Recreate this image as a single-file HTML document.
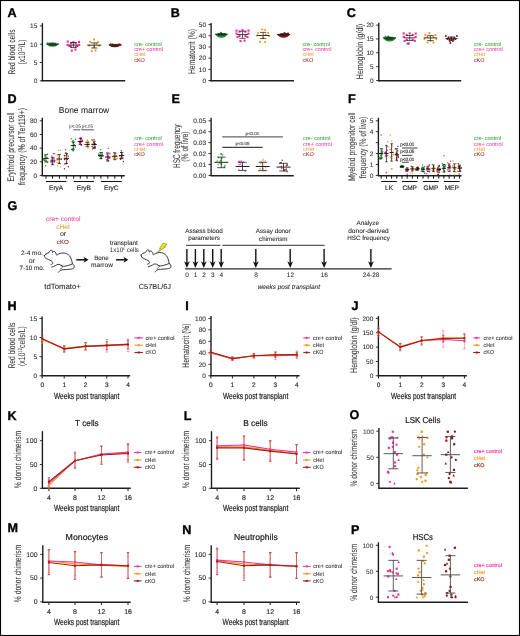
<!DOCTYPE html>
<html><head><meta charset="utf-8"><style>
html,body{margin:0;padding:0;background:#fff;}
svg{display:block;}
text{font-family:"Liberation Sans", sans-serif;text-rendering:geometricPrecision;}
</style></head><body>
<div style="will-change:transform;width:520px;height:636px">
<svg width="520" height="636" viewBox="0 0 520 636">
<rect x="0" y="0" width="520" height="636" fill="#fff"/>
<text x="7.40" y="16.50" font-size="12.6" fill="#000" font-weight="bold" stroke="#000" stroke-width="0.35">A</text>
<line x1="42.40" y1="23.20" x2="42.40" y2="81.40" stroke="#1e1e1e" stroke-width="1.4" />
<line x1="39.80" y1="80.80" x2="42.40" y2="80.80" stroke="#1e1e1e" stroke-width="0.9" />
<text x="37.30" y="83.10" font-size="6.5" fill="#333" text-anchor="end"  stroke="#333" stroke-width="0.1">0</text>
<line x1="39.80" y1="62.50" x2="42.40" y2="62.50" stroke="#1e1e1e" stroke-width="0.9" />
<text x="37.30" y="64.80" font-size="6.5" fill="#333" text-anchor="end"  stroke="#333" stroke-width="0.1">5</text>
<line x1="39.80" y1="44.20" x2="42.40" y2="44.20" stroke="#1e1e1e" stroke-width="0.9" />
<text x="37.30" y="46.50" font-size="6.5" fill="#333" text-anchor="end"  stroke="#333" stroke-width="0.1">10</text>
<line x1="39.80" y1="25.90" x2="42.40" y2="25.90" stroke="#1e1e1e" stroke-width="0.9" />
<text x="37.30" y="28.20" font-size="6.5" fill="#333" text-anchor="end"  stroke="#333" stroke-width="0.1">15</text>
<line x1="41.80" y1="80.80" x2="125.20" y2="80.80" stroke="#1e1e1e" stroke-width="1.4" />
<text transform="translate(14.90,52.00) rotate(-90)" x="0" y="0" font-size="9.6" fill="#3a3a3a" text-anchor="middle" textLength="45.00" lengthAdjust="spacingAndGlyphs"  stroke="#3a3a3a" stroke-width="0.08">Red blood cells</text>
<text transform="translate(24.8,52) rotate(-90)" x="0" y="0" font-size="9.6" fill="#333" text-anchor="middle" textLength="25" lengthAdjust="spacingAndGlyphs">(x10<tspan font-size="5.6" dy="-3.2">12</tspan><tspan dy="3.2">/L)</tspan></text>
<path d="M46.00,43.50 Q52.60,42.60 59.20,43.50 Q56.56,47.10 52.60,46.80 Q48.64,47.10 46.00,43.50 Z" fill="#1f8f2a"/>
<circle cx="50.66" cy="43.60" r="1.05" fill="#1f8f2a"/>
<circle cx="54.26" cy="44.12" r="1.05" fill="#1f8f2a"/>
<circle cx="52.99" cy="43.52" r="1.05" fill="#1f8f2a"/>
<circle cx="47.74" cy="43.23" r="1.05" fill="#1f8f2a"/>
<line x1="46.60" y1="44.20" x2="58.60" y2="44.20" stroke="#222" stroke-width="0.9" />
<line x1="52.60" y1="43.20" x2="52.60" y2="45.20" stroke="#222" stroke-width="0.7200000000000001" />
<line x1="49.10" y1="43.20" x2="56.10" y2="43.20" stroke="#222" stroke-width="0.7200000000000001" />
<line x1="49.10" y1="45.20" x2="56.10" y2="45.20" stroke="#222" stroke-width="0.7200000000000001" />
<rect x="66.75" y="40.55" width="2.10" height="2.10" fill="#ec2c8f"/>
<rect x="77.95" y="40.95" width="2.10" height="2.10" fill="#ec2c8f"/>
<rect x="66.55" y="43.95" width="2.10" height="2.10" fill="#ec2c8f"/>
<rect x="78.15" y="43.75" width="2.10" height="2.10" fill="#ec2c8f"/>
<rect x="69.95" y="41.95" width="2.10" height="2.10" fill="#ec2c8f"/>
<rect x="74.75" y="41.95" width="2.10" height="2.10" fill="#ec2c8f"/>
<rect x="69.95" y="45.55" width="2.10" height="2.10" fill="#ec2c8f"/>
<rect x="74.75" y="45.55" width="2.10" height="2.10" fill="#ec2c8f"/>
<rect x="70.75" y="49.55" width="2.10" height="2.10" fill="#ec2c8f"/>
<rect x="74.35" y="48.55" width="2.10" height="2.10" fill="#ec2c8f"/>
<rect x="72.35" y="41.15" width="2.10" height="2.10" fill="#ec2c8f"/>
<rect x="68.35" y="44.95" width="2.10" height="2.10" fill="#ec2c8f"/>
<rect x="76.35" y="44.95" width="2.10" height="2.10" fill="#ec2c8f"/>
<line x1="68.80" y1="45.00" x2="78.00" y2="45.00" stroke="#222" stroke-width="0.9" />
<line x1="73.40" y1="42.50" x2="73.40" y2="47.50" stroke="#222" stroke-width="0.7200000000000001" />
<line x1="70.40" y1="42.50" x2="76.40" y2="42.50" stroke="#222" stroke-width="0.7200000000000001" />
<line x1="70.40" y1="47.50" x2="76.40" y2="47.50" stroke="#222" stroke-width="0.7200000000000001" />
<circle cx="94.00" cy="39.60" r="1.1" fill="#f39a1e"/>
<circle cx="90.20" cy="41.90" r="1.1" fill="#f39a1e"/>
<circle cx="98.00" cy="42.20" r="1.1" fill="#f39a1e"/>
<circle cx="91.70" cy="51.20" r="1.1" fill="#f39a1e"/>
<circle cx="95.60" cy="50.40" r="1.1" fill="#f39a1e"/>
<circle cx="89.20" cy="45.40" r="1.1" fill="#f39a1e"/>
<circle cx="99.20" cy="45.70" r="1.1" fill="#f39a1e"/>
<circle cx="94.20" cy="47.20" r="1.1" fill="#f39a1e"/>
<circle cx="96.70" cy="43.70" r="1.1" fill="#f39a1e"/>
<line x1="87.20" y1="45.20" x2="101.20" y2="45.20" stroke="#222" stroke-width="0.9" />
<line x1="94.20" y1="42.90" x2="94.20" y2="48.00" stroke="#222" stroke-width="0.7200000000000001" />
<line x1="91.00" y1="42.90" x2="97.40" y2="42.90" stroke="#222" stroke-width="0.7200000000000001" />
<line x1="91.00" y1="48.00" x2="97.40" y2="48.00" stroke="#222" stroke-width="0.7200000000000001" />
<path d="M108.40,44.60 Q114.80,43.70 121.20,44.60 Q118.64,47.60 114.80,47.30 Q110.96,47.60 108.40,44.60 Z" fill="#8e1515"/>
<circle cx="120.52" cy="44.79" r="1.05" fill="#8e1515"/>
<circle cx="119.10" cy="44.38" r="1.05" fill="#8e1515"/>
<circle cx="110.53" cy="44.20" r="1.05" fill="#8e1515"/>
<circle cx="112.50" cy="44.64" r="1.05" fill="#8e1515"/>
<line x1="108.80" y1="45.30" x2="120.80" y2="45.30" stroke="#222" stroke-width="0.9" />
<line x1="114.80" y1="44.40" x2="114.80" y2="46.20" stroke="#222" stroke-width="0.7200000000000001" />
<line x1="111.30" y1="44.40" x2="118.30" y2="44.40" stroke="#222" stroke-width="0.7200000000000001" />
<line x1="111.30" y1="46.20" x2="118.30" y2="46.20" stroke="#222" stroke-width="0.7200000000000001" />
<text x="134.20" y="45.50" font-size="5.5" fill="#35a83a"  stroke="#35a83a" stroke-width="0.05">cre- control</text>
<text x="134.20" y="50.85" font-size="5.5" fill="#f43fae"  stroke="#f43fae" stroke-width="0.05">cre+ control</text>
<text x="134.20" y="56.20" font-size="5.5" fill="#f6a23a"  stroke="#f6a23a" stroke-width="0.05">cHet</text>
<text x="134.20" y="61.55" font-size="5.5" fill="#a8302c"  stroke="#a8302c" stroke-width="0.05">cKO</text>
<text x="170.70" y="16.50" font-size="12.6" fill="#000" font-weight="bold" stroke="#000" stroke-width="0.35">B</text>
<line x1="211.10" y1="23.00" x2="211.10" y2="81.40" stroke="#1e1e1e" stroke-width="1.4" />
<line x1="208.50" y1="80.50" x2="211.10" y2="80.50" stroke="#1e1e1e" stroke-width="0.9" />
<text x="206.00" y="82.80" font-size="6.5" fill="#333" text-anchor="end"  stroke="#333" stroke-width="0.1">0</text>
<line x1="208.50" y1="69.32" x2="211.10" y2="69.32" stroke="#1e1e1e" stroke-width="0.9" />
<text x="206.00" y="71.62" font-size="6.5" fill="#333" text-anchor="end"  stroke="#333" stroke-width="0.1">10</text>
<line x1="208.50" y1="58.14" x2="211.10" y2="58.14" stroke="#1e1e1e" stroke-width="0.9" />
<text x="206.00" y="60.44" font-size="6.5" fill="#333" text-anchor="end"  stroke="#333" stroke-width="0.1">20</text>
<line x1="208.50" y1="46.96" x2="211.10" y2="46.96" stroke="#1e1e1e" stroke-width="0.9" />
<text x="206.00" y="49.26" font-size="6.5" fill="#333" text-anchor="end"  stroke="#333" stroke-width="0.1">30</text>
<line x1="208.50" y1="35.78" x2="211.10" y2="35.78" stroke="#1e1e1e" stroke-width="0.9" />
<text x="206.00" y="38.08" font-size="6.5" fill="#333" text-anchor="end"  stroke="#333" stroke-width="0.1">40</text>
<line x1="208.50" y1="24.60" x2="211.10" y2="24.60" stroke="#1e1e1e" stroke-width="0.9" />
<text x="206.00" y="26.90" font-size="6.5" fill="#333" text-anchor="end"  stroke="#333" stroke-width="0.1">50</text>
<line x1="210.60" y1="80.80" x2="294.00" y2="80.80" stroke="#1e1e1e" stroke-width="1.4" />
<text transform="translate(194.70,51.50) rotate(-90)" x="0" y="0" font-size="9.6" fill="#3a3a3a" text-anchor="middle" textLength="45.00" lengthAdjust="spacingAndGlyphs"  stroke="#3a3a3a" stroke-width="0.08">Hematocrit (%)</text>
<path d="M214.70,33.70 Q221.40,32.80 228.10,33.70 Q225.42,38.00 221.40,37.70 Q217.38,38.00 214.70,33.70 Z" fill="#1f8f2a"/>
<circle cx="220.84" cy="32.86" r="1.05" fill="#1f8f2a"/>
<circle cx="224.93" cy="33.87" r="1.05" fill="#1f8f2a"/>
<circle cx="218.33" cy="34.02" r="1.05" fill="#1f8f2a"/>
<circle cx="221.70" cy="33.72" r="1.05" fill="#1f8f2a"/>
<line x1="215.40" y1="34.40" x2="227.40" y2="34.40" stroke="#222" stroke-width="0.9" />
<line x1="221.40" y1="33.60" x2="221.40" y2="35.20" stroke="#222" stroke-width="0.7200000000000001" />
<line x1="217.90" y1="33.60" x2="224.90" y2="33.60" stroke="#222" stroke-width="0.7200000000000001" />
<line x1="217.90" y1="35.20" x2="224.90" y2="35.20" stroke="#222" stroke-width="0.7200000000000001" />
<rect x="235.45" y="29.55" width="2.10" height="2.10" fill="#ec2c8f"/>
<rect x="247.45" y="29.55" width="2.10" height="2.10" fill="#ec2c8f"/>
<rect x="235.45" y="32.55" width="2.10" height="2.10" fill="#ec2c8f"/>
<rect x="247.45" y="32.55" width="2.10" height="2.10" fill="#ec2c8f"/>
<rect x="238.45" y="30.55" width="2.10" height="2.10" fill="#ec2c8f"/>
<rect x="244.45" y="30.55" width="2.10" height="2.10" fill="#ec2c8f"/>
<rect x="238.45" y="35.05" width="2.10" height="2.10" fill="#ec2c8f"/>
<rect x="244.45" y="35.05" width="2.10" height="2.10" fill="#ec2c8f"/>
<rect x="239.45" y="40.05" width="2.10" height="2.10" fill="#ec2c8f"/>
<rect x="243.45" y="39.55" width="2.10" height="2.10" fill="#ec2c8f"/>
<rect x="241.45" y="29.05" width="2.10" height="2.10" fill="#ec2c8f"/>
<rect x="236.45" y="36.05" width="2.10" height="2.10" fill="#ec2c8f"/>
<rect x="246.45" y="36.05" width="2.10" height="2.10" fill="#ec2c8f"/>
<line x1="237.00" y1="34.60" x2="248.00" y2="34.60" stroke="#222" stroke-width="0.9" />
<line x1="242.50" y1="31.30" x2="242.50" y2="38.30" stroke="#222" stroke-width="0.7200000000000001" />
<line x1="239.30" y1="31.30" x2="245.70" y2="31.30" stroke="#222" stroke-width="0.7200000000000001" />
<line x1="239.30" y1="38.30" x2="245.70" y2="38.30" stroke="#222" stroke-width="0.7200000000000001" />
<circle cx="262.10" cy="29.50" r="1.1" fill="#f39a1e"/>
<circle cx="265.10" cy="30.00" r="1.1" fill="#f39a1e"/>
<circle cx="258.10" cy="33.00" r="1.1" fill="#f39a1e"/>
<circle cx="268.10" cy="33.00" r="1.1" fill="#f39a1e"/>
<circle cx="260.10" cy="41.80" r="1.1" fill="#f39a1e"/>
<circle cx="265.10" cy="42.00" r="1.1" fill="#f39a1e"/>
<circle cx="257.10" cy="35.50" r="1.1" fill="#f39a1e"/>
<circle cx="269.10" cy="36.00" r="1.1" fill="#f39a1e"/>
<circle cx="263.10" cy="38.00" r="1.1" fill="#f39a1e"/>
<circle cx="265.60" cy="34.50" r="1.1" fill="#f39a1e"/>
<line x1="256.60" y1="35.50" x2="269.60" y2="35.50" stroke="#222" stroke-width="0.9" />
<line x1="263.10" y1="32.40" x2="263.10" y2="38.60" stroke="#222" stroke-width="0.7200000000000001" />
<line x1="259.90" y1="32.40" x2="266.30" y2="32.40" stroke="#222" stroke-width="0.7200000000000001" />
<line x1="259.90" y1="38.60" x2="266.30" y2="38.60" stroke="#222" stroke-width="0.7200000000000001" />
<path d="M276.80,33.90 Q283.60,33.00 290.40,33.90 Q287.68,38.00 283.60,37.70 Q279.52,38.00 276.80,33.90 Z" fill="#8e1515"/>
<circle cx="288.11" cy="33.62" r="1.05" fill="#8e1515"/>
<circle cx="285.94" cy="34.07" r="1.05" fill="#8e1515"/>
<circle cx="284.56" cy="33.04" r="1.05" fill="#8e1515"/>
<circle cx="287.68" cy="33.74" r="1.05" fill="#8e1515"/>
<line x1="277.60" y1="34.60" x2="289.60" y2="34.60" stroke="#222" stroke-width="0.9" />
<line x1="283.60" y1="33.60" x2="283.60" y2="35.60" stroke="#222" stroke-width="0.7200000000000001" />
<line x1="280.10" y1="33.60" x2="287.10" y2="33.60" stroke="#222" stroke-width="0.7200000000000001" />
<line x1="280.10" y1="35.60" x2="287.10" y2="35.60" stroke="#222" stroke-width="0.7200000000000001" />
<text x="302.50" y="45.50" font-size="5.5" fill="#35a83a"  stroke="#35a83a" stroke-width="0.05">cre- control</text>
<text x="302.50" y="50.85" font-size="5.5" fill="#f43fae"  stroke="#f43fae" stroke-width="0.05">cre+ control</text>
<text x="302.50" y="56.20" font-size="5.5" fill="#f6a23a"  stroke="#f6a23a" stroke-width="0.05">cHet</text>
<text x="302.50" y="61.55" font-size="5.5" fill="#a8302c"  stroke="#a8302c" stroke-width="0.05">cKO</text>
<text x="346.80" y="16.50" font-size="12.6" fill="#000" font-weight="bold" stroke="#000" stroke-width="0.35">C</text>
<line x1="378.80" y1="22.80" x2="378.80" y2="81.40" stroke="#1e1e1e" stroke-width="1.4" />
<line x1="376.20" y1="80.50" x2="378.80" y2="80.50" stroke="#1e1e1e" stroke-width="0.9" />
<text x="373.70" y="82.80" font-size="6.5" fill="#333" text-anchor="end"  stroke="#333" stroke-width="0.1">0</text>
<line x1="376.20" y1="66.65" x2="378.80" y2="66.65" stroke="#1e1e1e" stroke-width="0.9" />
<text x="373.70" y="68.95" font-size="6.5" fill="#333" text-anchor="end"  stroke="#333" stroke-width="0.1">5</text>
<line x1="376.20" y1="52.80" x2="378.80" y2="52.80" stroke="#1e1e1e" stroke-width="0.9" />
<text x="373.70" y="55.10" font-size="6.5" fill="#333" text-anchor="end"  stroke="#333" stroke-width="0.1">10</text>
<line x1="376.20" y1="38.95" x2="378.80" y2="38.95" stroke="#1e1e1e" stroke-width="0.9" />
<text x="373.70" y="41.25" font-size="6.5" fill="#333" text-anchor="end"  stroke="#333" stroke-width="0.1">15</text>
<line x1="376.20" y1="25.10" x2="378.80" y2="25.10" stroke="#1e1e1e" stroke-width="0.9" />
<text x="373.70" y="27.40" font-size="6.5" fill="#333" text-anchor="end"  stroke="#333" stroke-width="0.1">20</text>
<line x1="378.30" y1="80.80" x2="461.20" y2="80.80" stroke="#1e1e1e" stroke-width="1.4" />
<text transform="translate(362.65,51.50) rotate(-90)" x="0" y="0" font-size="9.6" fill="#3a3a3a" text-anchor="middle" textLength="55.40" lengthAdjust="spacingAndGlyphs"  stroke="#3a3a3a" stroke-width="0.08">Hemoglobin (g/dl)</text>
<path d="M382.80,37.30 Q389.60,36.40 396.40,37.30 Q393.68,41.90 389.60,41.60 Q385.52,41.90 382.80,37.30 Z" fill="#1f8f2a"/>
<circle cx="385.62" cy="36.97" r="1.05" fill="#1f8f2a"/>
<circle cx="384.31" cy="37.81" r="1.05" fill="#1f8f2a"/>
<circle cx="385.15" cy="37.93" r="1.05" fill="#1f8f2a"/>
<circle cx="388.29" cy="36.64" r="1.05" fill="#1f8f2a"/>
<line x1="383.60" y1="38.30" x2="395.60" y2="38.30" stroke="#222" stroke-width="0.9" />
<line x1="389.60" y1="37.30" x2="389.60" y2="39.30" stroke="#222" stroke-width="0.7200000000000001" />
<line x1="386.10" y1="37.30" x2="393.10" y2="37.30" stroke="#222" stroke-width="0.7200000000000001" />
<line x1="386.10" y1="39.30" x2="393.10" y2="39.30" stroke="#222" stroke-width="0.7200000000000001" />
<rect x="402.65" y="32.35" width="2.10" height="2.10" fill="#ec2c8f"/>
<rect x="414.65" y="32.55" width="2.10" height="2.10" fill="#ec2c8f"/>
<rect x="402.65" y="35.85" width="2.10" height="2.10" fill="#ec2c8f"/>
<rect x="414.65" y="35.85" width="2.10" height="2.10" fill="#ec2c8f"/>
<rect x="405.65" y="33.85" width="2.10" height="2.10" fill="#ec2c8f"/>
<rect x="411.65" y="33.85" width="2.10" height="2.10" fill="#ec2c8f"/>
<rect x="405.65" y="38.85" width="2.10" height="2.10" fill="#ec2c8f"/>
<rect x="411.65" y="38.85" width="2.10" height="2.10" fill="#ec2c8f"/>
<rect x="407.65" y="42.35" width="2.10" height="2.10" fill="#ec2c8f"/>
<rect x="408.65" y="32.35" width="2.10" height="2.10" fill="#ec2c8f"/>
<rect x="403.65" y="39.85" width="2.10" height="2.10" fill="#ec2c8f"/>
<rect x="413.65" y="39.85" width="2.10" height="2.10" fill="#ec2c8f"/>
<rect x="406.65" y="42.65" width="2.10" height="2.10" fill="#ec2c8f"/>
<line x1="404.20" y1="37.90" x2="415.20" y2="37.90" stroke="#222" stroke-width="0.9" />
<line x1="409.70" y1="35.50" x2="409.70" y2="40.50" stroke="#222" stroke-width="0.7200000000000001" />
<line x1="406.50" y1="35.50" x2="412.90" y2="35.50" stroke="#222" stroke-width="0.7200000000000001" />
<line x1="406.50" y1="40.50" x2="412.90" y2="40.50" stroke="#222" stroke-width="0.7200000000000001" />
<circle cx="429.40" cy="33.20" r="1.1" fill="#f39a1e"/>
<circle cx="425.40" cy="34.90" r="1.1" fill="#f39a1e"/>
<circle cx="435.40" cy="34.90" r="1.1" fill="#f39a1e"/>
<circle cx="424.40" cy="38.90" r="1.1" fill="#f39a1e"/>
<circle cx="436.40" cy="38.90" r="1.1" fill="#f39a1e"/>
<circle cx="427.40" cy="42.40" r="1.1" fill="#f39a1e"/>
<circle cx="433.40" cy="42.40" r="1.1" fill="#f39a1e"/>
<circle cx="430.40" cy="40.90" r="1.1" fill="#f39a1e"/>
<circle cx="427.40" cy="36.90" r="1.1" fill="#f39a1e"/>
<circle cx="433.40" cy="36.90" r="1.1" fill="#f39a1e"/>
<line x1="423.90" y1="37.90" x2="436.90" y2="37.90" stroke="#222" stroke-width="0.9" />
<line x1="430.40" y1="35.50" x2="430.40" y2="40.50" stroke="#222" stroke-width="0.7200000000000001" />
<line x1="427.20" y1="35.50" x2="433.60" y2="35.50" stroke="#222" stroke-width="0.7200000000000001" />
<line x1="427.20" y1="40.50" x2="433.60" y2="40.50" stroke="#222" stroke-width="0.7200000000000001" />
<circle cx="445.90" cy="36.10" r="1.0" fill="#8e1515"/>
<circle cx="456.90" cy="36.10" r="1.0" fill="#8e1515"/>
<circle cx="447.40" cy="39.10" r="1.0" fill="#8e1515"/>
<circle cx="455.40" cy="39.10" r="1.0" fill="#8e1515"/>
<circle cx="449.40" cy="39.60" r="1.0" fill="#8e1515"/>
<circle cx="453.40" cy="39.60" r="1.0" fill="#8e1515"/>
<circle cx="451.40" cy="40.10" r="1.0" fill="#8e1515"/>
<circle cx="450.40" cy="43.10" r="1.0" fill="#8e1515"/>
<circle cx="448.40" cy="37.60" r="1.0" fill="#8e1515"/>
<circle cx="454.40" cy="37.60" r="1.0" fill="#8e1515"/>
<circle cx="451.40" cy="37.60" r="1.0" fill="#8e1515"/>
<circle cx="449.90" cy="41.10" r="1.0" fill="#8e1515"/>
<circle cx="452.90" cy="41.10" r="1.0" fill="#8e1515"/>
<line x1="445.40" y1="38.60" x2="457.40" y2="38.60" stroke="#222" stroke-width="0.9" />
<line x1="451.40" y1="37.00" x2="451.40" y2="40.00" stroke="#222" stroke-width="0.7200000000000001" />
<line x1="448.40" y1="37.00" x2="454.40" y2="37.00" stroke="#222" stroke-width="0.7200000000000001" />
<line x1="448.40" y1="40.00" x2="454.40" y2="40.00" stroke="#222" stroke-width="0.7200000000000001" />
<text x="473.80" y="45.50" font-size="5.5" fill="#35a83a"  stroke="#35a83a" stroke-width="0.05">cre- control</text>
<text x="473.80" y="50.85" font-size="5.5" fill="#f43fae"  stroke="#f43fae" stroke-width="0.05">cre+ control</text>
<text x="473.80" y="56.20" font-size="5.5" fill="#f6a23a"  stroke="#f6a23a" stroke-width="0.05">cHet</text>
<text x="473.80" y="61.55" font-size="5.5" fill="#a8302c"  stroke="#a8302c" stroke-width="0.05">cKO</text>
<text x="7.40" y="103.40" font-size="12.6" fill="#000" font-weight="bold" stroke="#000" stroke-width="0.35">D</text>
<line x1="42.30" y1="117.70" x2="42.30" y2="176.00" stroke="#1e1e1e" stroke-width="1.4" />
<line x1="39.70" y1="175.40" x2="42.30" y2="175.40" stroke="#1e1e1e" stroke-width="0.9" />
<text x="37.20" y="177.70" font-size="6.5" fill="#333" text-anchor="end"  stroke="#333" stroke-width="0.1">0</text>
<line x1="39.70" y1="161.75" x2="42.30" y2="161.75" stroke="#1e1e1e" stroke-width="0.9" />
<text x="37.20" y="164.05" font-size="6.5" fill="#333" text-anchor="end"  stroke="#333" stroke-width="0.1">20</text>
<line x1="39.70" y1="148.10" x2="42.30" y2="148.10" stroke="#1e1e1e" stroke-width="0.9" />
<text x="37.20" y="150.40" font-size="6.5" fill="#333" text-anchor="end"  stroke="#333" stroke-width="0.1">40</text>
<line x1="39.70" y1="134.45" x2="42.30" y2="134.45" stroke="#1e1e1e" stroke-width="0.9" />
<text x="37.20" y="136.75" font-size="6.5" fill="#333" text-anchor="end"  stroke="#333" stroke-width="0.1">60</text>
<line x1="39.70" y1="120.80" x2="42.30" y2="120.80" stroke="#1e1e1e" stroke-width="0.9" />
<text x="37.20" y="123.10" font-size="6.5" fill="#333" text-anchor="end"  stroke="#333" stroke-width="0.1">80</text>
<line x1="41.70" y1="175.70" x2="124.80" y2="175.70" stroke="#1e1e1e" stroke-width="1.4" />
<text transform="translate(13.70,147.00) rotate(-90)" x="0" y="0" font-size="9.6" fill="#3a3a3a" text-anchor="middle" textLength="69.00" lengthAdjust="spacingAndGlyphs"  stroke="#3a3a3a" stroke-width="0.08">Erythroid precursor cell</text>
<text transform="translate(24.60,146.50) rotate(-90)" x="0" y="0" font-size="9.6" fill="#3a3a3a" text-anchor="middle" textLength="77.00" lengthAdjust="spacingAndGlyphs"  stroke="#3a3a3a" stroke-width="0.08">frequency (% of Ter119+)</text>
<text x="84.00" y="113.00" font-size="8.6" fill="#222" text-anchor="middle" textLength="50.50" lengthAdjust="spacingAndGlyphs"  stroke="#222" stroke-width="0.05">Bone marrow</text>
<line x1="46.00" y1="175.70" x2="46.00" y2="178.70" stroke="#111" stroke-width="1.0" />
<line x1="52.60" y1="175.70" x2="52.60" y2="178.70" stroke="#111" stroke-width="1.0" />
<line x1="59.40" y1="175.70" x2="59.40" y2="178.70" stroke="#111" stroke-width="1.0" />
<line x1="66.30" y1="175.70" x2="66.30" y2="178.70" stroke="#111" stroke-width="1.0" />
<line x1="73.70" y1="175.70" x2="73.70" y2="178.70" stroke="#111" stroke-width="1.0" />
<line x1="80.30" y1="175.70" x2="80.30" y2="178.70" stroke="#111" stroke-width="1.0" />
<line x1="87.10" y1="175.70" x2="87.10" y2="178.70" stroke="#111" stroke-width="1.0" />
<line x1="94.00" y1="175.70" x2="94.00" y2="178.70" stroke="#111" stroke-width="1.0" />
<line x1="100.90" y1="175.70" x2="100.90" y2="178.70" stroke="#111" stroke-width="1.0" />
<line x1="107.80" y1="175.70" x2="107.80" y2="178.70" stroke="#111" stroke-width="1.0" />
<line x1="114.80" y1="175.70" x2="114.80" y2="178.70" stroke="#111" stroke-width="1.0" />
<line x1="121.70" y1="175.70" x2="121.70" y2="178.70" stroke="#111" stroke-width="1.0" />
<line x1="46.00" y1="181.50" x2="66.30" y2="181.50" stroke="#111" stroke-width="1.0" />
<text x="56.15" y="190.40" font-size="6.5" fill="#333" text-anchor="middle"  stroke="#333" stroke-width="0.2">EryA</text>
<line x1="73.70" y1="181.50" x2="94.00" y2="181.50" stroke="#111" stroke-width="1.0" />
<text x="83.85" y="190.40" font-size="6.5" fill="#333" text-anchor="middle"  stroke="#333" stroke-width="0.2">EryB</text>
<line x1="100.90" y1="181.50" x2="121.70" y2="181.50" stroke="#111" stroke-width="1.0" />
<text x="111.30" y="190.40" font-size="6.5" fill="#333" text-anchor="middle"  stroke="#333" stroke-width="0.2">EryC</text>
<circle cx="47.20" cy="162.18" r="0.72" fill="#1f8f2a"/>
<circle cx="47.85" cy="162.08" r="0.72" fill="#1f8f2a"/>
<circle cx="43.83" cy="158.80" r="0.72" fill="#1f8f2a"/>
<circle cx="45.75" cy="165.68" r="0.72" fill="#1f8f2a"/>
<circle cx="47.66" cy="153.92" r="0.72" fill="#1f8f2a"/>
<circle cx="44.20" cy="159.98" r="0.72" fill="#1f8f2a"/>
<circle cx="46.09" cy="160.74" r="0.72" fill="#1f8f2a"/>
<circle cx="46.23" cy="157.86" r="0.72" fill="#1f8f2a"/>
<circle cx="44.93" cy="156.07" r="0.72" fill="#1f8f2a"/>
<circle cx="47.73" cy="158.15" r="0.72" fill="#1f8f2a"/>
<circle cx="47.21" cy="158.15" r="0.72" fill="#1f8f2a"/>
<circle cx="44.31" cy="160.25" r="0.72" fill="#1f8f2a"/>
<circle cx="43.71" cy="159.59" r="0.72" fill="#1f8f2a"/>
<line x1="43.20" y1="158.34" x2="48.60" y2="158.34" stroke="#111" stroke-width="0.9" />
<line x1="45.90" y1="154.72" x2="45.90" y2="161.95" stroke="#111" stroke-width="0.7" />
<line x1="44.20" y1="154.72" x2="47.60" y2="154.72" stroke="#111" stroke-width="0.7" />
<line x1="44.20" y1="161.95" x2="47.60" y2="161.95" stroke="#111" stroke-width="0.7" />
<circle cx="54.23" cy="162.21" r="0.72" fill="#ec2c8f"/>
<circle cx="54.72" cy="160.50" r="0.72" fill="#ec2c8f"/>
<circle cx="54.24" cy="158.87" r="0.72" fill="#ec2c8f"/>
<circle cx="52.77" cy="163.10" r="0.72" fill="#ec2c8f"/>
<circle cx="53.38" cy="153.47" r="0.72" fill="#ec2c8f"/>
<circle cx="53.44" cy="158.90" r="0.72" fill="#ec2c8f"/>
<circle cx="54.65" cy="153.63" r="0.72" fill="#ec2c8f"/>
<circle cx="51.99" cy="158.91" r="0.72" fill="#ec2c8f"/>
<circle cx="51.13" cy="162.77" r="0.72" fill="#ec2c8f"/>
<circle cx="51.73" cy="160.34" r="0.72" fill="#ec2c8f"/>
<circle cx="53.05" cy="160.12" r="0.72" fill="#ec2c8f"/>
<circle cx="51.89" cy="156.17" r="0.72" fill="#ec2c8f"/>
<circle cx="51.76" cy="160.96" r="0.72" fill="#ec2c8f"/>
<line x1="49.90" y1="161.07" x2="55.30" y2="161.07" stroke="#111" stroke-width="0.9" />
<line x1="52.60" y1="157.45" x2="52.60" y2="164.68" stroke="#111" stroke-width="0.7" />
<line x1="50.90" y1="157.45" x2="54.30" y2="157.45" stroke="#111" stroke-width="0.7" />
<line x1="50.90" y1="164.68" x2="54.30" y2="164.68" stroke="#111" stroke-width="0.7" />
<circle cx="58.49" cy="157.11" r="0.72" fill="#f39a1e"/>
<circle cx="59.22" cy="163.17" r="0.72" fill="#f39a1e"/>
<circle cx="61.39" cy="159.40" r="0.72" fill="#f39a1e"/>
<circle cx="57.20" cy="160.33" r="0.72" fill="#f39a1e"/>
<circle cx="57.18" cy="159.03" r="0.72" fill="#f39a1e"/>
<circle cx="60.57" cy="166.73" r="0.72" fill="#f39a1e"/>
<circle cx="57.14" cy="162.52" r="0.72" fill="#f39a1e"/>
<circle cx="57.31" cy="155.11" r="0.72" fill="#f39a1e"/>
<circle cx="57.96" cy="154.84" r="0.72" fill="#f39a1e"/>
<circle cx="60.43" cy="149.99" r="0.72" fill="#f39a1e"/>
<circle cx="58.62" cy="150.41" r="0.72" fill="#f39a1e"/>
<circle cx="58.66" cy="163.10" r="0.72" fill="#f39a1e"/>
<circle cx="57.58" cy="165.84" r="0.72" fill="#f39a1e"/>
<line x1="56.60" y1="159.02" x2="62.00" y2="159.02" stroke="#111" stroke-width="0.9" />
<line x1="59.30" y1="154.58" x2="59.30" y2="163.46" stroke="#111" stroke-width="0.7" />
<line x1="57.60" y1="154.58" x2="61.00" y2="154.58" stroke="#111" stroke-width="0.7" />
<line x1="57.60" y1="163.46" x2="61.00" y2="163.46" stroke="#111" stroke-width="0.7" />
<circle cx="67.49" cy="159.52" r="0.72" fill="#8e1515"/>
<circle cx="64.36" cy="155.77" r="0.72" fill="#8e1515"/>
<circle cx="68.36" cy="166.72" r="0.72" fill="#8e1515"/>
<circle cx="66.89" cy="154.94" r="0.72" fill="#8e1515"/>
<circle cx="68.24" cy="156.15" r="0.72" fill="#8e1515"/>
<circle cx="66.60" cy="163.72" r="0.72" fill="#8e1515"/>
<circle cx="65.57" cy="149.85" r="0.72" fill="#8e1515"/>
<circle cx="64.54" cy="159.46" r="0.72" fill="#8e1515"/>
<circle cx="64.86" cy="155.81" r="0.72" fill="#8e1515"/>
<circle cx="64.91" cy="163.92" r="0.72" fill="#8e1515"/>
<circle cx="64.41" cy="168.66" r="0.72" fill="#8e1515"/>
<circle cx="65.99" cy="152.89" r="0.72" fill="#8e1515"/>
<circle cx="65.24" cy="158.79" r="0.72" fill="#8e1515"/>
<line x1="63.70" y1="158.34" x2="69.10" y2="158.34" stroke="#111" stroke-width="0.9" />
<line x1="66.40" y1="153.42" x2="66.40" y2="163.25" stroke="#111" stroke-width="0.7" />
<line x1="64.70" y1="153.42" x2="68.10" y2="153.42" stroke="#111" stroke-width="0.7" />
<line x1="64.70" y1="163.25" x2="68.10" y2="163.25" stroke="#111" stroke-width="0.7" />
<circle cx="73.10" cy="150.63" r="0.72" fill="#1f8f2a"/>
<circle cx="72.96" cy="148.97" r="0.72" fill="#1f8f2a"/>
<circle cx="71.24" cy="138.77" r="0.72" fill="#1f8f2a"/>
<circle cx="73.27" cy="143.09" r="0.72" fill="#1f8f2a"/>
<circle cx="74.32" cy="144.67" r="0.72" fill="#1f8f2a"/>
<circle cx="75.28" cy="147.04" r="0.72" fill="#1f8f2a"/>
<circle cx="71.57" cy="149.49" r="0.72" fill="#1f8f2a"/>
<circle cx="73.01" cy="149.76" r="0.72" fill="#1f8f2a"/>
<circle cx="72.40" cy="141.86" r="0.72" fill="#1f8f2a"/>
<circle cx="73.09" cy="140.51" r="0.72" fill="#1f8f2a"/>
<circle cx="75.39" cy="139.21" r="0.72" fill="#1f8f2a"/>
<circle cx="73.10" cy="145.60" r="0.72" fill="#1f8f2a"/>
<circle cx="73.21" cy="150.82" r="0.72" fill="#1f8f2a"/>
<line x1="70.60" y1="145.57" x2="76.00" y2="145.57" stroke="#111" stroke-width="0.9" />
<line x1="73.30" y1="141.96" x2="73.30" y2="149.19" stroke="#111" stroke-width="0.7" />
<line x1="71.60" y1="141.96" x2="75.00" y2="141.96" stroke="#111" stroke-width="0.7" />
<line x1="71.60" y1="149.19" x2="75.00" y2="149.19" stroke="#111" stroke-width="0.7" />
<circle cx="79.48" cy="141.15" r="0.72" fill="#ec2c8f"/>
<circle cx="79.86" cy="142.73" r="0.72" fill="#ec2c8f"/>
<circle cx="82.55" cy="140.62" r="0.72" fill="#ec2c8f"/>
<circle cx="80.40" cy="137.80" r="0.72" fill="#ec2c8f"/>
<circle cx="79.69" cy="142.43" r="0.72" fill="#ec2c8f"/>
<circle cx="81.64" cy="139.65" r="0.72" fill="#ec2c8f"/>
<circle cx="82.02" cy="140.33" r="0.72" fill="#ec2c8f"/>
<circle cx="81.61" cy="144.54" r="0.72" fill="#ec2c8f"/>
<circle cx="81.26" cy="137.85" r="0.72" fill="#ec2c8f"/>
<circle cx="79.80" cy="143.83" r="0.72" fill="#ec2c8f"/>
<circle cx="81.30" cy="145.39" r="0.72" fill="#ec2c8f"/>
<circle cx="81.59" cy="142.08" r="0.72" fill="#ec2c8f"/>
<circle cx="81.24" cy="138.42" r="0.72" fill="#ec2c8f"/>
<line x1="77.70" y1="141.48" x2="83.10" y2="141.48" stroke="#111" stroke-width="0.9" />
<line x1="80.40" y1="138.48" x2="80.40" y2="144.48" stroke="#111" stroke-width="0.7" />
<line x1="78.70" y1="138.48" x2="82.10" y2="138.48" stroke="#111" stroke-width="0.7" />
<line x1="78.70" y1="144.48" x2="82.10" y2="144.48" stroke="#111" stroke-width="0.7" />
<circle cx="87.86" cy="145.77" r="0.72" fill="#f39a1e"/>
<circle cx="87.55" cy="139.92" r="0.72" fill="#f39a1e"/>
<circle cx="86.10" cy="142.02" r="0.72" fill="#f39a1e"/>
<circle cx="87.96" cy="144.30" r="0.72" fill="#f39a1e"/>
<circle cx="87.85" cy="148.01" r="0.72" fill="#f39a1e"/>
<circle cx="88.51" cy="143.65" r="0.72" fill="#f39a1e"/>
<circle cx="88.25" cy="146.11" r="0.72" fill="#f39a1e"/>
<circle cx="88.64" cy="142.18" r="0.72" fill="#f39a1e"/>
<circle cx="88.83" cy="146.71" r="0.72" fill="#f39a1e"/>
<circle cx="88.03" cy="141.42" r="0.72" fill="#f39a1e"/>
<circle cx="87.28" cy="139.90" r="0.72" fill="#f39a1e"/>
<circle cx="87.33" cy="145.22" r="0.72" fill="#f39a1e"/>
<circle cx="89.12" cy="142.60" r="0.72" fill="#f39a1e"/>
<line x1="84.50" y1="144.48" x2="89.90" y2="144.48" stroke="#111" stroke-width="0.9" />
<line x1="87.20" y1="142.30" x2="87.20" y2="146.67" stroke="#111" stroke-width="0.7" />
<line x1="85.50" y1="142.30" x2="88.90" y2="142.30" stroke="#111" stroke-width="0.7" />
<line x1="85.50" y1="146.67" x2="88.90" y2="146.67" stroke="#111" stroke-width="0.7" />
<circle cx="94.00" cy="139.63" r="0.72" fill="#8e1515"/>
<circle cx="95.11" cy="146.17" r="0.72" fill="#8e1515"/>
<circle cx="92.66" cy="148.87" r="0.72" fill="#8e1515"/>
<circle cx="94.83" cy="143.75" r="0.72" fill="#8e1515"/>
<circle cx="93.75" cy="148.30" r="0.72" fill="#8e1515"/>
<circle cx="94.70" cy="148.11" r="0.72" fill="#8e1515"/>
<circle cx="95.07" cy="148.05" r="0.72" fill="#8e1515"/>
<circle cx="93.84" cy="142.77" r="0.72" fill="#8e1515"/>
<circle cx="94.76" cy="144.18" r="0.72" fill="#8e1515"/>
<circle cx="94.68" cy="143.62" r="0.72" fill="#8e1515"/>
<circle cx="92.08" cy="140.08" r="0.72" fill="#8e1515"/>
<circle cx="92.14" cy="146.56" r="0.72" fill="#8e1515"/>
<circle cx="92.49" cy="144.11" r="0.72" fill="#8e1515"/>
<line x1="91.40" y1="144.48" x2="96.80" y2="144.48" stroke="#111" stroke-width="0.9" />
<line x1="94.10" y1="141.21" x2="94.10" y2="147.76" stroke="#111" stroke-width="0.7" />
<line x1="92.40" y1="141.21" x2="95.80" y2="141.21" stroke="#111" stroke-width="0.7" />
<line x1="92.40" y1="147.76" x2="95.80" y2="147.76" stroke="#111" stroke-width="0.7" />
<circle cx="99.55" cy="156.33" r="0.72" fill="#1f8f2a"/>
<circle cx="98.86" cy="154.01" r="0.72" fill="#1f8f2a"/>
<circle cx="101.39" cy="158.25" r="0.72" fill="#1f8f2a"/>
<circle cx="101.30" cy="155.02" r="0.72" fill="#1f8f2a"/>
<circle cx="98.70" cy="155.15" r="0.72" fill="#1f8f2a"/>
<circle cx="100.48" cy="149.65" r="0.72" fill="#1f8f2a"/>
<circle cx="99.21" cy="156.11" r="0.72" fill="#1f8f2a"/>
<circle cx="102.36" cy="152.81" r="0.72" fill="#1f8f2a"/>
<circle cx="101.40" cy="156.13" r="0.72" fill="#1f8f2a"/>
<circle cx="99.12" cy="155.07" r="0.72" fill="#1f8f2a"/>
<circle cx="101.26" cy="158.02" r="0.72" fill="#1f8f2a"/>
<circle cx="102.92" cy="156.31" r="0.72" fill="#1f8f2a"/>
<circle cx="102.28" cy="154.41" r="0.72" fill="#1f8f2a"/>
<line x1="98.20" y1="155.61" x2="103.60" y2="155.61" stroke="#111" stroke-width="0.9" />
<line x1="100.90" y1="152.54" x2="100.90" y2="158.68" stroke="#111" stroke-width="0.7" />
<line x1="99.20" y1="152.54" x2="102.60" y2="152.54" stroke="#111" stroke-width="0.7" />
<line x1="99.20" y1="158.68" x2="102.60" y2="158.68" stroke="#111" stroke-width="0.7" />
<circle cx="108.43" cy="160.46" r="0.72" fill="#ec2c8f"/>
<circle cx="108.22" cy="158.36" r="0.72" fill="#ec2c8f"/>
<circle cx="108.08" cy="155.48" r="0.72" fill="#ec2c8f"/>
<circle cx="108.28" cy="148.37" r="0.72" fill="#ec2c8f"/>
<circle cx="107.14" cy="159.54" r="0.72" fill="#ec2c8f"/>
<circle cx="106.07" cy="156.85" r="0.72" fill="#ec2c8f"/>
<circle cx="108.09" cy="157.07" r="0.72" fill="#ec2c8f"/>
<circle cx="108.37" cy="158.49" r="0.72" fill="#ec2c8f"/>
<circle cx="109.52" cy="158.32" r="0.72" fill="#ec2c8f"/>
<circle cx="106.60" cy="159.76" r="0.72" fill="#ec2c8f"/>
<circle cx="106.88" cy="154.22" r="0.72" fill="#ec2c8f"/>
<circle cx="109.83" cy="153.42" r="0.72" fill="#ec2c8f"/>
<circle cx="109.62" cy="157.59" r="0.72" fill="#ec2c8f"/>
<line x1="105.10" y1="156.97" x2="110.50" y2="156.97" stroke="#111" stroke-width="0.9" />
<line x1="107.80" y1="152.88" x2="107.80" y2="161.07" stroke="#111" stroke-width="0.7" />
<line x1="106.10" y1="152.88" x2="109.50" y2="152.88" stroke="#111" stroke-width="0.7" />
<line x1="106.10" y1="161.07" x2="109.50" y2="161.07" stroke="#111" stroke-width="0.7" />
<circle cx="116.92" cy="158.25" r="0.72" fill="#f39a1e"/>
<circle cx="114.78" cy="157.64" r="0.72" fill="#f39a1e"/>
<circle cx="116.93" cy="158.61" r="0.72" fill="#f39a1e"/>
<circle cx="114.76" cy="154.93" r="0.72" fill="#f39a1e"/>
<circle cx="113.14" cy="157.08" r="0.72" fill="#f39a1e"/>
<circle cx="115.34" cy="152.88" r="0.72" fill="#f39a1e"/>
<circle cx="116.04" cy="158.69" r="0.72" fill="#f39a1e"/>
<circle cx="116.24" cy="155.40" r="0.72" fill="#f39a1e"/>
<circle cx="113.80" cy="152.52" r="0.72" fill="#f39a1e"/>
<circle cx="116.72" cy="155.98" r="0.72" fill="#f39a1e"/>
<circle cx="113.78" cy="155.83" r="0.72" fill="#f39a1e"/>
<circle cx="113.28" cy="158.55" r="0.72" fill="#f39a1e"/>
<circle cx="115.28" cy="153.74" r="0.72" fill="#f39a1e"/>
<line x1="112.10" y1="156.29" x2="117.50" y2="156.29" stroke="#111" stroke-width="0.9" />
<line x1="114.80" y1="152.88" x2="114.80" y2="159.70" stroke="#111" stroke-width="0.7" />
<line x1="113.10" y1="152.88" x2="116.50" y2="152.88" stroke="#111" stroke-width="0.7" />
<line x1="113.10" y1="159.70" x2="116.50" y2="159.70" stroke="#111" stroke-width="0.7" />
<circle cx="121.59" cy="155.77" r="0.72" fill="#8e1515"/>
<circle cx="122.77" cy="157.92" r="0.72" fill="#8e1515"/>
<circle cx="120.02" cy="158.58" r="0.72" fill="#8e1515"/>
<circle cx="121.85" cy="155.45" r="0.72" fill="#8e1515"/>
<circle cx="120.98" cy="157.94" r="0.72" fill="#8e1515"/>
<circle cx="121.54" cy="156.59" r="0.72" fill="#8e1515"/>
<circle cx="121.09" cy="152.36" r="0.72" fill="#8e1515"/>
<circle cx="119.66" cy="155.72" r="0.72" fill="#8e1515"/>
<circle cx="120.61" cy="159.30" r="0.72" fill="#8e1515"/>
<circle cx="123.41" cy="161.53" r="0.72" fill="#8e1515"/>
<circle cx="121.90" cy="153.91" r="0.72" fill="#8e1515"/>
<circle cx="121.38" cy="150.83" r="0.72" fill="#8e1515"/>
<circle cx="122.03" cy="155.17" r="0.72" fill="#8e1515"/>
<line x1="119.00" y1="155.61" x2="124.40" y2="155.61" stroke="#111" stroke-width="0.9" />
<line x1="121.70" y1="152.54" x2="121.70" y2="158.68" stroke="#111" stroke-width="0.7" />
<line x1="120.00" y1="152.54" x2="123.40" y2="152.54" stroke="#111" stroke-width="0.7" />
<line x1="120.00" y1="158.68" x2="123.40" y2="158.68" stroke="#111" stroke-width="0.7" />
<line x1="73.20" y1="129.80" x2="80.20" y2="129.80" stroke="#666" stroke-width="1.1" />
<line x1="81.20" y1="129.80" x2="94.00" y2="129.80" stroke="#666" stroke-width="1.1" />
<text x="74.90" y="127.80" font-size="5.0" fill="#555" text-anchor="middle" textLength="11.60" lengthAdjust="spacingAndGlyphs"  stroke="#555" stroke-width="0.05">p&lt;.05</text>
<text x="87.35" y="127.80" font-size="5.0" fill="#555" text-anchor="middle" textLength="11.10" lengthAdjust="spacingAndGlyphs"  stroke="#555" stroke-width="0.05">p&lt;.05</text>
<text x="134.20" y="140.40" font-size="5.5" fill="#35a83a"  stroke="#35a83a" stroke-width="0.05">cre- control</text>
<text x="134.20" y="145.75" font-size="5.5" fill="#f43fae"  stroke="#f43fae" stroke-width="0.05">cre+ control</text>
<text x="134.20" y="151.10" font-size="5.5" fill="#f6a23a"  stroke="#f6a23a" stroke-width="0.05">cHet</text>
<text x="134.20" y="156.45" font-size="5.5" fill="#a8302c"  stroke="#a8302c" stroke-width="0.05">cKO</text>
<text x="171.40" y="103.40" font-size="12.6" fill="#000" font-weight="bold" stroke="#000" stroke-width="0.35">E</text>
<line x1="211.10" y1="117.70" x2="211.10" y2="176.00" stroke="#1e1e1e" stroke-width="1.4" />
<line x1="208.50" y1="175.40" x2="211.10" y2="175.40" stroke="#1e1e1e" stroke-width="0.9" />
<text x="206.00" y="177.70" font-size="6.5" fill="#333" text-anchor="end"  stroke="#333" stroke-width="0.1">0.00</text>
<line x1="208.50" y1="164.48" x2="211.10" y2="164.48" stroke="#1e1e1e" stroke-width="0.9" />
<text x="206.00" y="166.78" font-size="6.5" fill="#333" text-anchor="end"  stroke="#333" stroke-width="0.1">0.01</text>
<line x1="208.50" y1="153.56" x2="211.10" y2="153.56" stroke="#1e1e1e" stroke-width="0.9" />
<text x="206.00" y="155.86" font-size="6.5" fill="#333" text-anchor="end"  stroke="#333" stroke-width="0.1">0.02</text>
<line x1="208.50" y1="142.64" x2="211.10" y2="142.64" stroke="#1e1e1e" stroke-width="0.9" />
<text x="206.00" y="144.94" font-size="6.5" fill="#333" text-anchor="end"  stroke="#333" stroke-width="0.1">0.03</text>
<line x1="208.50" y1="131.72" x2="211.10" y2="131.72" stroke="#1e1e1e" stroke-width="0.9" />
<text x="206.00" y="134.02" font-size="6.5" fill="#333" text-anchor="end"  stroke="#333" stroke-width="0.1">0.04</text>
<line x1="208.50" y1="120.80" x2="211.10" y2="120.80" stroke="#1e1e1e" stroke-width="0.9" />
<text x="206.00" y="123.10" font-size="6.5" fill="#333" text-anchor="end"  stroke="#333" stroke-width="0.1">0.05</text>
<line x1="210.50" y1="175.70" x2="293.80" y2="175.70" stroke="#1e1e1e" stroke-width="1.4" />
<text transform="translate(179.80,146.30) rotate(-90)" x="0" y="0" font-size="9.6" fill="#3a3a3a" text-anchor="middle" textLength="43.30" lengthAdjust="spacingAndGlyphs"  stroke="#3a3a3a" stroke-width="0.08">HSC frequency</text>
<text transform="translate(188.20,146.60) rotate(-90)" x="0" y="0" font-size="9.6" fill="#3a3a3a" text-anchor="middle" textLength="30.30" lengthAdjust="spacingAndGlyphs"  stroke="#3a3a3a" stroke-width="0.08">(% of live)</text>
<line x1="222.30" y1="136.90" x2="282.90" y2="136.90" stroke="#666" stroke-width="1.2" />
<line x1="222.30" y1="147.30" x2="262.70" y2="147.30" stroke="#444" stroke-width="1.2" />
<text x="252.30" y="134.60" font-size="4.3" fill="#666" text-anchor="middle" textLength="13.80" lengthAdjust="spacingAndGlyphs"  stroke="#666" stroke-width="0.2">p&lt;0.01</text>
<text x="242.50" y="145.00" font-size="4.3" fill="#666" text-anchor="middle" textLength="14.20" lengthAdjust="spacingAndGlyphs"  stroke="#666" stroke-width="0.2">p&lt;0.05</text>
<circle cx="218.71" cy="157.83" r="0.75" fill="#35a83a"/>
<circle cx="219.17" cy="162.00" r="0.75" fill="#35a83a"/>
<circle cx="222.01" cy="158.34" r="0.75" fill="#35a83a"/>
<circle cx="217.33" cy="160.91" r="0.75" fill="#35a83a"/>
<circle cx="220.25" cy="163.34" r="0.75" fill="#35a83a"/>
<circle cx="224.92" cy="165.39" r="0.75" fill="#35a83a"/>
<circle cx="221.42" cy="164.19" r="0.75" fill="#35a83a"/>
<circle cx="222.71" cy="154.89" r="0.75" fill="#35a83a"/>
<circle cx="224.50" cy="166.87" r="0.75" fill="#35a83a"/>
<circle cx="224.30" cy="167.16" r="0.75" fill="#35a83a"/>
<circle cx="220.44" cy="160.58" r="0.75" fill="#35a83a"/>
<circle cx="218.13" cy="164.47" r="0.75" fill="#35a83a"/>
<line x1="214.30" y1="162.30" x2="228.30" y2="162.30" stroke="#222" stroke-width="1.0" />
<line x1="221.30" y1="157.10" x2="221.30" y2="167.70" stroke="#222" stroke-width="0.8" />
<line x1="217.10" y1="157.10" x2="225.50" y2="157.10" stroke="#222" stroke-width="0.8" />
<line x1="217.10" y1="167.70" x2="225.50" y2="167.70" stroke="#222" stroke-width="0.8" />
<circle cx="221.30" cy="154.20" r="1.1" fill="#35a83a"/>
<circle cx="239.00" cy="161.24" r="0.75" fill="#f43fae"/>
<circle cx="240.17" cy="162.29" r="0.75" fill="#f43fae"/>
<circle cx="241.22" cy="161.08" r="0.75" fill="#f43fae"/>
<circle cx="238.50" cy="162.16" r="0.75" fill="#f43fae"/>
<circle cx="239.31" cy="164.50" r="0.75" fill="#f43fae"/>
<circle cx="238.70" cy="170.12" r="0.75" fill="#f43fae"/>
<circle cx="243.41" cy="162.13" r="0.75" fill="#f43fae"/>
<circle cx="240.52" cy="164.32" r="0.75" fill="#f43fae"/>
<circle cx="241.41" cy="161.85" r="0.75" fill="#f43fae"/>
<circle cx="245.29" cy="171.42" r="0.75" fill="#f43fae"/>
<circle cx="242.23" cy="165.82" r="0.75" fill="#f43fae"/>
<circle cx="239.19" cy="161.62" r="0.75" fill="#f43fae"/>
<line x1="235.50" y1="166.50" x2="249.50" y2="166.50" stroke="#222" stroke-width="1.0" />
<line x1="242.50" y1="162.30" x2="242.50" y2="170.40" stroke="#222" stroke-width="0.8" />
<line x1="238.30" y1="162.30" x2="246.70" y2="162.30" stroke="#222" stroke-width="0.8" />
<line x1="238.30" y1="170.40" x2="246.70" y2="170.40" stroke="#222" stroke-width="0.8" />
<circle cx="261.44" cy="162.31" r="0.75" fill="#f6a23a"/>
<circle cx="265.33" cy="161.02" r="0.75" fill="#f6a23a"/>
<circle cx="258.88" cy="170.89" r="0.75" fill="#f6a23a"/>
<circle cx="262.93" cy="160.83" r="0.75" fill="#f6a23a"/>
<circle cx="263.05" cy="159.34" r="0.75" fill="#f6a23a"/>
<circle cx="262.92" cy="171.23" r="0.75" fill="#f6a23a"/>
<circle cx="265.61" cy="167.70" r="0.75" fill="#f6a23a"/>
<circle cx="260.79" cy="163.58" r="0.75" fill="#f6a23a"/>
<circle cx="260.04" cy="168.65" r="0.75" fill="#f6a23a"/>
<circle cx="262.96" cy="168.74" r="0.75" fill="#f6a23a"/>
<circle cx="261.34" cy="161.79" r="0.75" fill="#f6a23a"/>
<circle cx="265.19" cy="171.31" r="0.75" fill="#f6a23a"/>
<line x1="255.70" y1="166.50" x2="269.70" y2="166.50" stroke="#222" stroke-width="1.0" />
<line x1="262.70" y1="162.30" x2="262.70" y2="170.40" stroke="#222" stroke-width="0.8" />
<line x1="258.50" y1="162.30" x2="266.90" y2="162.30" stroke="#222" stroke-width="0.8" />
<line x1="258.50" y1="170.40" x2="266.90" y2="170.40" stroke="#222" stroke-width="0.8" />
<circle cx="286.32" cy="169.67" r="0.75" fill="#a8302c"/>
<circle cx="286.05" cy="168.88" r="0.75" fill="#a8302c"/>
<circle cx="281.31" cy="166.21" r="0.75" fill="#a8302c"/>
<circle cx="282.34" cy="160.35" r="0.75" fill="#a8302c"/>
<circle cx="279.72" cy="163.35" r="0.75" fill="#a8302c"/>
<circle cx="281.57" cy="168.31" r="0.75" fill="#a8302c"/>
<circle cx="287.15" cy="165.37" r="0.75" fill="#a8302c"/>
<circle cx="287.00" cy="171.86" r="0.75" fill="#a8302c"/>
<circle cx="287.14" cy="164.38" r="0.75" fill="#a8302c"/>
<circle cx="281.26" cy="162.72" r="0.75" fill="#a8302c"/>
<circle cx="281.07" cy="162.45" r="0.75" fill="#a8302c"/>
<circle cx="284.49" cy="170.80" r="0.75" fill="#a8302c"/>
<circle cx="286.22" cy="165.75" r="0.75" fill="#a8302c"/>
<circle cx="284.72" cy="169.60" r="0.75" fill="#a8302c"/>
<line x1="276.50" y1="167.10" x2="290.50" y2="167.10" stroke="#222" stroke-width="1.0" />
<line x1="283.50" y1="163.30" x2="283.50" y2="171.00" stroke="#222" stroke-width="0.8" />
<line x1="279.30" y1="163.30" x2="287.70" y2="163.30" stroke="#222" stroke-width="0.8" />
<line x1="279.30" y1="171.00" x2="287.70" y2="171.00" stroke="#222" stroke-width="0.8" />
<text x="303.00" y="140.40" font-size="5.5" fill="#35a83a"  stroke="#35a83a" stroke-width="0.05">cre- control</text>
<text x="303.00" y="145.75" font-size="5.5" fill="#f43fae"  stroke="#f43fae" stroke-width="0.05">cre+ control</text>
<text x="303.00" y="151.10" font-size="5.5" fill="#f6a23a"  stroke="#f6a23a" stroke-width="0.05">cHet</text>
<text x="303.00" y="156.45" font-size="5.5" fill="#a8302c"  stroke="#a8302c" stroke-width="0.05">cKO</text>
<text x="347.90" y="103.40" font-size="12.6" fill="#000" font-weight="bold" stroke="#000" stroke-width="0.35">F</text>
<line x1="378.40" y1="117.70" x2="378.40" y2="176.00" stroke="#1e1e1e" stroke-width="1.4" />
<line x1="375.80" y1="175.40" x2="378.40" y2="175.40" stroke="#1e1e1e" stroke-width="0.9" />
<text x="373.30" y="177.70" font-size="6.5" fill="#333" text-anchor="end"  stroke="#333" stroke-width="0.1">0</text>
<line x1="375.80" y1="164.48" x2="378.40" y2="164.48" stroke="#1e1e1e" stroke-width="0.9" />
<text x="373.30" y="166.78" font-size="6.5" fill="#333" text-anchor="end"  stroke="#333" stroke-width="0.1">1</text>
<line x1="375.80" y1="153.56" x2="378.40" y2="153.56" stroke="#1e1e1e" stroke-width="0.9" />
<text x="373.30" y="155.86" font-size="6.5" fill="#333" text-anchor="end"  stroke="#333" stroke-width="0.1">2</text>
<line x1="375.80" y1="142.64" x2="378.40" y2="142.64" stroke="#1e1e1e" stroke-width="0.9" />
<line x1="375.80" y1="131.72" x2="378.40" y2="131.72" stroke="#1e1e1e" stroke-width="0.9" />
<text x="373.30" y="134.02" font-size="6.5" fill="#333" text-anchor="end"  stroke="#333" stroke-width="0.1">4</text>
<line x1="375.80" y1="120.80" x2="378.40" y2="120.80" stroke="#1e1e1e" stroke-width="0.9" />
<text x="373.30" y="123.10" font-size="6.5" fill="#333" text-anchor="end"  stroke="#333" stroke-width="0.1">5</text>
<line x1="377.80" y1="175.70" x2="461.50" y2="175.70" stroke="#1e1e1e" stroke-width="1.4" />
<text transform="translate(354.65,146.70) rotate(-90)" x="0" y="0" font-size="9.6" fill="#3a3a3a" text-anchor="middle" textLength="68.40" lengthAdjust="spacingAndGlyphs"  stroke="#3a3a3a" stroke-width="0.08">Myeloid progenitor cell</text>
<text transform="translate(365.60,147.50) rotate(-90)" x="0" y="0" font-size="9.6" fill="#3a3a3a" text-anchor="middle" textLength="61.50" lengthAdjust="spacingAndGlyphs"  stroke="#3a3a3a" stroke-width="0.08">frequency (% of live)</text>
<line x1="381.20" y1="175.70" x2="381.20" y2="178.70" stroke="#111" stroke-width="1.0" />
<line x1="386.40" y1="175.70" x2="386.40" y2="178.70" stroke="#111" stroke-width="1.0" />
<line x1="391.60" y1="175.70" x2="391.60" y2="178.70" stroke="#111" stroke-width="1.0" />
<line x1="396.80" y1="175.70" x2="396.80" y2="178.70" stroke="#111" stroke-width="1.0" />
<line x1="402.00" y1="175.70" x2="402.00" y2="178.70" stroke="#111" stroke-width="1.0" />
<line x1="407.20" y1="175.70" x2="407.20" y2="178.70" stroke="#111" stroke-width="1.0" />
<line x1="412.30" y1="175.70" x2="412.30" y2="178.70" stroke="#111" stroke-width="1.0" />
<line x1="417.50" y1="175.70" x2="417.50" y2="178.70" stroke="#111" stroke-width="1.0" />
<line x1="423.00" y1="175.70" x2="423.00" y2="178.70" stroke="#111" stroke-width="1.0" />
<line x1="428.20" y1="175.70" x2="428.20" y2="178.70" stroke="#111" stroke-width="1.0" />
<line x1="433.50" y1="175.70" x2="433.50" y2="178.70" stroke="#111" stroke-width="1.0" />
<line x1="438.80" y1="175.70" x2="438.80" y2="178.70" stroke="#111" stroke-width="1.0" />
<line x1="443.90" y1="175.70" x2="443.90" y2="178.70" stroke="#111" stroke-width="1.0" />
<line x1="449.10" y1="175.70" x2="449.10" y2="178.70" stroke="#111" stroke-width="1.0" />
<line x1="454.40" y1="175.70" x2="454.40" y2="178.70" stroke="#111" stroke-width="1.0" />
<line x1="459.60" y1="175.70" x2="459.60" y2="178.70" stroke="#111" stroke-width="1.0" />
<line x1="381.20" y1="181.50" x2="396.80" y2="181.50" stroke="#111" stroke-width="1.0" />
<text x="389.00" y="190.20" font-size="6.5" fill="#333" text-anchor="middle"  stroke="#333" stroke-width="0.2">LK</text>
<line x1="402.00" y1="181.50" x2="417.50" y2="181.50" stroke="#111" stroke-width="1.0" />
<text x="409.75" y="190.20" font-size="6.5" fill="#333" text-anchor="middle"  stroke="#333" stroke-width="0.2">CMP</text>
<line x1="423.00" y1="181.50" x2="438.80" y2="181.50" stroke="#111" stroke-width="1.0" />
<text x="430.90" y="190.20" font-size="6.5" fill="#333" text-anchor="middle"  stroke="#333" stroke-width="0.2">GMP</text>
<line x1="443.90" y1="181.50" x2="459.60" y2="181.50" stroke="#111" stroke-width="1.0" />
<text x="451.75" y="190.20" font-size="6.5" fill="#333" text-anchor="middle"  stroke="#333" stroke-width="0.2">MEP</text>
<circle cx="379.97" cy="157.26" r="0.7" fill="#1f8f2a"/>
<circle cx="382.45" cy="152.68" r="0.7" fill="#1f8f2a"/>
<circle cx="382.55" cy="148.92" r="0.7" fill="#1f8f2a"/>
<circle cx="379.77" cy="153.37" r="0.7" fill="#1f8f2a"/>
<circle cx="379.64" cy="158.69" r="0.7" fill="#1f8f2a"/>
<circle cx="380.79" cy="155.38" r="0.7" fill="#1f8f2a"/>
<circle cx="381.97" cy="154.80" r="0.7" fill="#1f8f2a"/>
<circle cx="380.03" cy="157.69" r="0.7" fill="#1f8f2a"/>
<circle cx="381.22" cy="153.42" r="0.7" fill="#1f8f2a"/>
<circle cx="382.64" cy="151.66" r="0.7" fill="#1f8f2a"/>
<circle cx="380.80" cy="159.28" r="0.7" fill="#1f8f2a"/>
<circle cx="382.04" cy="157.21" r="0.7" fill="#1f8f2a"/>
<circle cx="381.79" cy="150.94" r="0.7" fill="#1f8f2a"/>
<line x1="379.10" y1="153.56" x2="383.30" y2="153.56" stroke="#111" stroke-width="0.9" />
<line x1="381.20" y1="148.65" x2="381.20" y2="158.47" stroke="#111" stroke-width="0.7" />
<line x1="379.90" y1="148.65" x2="382.50" y2="148.65" stroke="#111" stroke-width="0.7" />
<line x1="379.90" y1="158.47" x2="382.50" y2="158.47" stroke="#111" stroke-width="0.7" />
<circle cx="387.17" cy="150.32" r="0.7" fill="#ec2c8f"/>
<circle cx="385.61" cy="156.03" r="0.7" fill="#ec2c8f"/>
<circle cx="385.41" cy="152.23" r="0.7" fill="#ec2c8f"/>
<circle cx="385.38" cy="155.88" r="0.7" fill="#ec2c8f"/>
<circle cx="387.71" cy="141.86" r="0.7" fill="#ec2c8f"/>
<circle cx="385.99" cy="151.96" r="0.7" fill="#ec2c8f"/>
<circle cx="386.37" cy="155.07" r="0.7" fill="#ec2c8f"/>
<circle cx="387.78" cy="146.74" r="0.7" fill="#ec2c8f"/>
<circle cx="385.08" cy="152.55" r="0.7" fill="#ec2c8f"/>
<circle cx="386.67" cy="156.29" r="0.7" fill="#ec2c8f"/>
<circle cx="387.74" cy="155.46" r="0.7" fill="#ec2c8f"/>
<circle cx="384.98" cy="153.31" r="0.7" fill="#ec2c8f"/>
<circle cx="386.54" cy="152.75" r="0.7" fill="#ec2c8f"/>
<line x1="384.30" y1="153.56" x2="388.50" y2="153.56" stroke="#111" stroke-width="0.9" />
<line x1="386.40" y1="145.37" x2="386.40" y2="161.75" stroke="#111" stroke-width="0.7" />
<line x1="385.10" y1="145.37" x2="387.70" y2="145.37" stroke="#111" stroke-width="0.7" />
<line x1="385.10" y1="161.75" x2="387.70" y2="161.75" stroke="#111" stroke-width="0.7" />
<circle cx="391.59" cy="149.54" r="0.7" fill="#f39a1e"/>
<circle cx="393.03" cy="152.15" r="0.7" fill="#f39a1e"/>
<circle cx="392.07" cy="158.64" r="0.7" fill="#f39a1e"/>
<circle cx="390.22" cy="149.08" r="0.7" fill="#f39a1e"/>
<circle cx="391.97" cy="156.24" r="0.7" fill="#f39a1e"/>
<circle cx="393.16" cy="154.54" r="0.7" fill="#f39a1e"/>
<circle cx="391.96" cy="144.08" r="0.7" fill="#f39a1e"/>
<circle cx="390.41" cy="149.50" r="0.7" fill="#f39a1e"/>
<circle cx="393.29" cy="155.07" r="0.7" fill="#f39a1e"/>
<circle cx="390.31" cy="135.00" r="0.7" fill="#f39a1e"/>
<circle cx="390.71" cy="157.21" r="0.7" fill="#f39a1e"/>
<circle cx="391.98" cy="168.96" r="0.7" fill="#f39a1e"/>
<circle cx="392.19" cy="146.04" r="0.7" fill="#f39a1e"/>
<line x1="389.50" y1="152.47" x2="393.70" y2="152.47" stroke="#111" stroke-width="0.9" />
<line x1="391.60" y1="143.73" x2="391.60" y2="161.20" stroke="#111" stroke-width="0.7" />
<line x1="390.30" y1="143.73" x2="392.90" y2="143.73" stroke="#111" stroke-width="0.7" />
<line x1="390.30" y1="161.20" x2="392.90" y2="161.20" stroke="#111" stroke-width="0.7" />
<circle cx="397.11" cy="153.43" r="0.7" fill="#8e1515"/>
<circle cx="396.28" cy="154.34" r="0.7" fill="#8e1515"/>
<circle cx="398.04" cy="156.67" r="0.7" fill="#8e1515"/>
<circle cx="396.47" cy="159.20" r="0.7" fill="#8e1515"/>
<circle cx="398.45" cy="157.31" r="0.7" fill="#8e1515"/>
<circle cx="397.82" cy="155.48" r="0.7" fill="#8e1515"/>
<circle cx="396.22" cy="155.07" r="0.7" fill="#8e1515"/>
<circle cx="396.61" cy="157.70" r="0.7" fill="#8e1515"/>
<circle cx="396.20" cy="153.30" r="0.7" fill="#8e1515"/>
<circle cx="395.45" cy="148.91" r="0.7" fill="#8e1515"/>
<circle cx="397.77" cy="151.07" r="0.7" fill="#8e1515"/>
<circle cx="397.85" cy="146.39" r="0.7" fill="#8e1515"/>
<circle cx="396.79" cy="153.32" r="0.7" fill="#8e1515"/>
<line x1="394.70" y1="154.65" x2="398.90" y2="154.65" stroke="#111" stroke-width="0.9" />
<line x1="396.80" y1="148.65" x2="396.80" y2="160.66" stroke="#111" stroke-width="0.7" />
<line x1="395.50" y1="148.65" x2="398.10" y2="148.65" stroke="#111" stroke-width="0.7" />
<line x1="395.50" y1="160.66" x2="398.10" y2="160.66" stroke="#111" stroke-width="0.7" />
<circle cx="402.81" cy="166.75" r="0.7" fill="#1f8f2a"/>
<circle cx="401.75" cy="166.98" r="0.7" fill="#1f8f2a"/>
<circle cx="401.66" cy="166.53" r="0.7" fill="#1f8f2a"/>
<circle cx="401.57" cy="165.57" r="0.7" fill="#1f8f2a"/>
<circle cx="402.57" cy="166.40" r="0.7" fill="#1f8f2a"/>
<circle cx="400.88" cy="166.99" r="0.7" fill="#1f8f2a"/>
<circle cx="400.47" cy="166.48" r="0.7" fill="#1f8f2a"/>
<circle cx="403.62" cy="166.95" r="0.7" fill="#1f8f2a"/>
<circle cx="403.65" cy="166.17" r="0.7" fill="#1f8f2a"/>
<circle cx="402.36" cy="165.73" r="0.7" fill="#1f8f2a"/>
<circle cx="401.01" cy="166.51" r="0.7" fill="#1f8f2a"/>
<circle cx="401.62" cy="166.65" r="0.7" fill="#1f8f2a"/>
<circle cx="401.51" cy="167.53" r="0.7" fill="#1f8f2a"/>
<ellipse cx="402.00" cy="166.66" rx="2.2" ry="1.3" fill="#1f8f2a"/>
<line x1="399.90" y1="166.66" x2="404.10" y2="166.66" stroke="#111" stroke-width="0.9" />
<line x1="402.00" y1="166.12" x2="402.00" y2="167.21" stroke="#111" stroke-width="0.7" />
<line x1="400.70" y1="166.12" x2="403.30" y2="166.12" stroke="#111" stroke-width="0.7" />
<line x1="400.70" y1="167.21" x2="403.30" y2="167.21" stroke="#111" stroke-width="0.7" />
<circle cx="405.98" cy="171.60" r="0.7" fill="#ec2c8f"/>
<circle cx="405.79" cy="170.05" r="0.7" fill="#ec2c8f"/>
<circle cx="407.39" cy="169.66" r="0.7" fill="#ec2c8f"/>
<circle cx="407.03" cy="169.55" r="0.7" fill="#ec2c8f"/>
<circle cx="407.89" cy="169.85" r="0.7" fill="#ec2c8f"/>
<circle cx="408.52" cy="169.28" r="0.7" fill="#ec2c8f"/>
<circle cx="406.07" cy="170.68" r="0.7" fill="#ec2c8f"/>
<circle cx="408.49" cy="169.88" r="0.7" fill="#ec2c8f"/>
<circle cx="407.18" cy="171.59" r="0.7" fill="#ec2c8f"/>
<circle cx="407.30" cy="169.06" r="0.7" fill="#ec2c8f"/>
<circle cx="406.09" cy="169.15" r="0.7" fill="#ec2c8f"/>
<circle cx="408.15" cy="169.77" r="0.7" fill="#ec2c8f"/>
<circle cx="406.26" cy="169.79" r="0.7" fill="#ec2c8f"/>
<line x1="405.10" y1="169.39" x2="409.30" y2="169.39" stroke="#111" stroke-width="0.9" />
<line x1="407.20" y1="167.76" x2="407.20" y2="171.03" stroke="#111" stroke-width="0.7" />
<line x1="405.90" y1="167.76" x2="408.50" y2="167.76" stroke="#111" stroke-width="0.7" />
<line x1="405.90" y1="171.03" x2="408.50" y2="171.03" stroke="#111" stroke-width="0.7" />
<circle cx="412.15" cy="167.76" r="0.7" fill="#f39a1e"/>
<circle cx="412.50" cy="168.76" r="0.7" fill="#f39a1e"/>
<circle cx="412.24" cy="169.67" r="0.7" fill="#f39a1e"/>
<circle cx="413.82" cy="168.15" r="0.7" fill="#f39a1e"/>
<circle cx="410.70" cy="172.91" r="0.7" fill="#f39a1e"/>
<circle cx="413.98" cy="169.77" r="0.7" fill="#f39a1e"/>
<circle cx="412.38" cy="167.17" r="0.7" fill="#f39a1e"/>
<circle cx="412.43" cy="170.26" r="0.7" fill="#f39a1e"/>
<circle cx="412.79" cy="168.31" r="0.7" fill="#f39a1e"/>
<circle cx="412.44" cy="169.19" r="0.7" fill="#f39a1e"/>
<circle cx="413.05" cy="169.72" r="0.7" fill="#f39a1e"/>
<circle cx="410.95" cy="166.18" r="0.7" fill="#f39a1e"/>
<circle cx="412.27" cy="169.45" r="0.7" fill="#f39a1e"/>
<line x1="410.20" y1="168.85" x2="414.40" y2="168.85" stroke="#111" stroke-width="0.9" />
<line x1="412.30" y1="166.66" x2="412.30" y2="171.03" stroke="#111" stroke-width="0.7" />
<line x1="411.00" y1="166.66" x2="413.60" y2="166.66" stroke="#111" stroke-width="0.7" />
<line x1="411.00" y1="171.03" x2="413.60" y2="171.03" stroke="#111" stroke-width="0.7" />
<circle cx="417.96" cy="169.94" r="0.7" fill="#8e1515"/>
<circle cx="417.07" cy="167.50" r="0.7" fill="#8e1515"/>
<circle cx="418.79" cy="168.38" r="0.7" fill="#8e1515"/>
<circle cx="418.28" cy="168.62" r="0.7" fill="#8e1515"/>
<circle cx="417.92" cy="166.91" r="0.7" fill="#8e1515"/>
<circle cx="417.83" cy="168.65" r="0.7" fill="#8e1515"/>
<circle cx="417.89" cy="169.05" r="0.7" fill="#8e1515"/>
<circle cx="416.03" cy="169.32" r="0.7" fill="#8e1515"/>
<circle cx="416.44" cy="169.81" r="0.7" fill="#8e1515"/>
<circle cx="416.02" cy="169.36" r="0.7" fill="#8e1515"/>
<circle cx="417.01" cy="169.26" r="0.7" fill="#8e1515"/>
<circle cx="415.89" cy="170.12" r="0.7" fill="#8e1515"/>
<circle cx="418.44" cy="168.61" r="0.7" fill="#8e1515"/>
<line x1="415.40" y1="168.85" x2="419.60" y2="168.85" stroke="#111" stroke-width="0.9" />
<line x1="417.50" y1="167.54" x2="417.50" y2="170.16" stroke="#111" stroke-width="0.7" />
<line x1="416.20" y1="167.54" x2="418.80" y2="167.54" stroke="#111" stroke-width="0.7" />
<line x1="416.20" y1="170.16" x2="418.80" y2="170.16" stroke="#111" stroke-width="0.7" />
<circle cx="421.33" cy="170.93" r="0.7" fill="#1f8f2a"/>
<circle cx="424.54" cy="166.75" r="0.7" fill="#1f8f2a"/>
<circle cx="424.65" cy="173.43" r="0.7" fill="#1f8f2a"/>
<circle cx="424.13" cy="171.96" r="0.7" fill="#1f8f2a"/>
<circle cx="422.09" cy="168.12" r="0.7" fill="#1f8f2a"/>
<circle cx="423.95" cy="168.39" r="0.7" fill="#1f8f2a"/>
<circle cx="421.68" cy="168.95" r="0.7" fill="#1f8f2a"/>
<circle cx="421.71" cy="168.24" r="0.7" fill="#1f8f2a"/>
<circle cx="422.57" cy="165.03" r="0.7" fill="#1f8f2a"/>
<circle cx="423.82" cy="171.20" r="0.7" fill="#1f8f2a"/>
<circle cx="422.56" cy="171.47" r="0.7" fill="#1f8f2a"/>
<circle cx="423.46" cy="168.96" r="0.7" fill="#1f8f2a"/>
<circle cx="423.06" cy="169.28" r="0.7" fill="#1f8f2a"/>
<line x1="420.90" y1="169.39" x2="425.10" y2="169.39" stroke="#111" stroke-width="0.9" />
<line x1="423.00" y1="167.21" x2="423.00" y2="171.58" stroke="#111" stroke-width="0.7" />
<line x1="421.70" y1="167.21" x2="424.30" y2="167.21" stroke="#111" stroke-width="0.7" />
<line x1="421.70" y1="171.58" x2="424.30" y2="171.58" stroke="#111" stroke-width="0.7" />
<circle cx="427.17" cy="167.17" r="0.7" fill="#ec2c8f"/>
<circle cx="426.58" cy="173.71" r="0.7" fill="#ec2c8f"/>
<circle cx="426.85" cy="166.90" r="0.7" fill="#ec2c8f"/>
<circle cx="427.35" cy="168.62" r="0.7" fill="#ec2c8f"/>
<circle cx="429.40" cy="169.56" r="0.7" fill="#ec2c8f"/>
<circle cx="426.70" cy="170.07" r="0.7" fill="#ec2c8f"/>
<circle cx="427.44" cy="169.80" r="0.7" fill="#ec2c8f"/>
<circle cx="429.82" cy="170.06" r="0.7" fill="#ec2c8f"/>
<circle cx="429.17" cy="165.12" r="0.7" fill="#ec2c8f"/>
<circle cx="429.48" cy="164.73" r="0.7" fill="#ec2c8f"/>
<circle cx="429.63" cy="171.77" r="0.7" fill="#ec2c8f"/>
<circle cx="427.58" cy="167.90" r="0.7" fill="#ec2c8f"/>
<circle cx="427.34" cy="169.05" r="0.7" fill="#ec2c8f"/>
<line x1="426.10" y1="168.85" x2="430.30" y2="168.85" stroke="#111" stroke-width="0.9" />
<line x1="428.20" y1="166.12" x2="428.20" y2="171.58" stroke="#111" stroke-width="0.7" />
<line x1="426.90" y1="166.12" x2="429.50" y2="166.12" stroke="#111" stroke-width="0.7" />
<line x1="426.90" y1="171.58" x2="429.50" y2="171.58" stroke="#111" stroke-width="0.7" />
<circle cx="432.98" cy="170.72" r="0.7" fill="#f39a1e"/>
<circle cx="434.65" cy="170.16" r="0.7" fill="#f39a1e"/>
<circle cx="432.74" cy="169.75" r="0.7" fill="#f39a1e"/>
<circle cx="433.37" cy="167.24" r="0.7" fill="#f39a1e"/>
<circle cx="433.30" cy="170.91" r="0.7" fill="#f39a1e"/>
<circle cx="432.43" cy="170.48" r="0.7" fill="#f39a1e"/>
<circle cx="432.38" cy="170.20" r="0.7" fill="#f39a1e"/>
<circle cx="433.65" cy="166.96" r="0.7" fill="#f39a1e"/>
<circle cx="434.04" cy="166.75" r="0.7" fill="#f39a1e"/>
<circle cx="432.27" cy="164.47" r="0.7" fill="#f39a1e"/>
<circle cx="433.32" cy="169.98" r="0.7" fill="#f39a1e"/>
<circle cx="433.86" cy="169.99" r="0.7" fill="#f39a1e"/>
<circle cx="434.29" cy="167.91" r="0.7" fill="#f39a1e"/>
<line x1="431.40" y1="168.30" x2="435.60" y2="168.30" stroke="#111" stroke-width="0.9" />
<line x1="433.50" y1="165.03" x2="433.50" y2="171.58" stroke="#111" stroke-width="0.7" />
<line x1="432.20" y1="165.03" x2="434.80" y2="165.03" stroke="#111" stroke-width="0.7" />
<line x1="432.20" y1="171.58" x2="434.80" y2="171.58" stroke="#111" stroke-width="0.7" />
<circle cx="437.82" cy="174.81" r="0.7" fill="#8e1515"/>
<circle cx="437.17" cy="171.68" r="0.7" fill="#8e1515"/>
<circle cx="438.98" cy="170.01" r="0.7" fill="#8e1515"/>
<circle cx="438.20" cy="174.57" r="0.7" fill="#8e1515"/>
<circle cx="439.93" cy="168.43" r="0.7" fill="#8e1515"/>
<circle cx="439.54" cy="170.59" r="0.7" fill="#8e1515"/>
<circle cx="438.07" cy="169.50" r="0.7" fill="#8e1515"/>
<circle cx="437.14" cy="170.38" r="0.7" fill="#8e1515"/>
<circle cx="440.23" cy="169.60" r="0.7" fill="#8e1515"/>
<circle cx="437.66" cy="167.96" r="0.7" fill="#8e1515"/>
<circle cx="437.43" cy="169.01" r="0.7" fill="#8e1515"/>
<circle cx="439.31" cy="165.55" r="0.7" fill="#8e1515"/>
<circle cx="438.44" cy="174.85" r="0.7" fill="#8e1515"/>
<line x1="436.70" y1="169.39" x2="440.90" y2="169.39" stroke="#111" stroke-width="0.9" />
<line x1="438.80" y1="166.12" x2="438.80" y2="172.67" stroke="#111" stroke-width="0.7" />
<line x1="437.50" y1="166.12" x2="440.10" y2="166.12" stroke="#111" stroke-width="0.7" />
<line x1="437.50" y1="172.67" x2="440.10" y2="172.67" stroke="#111" stroke-width="0.7" />
<circle cx="442.66" cy="165.53" r="0.7" fill="#1f8f2a"/>
<circle cx="444.55" cy="170.64" r="0.7" fill="#1f8f2a"/>
<circle cx="443.29" cy="169.84" r="0.7" fill="#1f8f2a"/>
<circle cx="443.51" cy="166.42" r="0.7" fill="#1f8f2a"/>
<circle cx="445.15" cy="166.57" r="0.7" fill="#1f8f2a"/>
<circle cx="444.14" cy="164.47" r="0.7" fill="#1f8f2a"/>
<circle cx="442.27" cy="163.67" r="0.7" fill="#1f8f2a"/>
<circle cx="443.83" cy="168.03" r="0.7" fill="#1f8f2a"/>
<circle cx="445.29" cy="165.25" r="0.7" fill="#1f8f2a"/>
<circle cx="444.77" cy="171.74" r="0.7" fill="#1f8f2a"/>
<circle cx="443.74" cy="168.55" r="0.7" fill="#1f8f2a"/>
<circle cx="444.51" cy="166.62" r="0.7" fill="#1f8f2a"/>
<circle cx="444.74" cy="167.99" r="0.7" fill="#1f8f2a"/>
<line x1="441.80" y1="168.30" x2="446.00" y2="168.30" stroke="#111" stroke-width="0.9" />
<line x1="443.90" y1="164.48" x2="443.90" y2="172.12" stroke="#111" stroke-width="0.7" />
<line x1="442.60" y1="164.48" x2="445.20" y2="164.48" stroke="#111" stroke-width="0.7" />
<line x1="442.60" y1="172.12" x2="445.20" y2="172.12" stroke="#111" stroke-width="0.7" />
<circle cx="448.58" cy="165.03" r="0.7" fill="#ec2c8f"/>
<circle cx="450.56" cy="170.85" r="0.7" fill="#ec2c8f"/>
<circle cx="447.49" cy="170.03" r="0.7" fill="#ec2c8f"/>
<circle cx="449.67" cy="165.69" r="0.7" fill="#ec2c8f"/>
<circle cx="447.73" cy="162.87" r="0.7" fill="#ec2c8f"/>
<circle cx="449.25" cy="166.36" r="0.7" fill="#ec2c8f"/>
<circle cx="450.47" cy="166.18" r="0.7" fill="#ec2c8f"/>
<circle cx="449.73" cy="167.33" r="0.7" fill="#ec2c8f"/>
<circle cx="448.84" cy="165.74" r="0.7" fill="#ec2c8f"/>
<circle cx="450.58" cy="161.28" r="0.7" fill="#ec2c8f"/>
<circle cx="449.83" cy="174.85" r="0.7" fill="#ec2c8f"/>
<circle cx="450.15" cy="168.84" r="0.7" fill="#ec2c8f"/>
<circle cx="448.76" cy="167.73" r="0.7" fill="#ec2c8f"/>
<line x1="447.00" y1="167.76" x2="451.20" y2="167.76" stroke="#111" stroke-width="0.9" />
<line x1="449.10" y1="163.93" x2="449.10" y2="171.58" stroke="#111" stroke-width="0.7" />
<line x1="447.80" y1="163.93" x2="450.40" y2="163.93" stroke="#111" stroke-width="0.7" />
<line x1="447.80" y1="171.58" x2="450.40" y2="171.58" stroke="#111" stroke-width="0.7" />
<circle cx="455.98" cy="171.97" r="0.7" fill="#f39a1e"/>
<circle cx="454.59" cy="166.78" r="0.7" fill="#f39a1e"/>
<circle cx="452.99" cy="160.89" r="0.7" fill="#f39a1e"/>
<circle cx="453.91" cy="171.65" r="0.7" fill="#f39a1e"/>
<circle cx="455.99" cy="163.76" r="0.7" fill="#f39a1e"/>
<circle cx="453.33" cy="171.12" r="0.7" fill="#f39a1e"/>
<circle cx="454.54" cy="174.73" r="0.7" fill="#f39a1e"/>
<circle cx="454.98" cy="169.14" r="0.7" fill="#f39a1e"/>
<circle cx="452.89" cy="165.89" r="0.7" fill="#f39a1e"/>
<circle cx="455.60" cy="168.05" r="0.7" fill="#f39a1e"/>
<circle cx="455.53" cy="169.54" r="0.7" fill="#f39a1e"/>
<circle cx="453.66" cy="168.75" r="0.7" fill="#f39a1e"/>
<circle cx="452.82" cy="165.99" r="0.7" fill="#f39a1e"/>
<line x1="452.30" y1="167.76" x2="456.50" y2="167.76" stroke="#111" stroke-width="0.9" />
<line x1="454.40" y1="163.93" x2="454.40" y2="171.58" stroke="#111" stroke-width="0.7" />
<line x1="453.10" y1="163.93" x2="455.70" y2="163.93" stroke="#111" stroke-width="0.7" />
<line x1="453.10" y1="171.58" x2="455.70" y2="171.58" stroke="#111" stroke-width="0.7" />
<circle cx="459.28" cy="166.70" r="0.7" fill="#8e1515"/>
<circle cx="461.18" cy="167.77" r="0.7" fill="#8e1515"/>
<circle cx="458.04" cy="171.14" r="0.7" fill="#8e1515"/>
<circle cx="459.85" cy="167.62" r="0.7" fill="#8e1515"/>
<circle cx="458.58" cy="167.01" r="0.7" fill="#8e1515"/>
<circle cx="459.87" cy="169.89" r="0.7" fill="#8e1515"/>
<circle cx="460.77" cy="171.07" r="0.7" fill="#8e1515"/>
<circle cx="458.42" cy="166.83" r="0.7" fill="#8e1515"/>
<circle cx="459.19" cy="174.04" r="0.7" fill="#8e1515"/>
<circle cx="458.87" cy="165.75" r="0.7" fill="#8e1515"/>
<circle cx="459.54" cy="168.95" r="0.7" fill="#8e1515"/>
<circle cx="460.06" cy="166.16" r="0.7" fill="#8e1515"/>
<circle cx="458.22" cy="163.68" r="0.7" fill="#8e1515"/>
<line x1="457.50" y1="168.30" x2="461.70" y2="168.30" stroke="#111" stroke-width="0.9" />
<line x1="459.60" y1="165.03" x2="459.60" y2="171.58" stroke="#111" stroke-width="0.7" />
<line x1="458.30" y1="165.03" x2="460.90" y2="165.03" stroke="#111" stroke-width="0.7" />
<line x1="458.30" y1="171.58" x2="460.90" y2="171.58" stroke="#111" stroke-width="0.7" />
<circle cx="381.20" cy="135.00" r="0.8" fill="#35a83a"/>
<circle cx="386.40" cy="172.67" r="0.8" fill="#ec2c8f"/>
<circle cx="391.60" cy="168.85" r="0.8" fill="#f39a1e"/>
<circle cx="391.60" cy="141.00" r="0.8" fill="#f6a23a"/>
<circle cx="396.80" cy="160.11" r="0.7" fill="#8e1515"/>
<circle cx="407.20" cy="174.31" r="0.8" fill="#ec2c8f"/>
<circle cx="412.30" cy="173.22" r="0.8" fill="#f39a1e"/>
<circle cx="443.90" cy="155.74" r="0.8" fill="#35a83a"/>
<line x1="402.00" y1="148.00" x2="417.50" y2="148.00" stroke="#555" stroke-width="1.1" />
<line x1="402.00" y1="155.40" x2="412.30" y2="155.40" stroke="#555" stroke-width="1.1" />
<line x1="402.00" y1="162.30" x2="408.90" y2="162.30" stroke="#555" stroke-width="1.1" />
<text x="407.30" y="146.20" font-size="4.8" fill="#444" text-anchor="middle" textLength="14.20" lengthAdjust="spacingAndGlyphs"  stroke="#444" stroke-width="0.2">p&lt;0.01</text>
<text x="407.30" y="153.40" font-size="4.8" fill="#444" text-anchor="middle" textLength="14.20" lengthAdjust="spacingAndGlyphs"  stroke="#444" stroke-width="0.2">p&lt;0.05</text>
<text x="407.30" y="160.60" font-size="4.8" fill="#444" text-anchor="middle" textLength="14.20" lengthAdjust="spacingAndGlyphs"  stroke="#444" stroke-width="0.2">p&lt;0.01</text>
<text x="473.80" y="140.40" font-size="5.5" fill="#35a83a"  stroke="#35a83a" stroke-width="0.05">cre- control</text>
<text x="473.80" y="145.75" font-size="5.5" fill="#f43fae"  stroke="#f43fae" stroke-width="0.05">cre+ control</text>
<text x="473.80" y="151.10" font-size="5.5" fill="#f6a23a"  stroke="#f6a23a" stroke-width="0.05">cHet</text>
<text x="473.80" y="156.45" font-size="5.5" fill="#a8302c"  stroke="#a8302c" stroke-width="0.05">cKO</text>
<text x="7.40" y="210.10" font-size="12.6" fill="#000" font-weight="bold" stroke="#000" stroke-width="0.35">G</text>
<text x="63.20" y="221.30" font-size="6.55" fill="#f04aa6" text-anchor="middle" textLength="34.40" lengthAdjust="spacingAndGlyphs"  stroke="#f04aa6" stroke-width="0.1">cre+ control</text>
<text x="63.05" y="229.10" font-size="6.57" fill="#f5a035" text-anchor="middle" textLength="13.50" lengthAdjust="spacingAndGlyphs"  stroke="#f5a035" stroke-width="0.1">cHet</text>
<text x="63.10" y="236.20" font-size="6.97" fill="#2a2a2a" text-anchor="middle" textLength="6.20" lengthAdjust="spacingAndGlyphs"  stroke="#2a2a2a" stroke-width="0.08">or</text>
<text x="62.80" y="243.90" font-size="6.17" fill="#a3302b" text-anchor="middle" textLength="12.00" lengthAdjust="spacingAndGlyphs"  stroke="#a3302b" stroke-width="0.1">cKO</text>
<text x="31.90" y="254.70" font-size="6.49" fill="#2a2a2a" text-anchor="middle" textLength="22.00" lengthAdjust="spacingAndGlyphs"  stroke="#2a2a2a" stroke-width="0.08">2-4 mo.</text>
<text x="31.85" y="262.50" font-size="6.86" fill="#2a2a2a" text-anchor="middle" textLength="6.10" lengthAdjust="spacingAndGlyphs"  stroke="#2a2a2a" stroke-width="0.08">or</text>
<text x="32.10" y="269.90" font-size="6.34" fill="#2a2a2a" text-anchor="middle" textLength="25.00" lengthAdjust="spacingAndGlyphs"  stroke="#2a2a2a" stroke-width="0.08">7-10 mo.</text>
<path d="M44.42,255.35 C44.65,255.12 45.06,254.40 45.81,253.96 C46.56,253.53 48.27,253.18 48.93,252.72 C49.58,252.26 49.43,251.60 49.76,251.19 C50.08,250.79 50.45,250.37 50.86,250.29 C51.28,250.21 51.97,250.33 52.25,250.71 C52.53,251.09 52.27,252.46 52.53,252.58 C52.78,252.69 53.31,251.48 53.77,251.40 C54.23,251.32 54.89,251.67 55.30,252.09 C55.70,252.52 55.97,253.46 56.20,253.96 C56.43,254.47 56.22,255.18 56.68,255.14 C57.14,255.11 57.95,254.13 58.97,253.76 C59.98,253.39 61.51,252.95 62.78,252.93 C64.05,252.90 65.43,253.10 66.58,253.62 C67.74,254.14 68.89,255.06 69.70,256.04 C70.51,257.02 70.97,258.23 71.43,259.50 C71.89,260.77 72.04,262.68 72.47,263.66 C72.90,264.64 73.74,264.70 73.99,265.39 C74.25,266.08 74.36,267.21 73.99,267.81 C73.63,268.41 73.07,268.70 71.78,268.99 C70.49,269.28 67.85,269.40 66.24,269.55 C64.62,269.70 63.18,269.66 62.08,269.89 C60.99,270.12 60.26,270.53 59.66,270.93 C59.06,271.33 58.68,272.08 58.48,272.32" stroke="#222" stroke-width="0.9" fill="none" stroke-linecap="round" stroke-linejoin="round"/>
<path d="M72.47,263.87 C71.95,264.06 70.51,264.67 69.35,265.04 C68.20,265.41 66.76,265.91 65.55,266.08 C64.33,266.26 63.01,266.31 62.08,266.08 C61.16,265.85 60.70,264.99 60.01,264.70 C59.31,264.41 58.62,264.24 57.93,264.35 C57.24,264.47 56.54,265.04 55.85,265.39 C55.16,265.74 54.47,266.14 53.77,266.43 C53.08,266.72 52.04,267.01 51.70,267.12" stroke="#222" stroke-width="0.9" fill="none" stroke-linecap="round" stroke-linejoin="round"/>
<path d="M44.42,255.35 C44.54,255.75 44.48,257.08 45.12,257.77 C45.75,258.47 47.19,258.98 48.23,259.50 C49.27,260.02 50.60,260.37 51.35,260.89 C52.10,261.41 52.56,262.12 52.73,262.62 C52.91,263.12 52.68,263.54 52.39,263.87 C52.10,264.19 51.23,264.44 51.00,264.56" stroke="#222" stroke-width="0.9" fill="none" stroke-linecap="round" stroke-linejoin="round"/>
<path d="M61.04,265.39 C61.33,265.60 62.66,266.20 62.78,266.64 C62.89,267.08 62.18,267.60 61.74,268.02 C61.30,268.45 60.41,269.00 60.14,269.20" stroke="#222" stroke-width="0.7" fill="none" stroke-linecap="round" stroke-linejoin="round"/>
<circle cx="52.39" cy="254.31" r="0.4" fill="#555"/>
<path d="M141.12,254.95 C141.35,254.72 141.76,254.00 142.51,253.56 C143.26,253.13 144.97,252.78 145.63,252.32 C146.28,251.86 146.13,251.20 146.46,250.79 C146.78,250.39 147.15,249.97 147.56,249.89 C147.98,249.81 148.67,249.93 148.95,250.31 C149.23,250.69 148.97,252.06 149.23,252.18 C149.48,252.29 150.01,251.08 150.47,251.00 C150.93,250.92 151.59,251.27 152.00,251.69 C152.40,252.12 152.67,253.06 152.90,253.56 C153.13,254.07 152.92,254.78 153.38,254.74 C153.84,254.71 154.65,253.73 155.67,253.36 C156.68,252.99 158.21,252.55 159.48,252.53 C160.75,252.50 162.13,252.70 163.28,253.22 C164.44,253.74 165.59,254.66 166.40,255.64 C167.21,256.62 167.67,257.83 168.13,259.10 C168.59,260.37 168.74,262.28 169.17,263.26 C169.60,264.24 170.44,264.30 170.69,264.99 C170.95,265.68 171.06,266.81 170.69,267.41 C170.33,268.01 169.77,268.30 168.48,268.59 C167.19,268.88 164.55,269.00 162.94,269.15 C161.32,269.30 159.88,269.26 158.78,269.49 C157.69,269.72 156.96,270.13 156.36,270.53 C155.76,270.93 155.38,271.68 155.18,271.92" stroke="#222" stroke-width="0.9" fill="none" stroke-linecap="round" stroke-linejoin="round"/>
<path d="M169.17,263.47 C168.65,263.66 167.21,264.27 166.05,264.64 C164.90,265.01 163.46,265.51 162.25,265.68 C161.03,265.86 159.71,265.91 158.78,265.68 C157.86,265.45 157.40,264.59 156.71,264.30 C156.01,264.01 155.32,263.84 154.63,263.95 C153.94,264.07 153.24,264.64 152.55,264.99 C151.86,265.34 151.17,265.74 150.47,266.03 C149.78,266.32 148.74,266.61 148.40,266.72" stroke="#222" stroke-width="0.9" fill="none" stroke-linecap="round" stroke-linejoin="round"/>
<path d="M141.12,254.95 C141.24,255.35 141.18,256.68 141.82,257.37 C142.45,258.07 143.89,258.58 144.93,259.10 C145.97,259.62 147.30,259.97 148.05,260.49 C148.80,261.01 149.26,261.72 149.43,262.22 C149.61,262.72 149.38,263.14 149.09,263.47 C148.80,263.79 147.93,264.04 147.70,264.16" stroke="#222" stroke-width="0.9" fill="none" stroke-linecap="round" stroke-linejoin="round"/>
<path d="M157.74,264.99 C158.03,265.20 159.36,265.80 159.48,266.24 C159.59,266.68 158.88,267.20 158.44,267.62 C158.00,268.05 157.11,268.60 156.84,268.80" stroke="#222" stroke-width="0.7" fill="none" stroke-linecap="round" stroke-linejoin="round"/>
<circle cx="149.09" cy="253.91" r="0.4" fill="#555"/>
<line x1="76.30" y1="259.80" x2="85.00" y2="259.80" stroke="#111" stroke-width="1.5" />
<polygon points="88.50,259.80 83.50,256.80 84.90,259.80 83.50,262.80" fill="#111"/>
<line x1="116.00" y1="259.80" x2="124.90" y2="259.80" stroke="#111" stroke-width="1.5" />
<polygon points="128.40,259.80 123.40,256.80 124.80,259.80 123.40,262.80" fill="#111"/>
<text x="101.50" y="259.90" font-size="6.25" fill="#2a2a2a" text-anchor="middle" textLength="14.60" lengthAdjust="spacingAndGlyphs"  stroke="#2a2a2a" stroke-width="0.08">Bone</text>
<text x="102.00" y="266.60" font-size="6.54" fill="#2a2a2a" text-anchor="middle" textLength="21.80" lengthAdjust="spacingAndGlyphs"  stroke="#2a2a2a" stroke-width="0.08">marrow</text>
<text x="123.80" y="244.80" font-size="6.38" fill="#2a2a2a" text-anchor="middle" textLength="28.00" lengthAdjust="spacingAndGlyphs"  stroke="#2a2a2a" stroke-width="0.08">transplant</text>
<text x="109.8" y="252.1" font-size="6.5" fill="#2a2a2a" textLength="29.1" lengthAdjust="spacingAndGlyphs">1x10<tspan font-size="3.6" dy="-2.4">6</tspan><tspan dy="2.4"> cells</tspan></text>
<text x="62.60" y="289.10" font-size="7.6" fill="#2a2a2a" text-anchor="middle" textLength="36.60" lengthAdjust="spacingAndGlyphs"  stroke="#2a2a2a" stroke-width="0.08">tdTomato+</text>
<text x="154.90" y="288.80" font-size="7.33" fill="#2a2a2a" text-anchor="middle" textLength="32.20" lengthAdjust="spacingAndGlyphs"  stroke="#2a2a2a" stroke-width="0.08">C57BL/6J</text>
<polygon points="163.2,243.0 167.0,244.4 163.9,247.2 165.4,247.0 156.4,253.4 160.9,248.3 159.4,248.6" fill="#f5e400" stroke="#444" stroke-width="0.4" stroke-linejoin="round"/>
<line x1="185.00" y1="268.90" x2="391.60" y2="268.90" stroke="#2a2a2a" stroke-width="1.1" />
<line x1="186.00" y1="245.30" x2="220.40" y2="245.30" stroke="#333" stroke-width="1.0" />
<line x1="222.30" y1="245.30" x2="324.60" y2="245.30" stroke="#333" stroke-width="1.0" />
<line x1="186.90" y1="249.00" x2="186.90" y2="264.00" stroke="#111" stroke-width="1.4" />
<polygon points="186.90,268.00 184.00,261.20 186.90,263.20 189.80,261.20" fill="#111"/>
<line x1="195.40" y1="249.00" x2="195.40" y2="264.00" stroke="#111" stroke-width="1.4" />
<polygon points="195.40,268.00 192.50,261.20 195.40,263.20 198.30,261.20" fill="#111"/>
<line x1="203.80" y1="249.00" x2="203.80" y2="264.00" stroke="#111" stroke-width="1.4" />
<polygon points="203.80,268.00 200.90,261.20 203.80,263.20 206.70,261.20" fill="#111"/>
<line x1="212.70" y1="249.00" x2="212.70" y2="264.00" stroke="#111" stroke-width="1.4" />
<polygon points="212.70,268.00 209.80,261.20 212.70,263.20 215.60,261.20" fill="#111"/>
<line x1="221.20" y1="249.00" x2="221.20" y2="264.00" stroke="#111" stroke-width="1.4" />
<polygon points="221.20,268.00 218.30,261.20 221.20,263.20 224.10,261.20" fill="#111"/>
<line x1="255.80" y1="249.00" x2="255.80" y2="264.00" stroke="#111" stroke-width="1.4" />
<polygon points="255.80,268.00 252.90,261.20 255.80,263.20 258.70,261.20" fill="#111"/>
<line x1="290.20" y1="249.00" x2="290.20" y2="264.00" stroke="#111" stroke-width="1.4" />
<polygon points="290.20,268.00 287.30,261.20 290.20,263.20 293.10,261.20" fill="#111"/>
<line x1="324.10" y1="249.00" x2="324.10" y2="264.00" stroke="#111" stroke-width="1.4" />
<polygon points="324.10,268.00 321.20,261.20 324.10,263.20 327.00,261.20" fill="#111"/>
<line x1="370.90" y1="249.00" x2="370.90" y2="264.00" stroke="#111" stroke-width="1.4" />
<polygon points="370.90,268.00 368.00,261.20 370.90,263.20 373.80,261.20" fill="#111"/>
<text x="187.10" y="277.00" font-size="6.5" fill="#2a2a2a" text-anchor="middle"  stroke="#2a2a2a" stroke-width="0.05">0</text>
<text x="195.60" y="277.00" font-size="6.5" fill="#2a2a2a" text-anchor="middle"  stroke="#2a2a2a" stroke-width="0.05">1</text>
<text x="204.00" y="277.00" font-size="6.5" fill="#2a2a2a" text-anchor="middle"  stroke="#2a2a2a" stroke-width="0.05">2</text>
<text x="212.90" y="277.00" font-size="6.5" fill="#2a2a2a" text-anchor="middle"  stroke="#2a2a2a" stroke-width="0.05">3</text>
<text x="221.40" y="277.00" font-size="6.5" fill="#2a2a2a" text-anchor="middle"  stroke="#2a2a2a" stroke-width="0.05">4</text>
<text x="256.00" y="277.00" font-size="6.5" fill="#2a2a2a" text-anchor="middle"  stroke="#2a2a2a" stroke-width="0.05">8</text>
<text x="290.40" y="277.00" font-size="6.5" fill="#2a2a2a" text-anchor="middle"  stroke="#2a2a2a" stroke-width="0.05">12</text>
<text x="324.30" y="277.00" font-size="6.5" fill="#2a2a2a" text-anchor="middle"  stroke="#2a2a2a" stroke-width="0.05">16</text>
<text x="371.10" y="277.00" font-size="6.5" fill="#2a2a2a" text-anchor="middle"  stroke="#2a2a2a" stroke-width="0.05">24-28</text>
<text x="204.05" y="233.10" font-size="6.31" fill="#2a2a2a" text-anchor="middle" textLength="37.50" lengthAdjust="spacingAndGlyphs"  stroke="#2a2a2a" stroke-width="0.08">Assess blood</text>
<text x="204.05" y="239.90" font-size="6.27" fill="#2a2a2a" text-anchor="middle" textLength="31.70" lengthAdjust="spacingAndGlyphs"  stroke="#2a2a2a" stroke-width="0.08">parameters</text>
<text x="273.25" y="233.00" font-size="6.28" fill="#2a2a2a" text-anchor="middle" textLength="34.90" lengthAdjust="spacingAndGlyphs"  stroke="#2a2a2a" stroke-width="0.08">Assay donor</text>
<text x="273.30" y="240.70" font-size="6.28" fill="#2a2a2a" text-anchor="middle" textLength="28.60" lengthAdjust="spacingAndGlyphs"  stroke="#2a2a2a" stroke-width="0.08">chimerism</text>
<text x="367.70" y="225.30" font-size="6.3" fill="#2a2a2a" text-anchor="middle" textLength="22.40" lengthAdjust="spacingAndGlyphs"  stroke="#2a2a2a" stroke-width="0.08">Analyze</text>
<text x="368.45" y="232.60" font-size="6.56" fill="#2a2a2a" text-anchor="middle" textLength="40.50" lengthAdjust="spacingAndGlyphs"  stroke="#2a2a2a" stroke-width="0.08">donor-derived</text>
<text x="368.50" y="240.40" font-size="6.28" fill="#2a2a2a" text-anchor="middle" textLength="42.60" lengthAdjust="spacingAndGlyphs"  stroke="#2a2a2a" stroke-width="0.08">HSC frequency</text>
<text x="288.85" y="288.80" font-size="6.44" fill="#2a2a2a" text-anchor="middle" textLength="62.30" lengthAdjust="spacingAndGlyphs" font-style="italic"  stroke="#2a2a2a" stroke-width="0.08">weeks post transplant</text>
<text x="7.40" y="309.60" font-size="12.6" fill="#000" font-weight="bold" stroke="#000" stroke-width="0.35">H</text>
<line x1="42.10" y1="316.40" x2="42.10" y2="376.20" stroke="#1e1e1e" stroke-width="1.4" />
<line x1="39.50" y1="375.80" x2="42.10" y2="375.80" stroke="#1e1e1e" stroke-width="0.9" />
<text x="37.00" y="378.10" font-size="6.5" fill="#333" text-anchor="end"  stroke="#333" stroke-width="0.1">0</text>
<line x1="39.50" y1="356.67" x2="42.10" y2="356.67" stroke="#1e1e1e" stroke-width="0.9" />
<text x="37.00" y="358.97" font-size="6.5" fill="#333" text-anchor="end"  stroke="#333" stroke-width="0.1">5</text>
<line x1="39.50" y1="337.53" x2="42.10" y2="337.53" stroke="#1e1e1e" stroke-width="0.9" />
<text x="37.00" y="339.83" font-size="6.5" fill="#333" text-anchor="end"  stroke="#333" stroke-width="0.1">10</text>
<line x1="39.50" y1="318.40" x2="42.10" y2="318.40" stroke="#1e1e1e" stroke-width="0.9" />
<text x="37.00" y="320.70" font-size="6.5" fill="#333" text-anchor="end"  stroke="#333" stroke-width="0.1">15</text>
<line x1="41.50" y1="375.70" x2="130.20" y2="375.70" stroke="#1e1e1e" stroke-width="1.4" />
<line x1="42.20" y1="375.70" x2="42.20" y2="378.50" stroke="#1e1e1e" stroke-width="1.0" />
<text x="42.20" y="387.30" font-size="6.5" fill="#333" text-anchor="middle"  stroke="#333" stroke-width="0.2">0</text>
<line x1="64.20" y1="375.70" x2="64.20" y2="378.50" stroke="#1e1e1e" stroke-width="1.0" />
<text x="64.20" y="387.30" font-size="6.5" fill="#333" text-anchor="middle"  stroke="#333" stroke-width="0.2">1</text>
<line x1="85.60" y1="375.70" x2="85.60" y2="378.50" stroke="#1e1e1e" stroke-width="1.0" />
<text x="85.60" y="387.30" font-size="6.5" fill="#333" text-anchor="middle"  stroke="#333" stroke-width="0.2">2</text>
<line x1="106.80" y1="375.70" x2="106.80" y2="378.50" stroke="#1e1e1e" stroke-width="1.0" />
<text x="106.80" y="387.30" font-size="6.5" fill="#333" text-anchor="middle"  stroke="#333" stroke-width="0.2">3</text>
<line x1="128.00" y1="375.70" x2="128.00" y2="378.50" stroke="#1e1e1e" stroke-width="1.0" />
<text x="128.00" y="387.30" font-size="6.5" fill="#333" text-anchor="middle"  stroke="#333" stroke-width="0.2">4</text>
<text x="86.70" y="399.30" font-size="8.8" fill="#222" text-anchor="middle" textLength="65.40" lengthAdjust="spacingAndGlyphs"  stroke="#222" stroke-width="0.2">Weeks post transplant</text>
<text transform="translate(14.95,345.60) rotate(-90)" x="0" y="0" font-size="9.6" fill="#3a3a3a" text-anchor="middle" textLength="45.90" lengthAdjust="spacingAndGlyphs"  stroke="#3a3a3a" stroke-width="0.08">Red blood cells</text>
<text transform="translate(24.7,346.1) rotate(-90)" x="0" y="0" font-size="9.6" fill="#333" text-anchor="middle" textLength="39.8" lengthAdjust="spacingAndGlyphs">(x10<tspan font-size="5.6" dy="-3.2">12</tspan><tspan dy="3.2">cells/L)</tspan></text>
<line x1="42.20" y1="335.24" x2="42.20" y2="344.04" stroke="#f0379b" stroke-width="0.55" opacity="0.8"/>
<line x1="41.00" y1="335.24" x2="43.40" y2="335.24" stroke="#f0379b" stroke-width="0.7" opacity="0.8"/>
<line x1="41.00" y1="344.04" x2="43.40" y2="344.04" stroke="#f0379b" stroke-width="0.7" opacity="0.8"/>
<line x1="64.20" y1="345.57" x2="64.20" y2="352.46" stroke="#f0379b" stroke-width="0.55" opacity="0.8"/>
<line x1="63.00" y1="345.57" x2="65.40" y2="345.57" stroke="#f0379b" stroke-width="0.7" opacity="0.8"/>
<line x1="63.00" y1="352.46" x2="65.40" y2="352.46" stroke="#f0379b" stroke-width="0.7" opacity="0.8"/>
<line x1="85.60" y1="342.51" x2="85.60" y2="350.16" stroke="#f0379b" stroke-width="0.55" opacity="0.8"/>
<line x1="84.40" y1="342.51" x2="86.80" y2="342.51" stroke="#f0379b" stroke-width="0.7" opacity="0.8"/>
<line x1="84.40" y1="350.16" x2="86.80" y2="350.16" stroke="#f0379b" stroke-width="0.7" opacity="0.8"/>
<line x1="106.80" y1="339.45" x2="106.80" y2="352.07" stroke="#f0379b" stroke-width="0.55" opacity="0.8"/>
<line x1="105.60" y1="339.45" x2="108.00" y2="339.45" stroke="#f0379b" stroke-width="0.7" opacity="0.8"/>
<line x1="105.60" y1="352.07" x2="108.00" y2="352.07" stroke="#f0379b" stroke-width="0.7" opacity="0.8"/>
<line x1="128.00" y1="339.06" x2="128.00" y2="351.69" stroke="#f0379b" stroke-width="0.55" opacity="0.8"/>
<line x1="126.80" y1="339.06" x2="129.20" y2="339.06" stroke="#f0379b" stroke-width="0.7" opacity="0.8"/>
<line x1="126.80" y1="351.69" x2="129.20" y2="351.69" stroke="#f0379b" stroke-width="0.7" opacity="0.8"/>
<line x1="42.20" y1="336.77" x2="42.20" y2="343.27" stroke="#f7961c" stroke-width="0.55" opacity="0.8"/>
<line x1="41.00" y1="336.77" x2="43.40" y2="336.77" stroke="#f7961c" stroke-width="0.7" opacity="0.8"/>
<line x1="41.00" y1="343.27" x2="43.40" y2="343.27" stroke="#f7961c" stroke-width="0.7" opacity="0.8"/>
<line x1="64.20" y1="346.33" x2="64.20" y2="350.93" stroke="#f7961c" stroke-width="0.55" opacity="0.8"/>
<line x1="63.00" y1="346.33" x2="65.40" y2="346.33" stroke="#f7961c" stroke-width="0.7" opacity="0.8"/>
<line x1="63.00" y1="350.93" x2="65.40" y2="350.93" stroke="#f7961c" stroke-width="0.7" opacity="0.8"/>
<line x1="85.60" y1="343.27" x2="85.60" y2="349.01" stroke="#f7961c" stroke-width="0.55" opacity="0.8"/>
<line x1="84.40" y1="343.27" x2="86.80" y2="343.27" stroke="#f7961c" stroke-width="0.7" opacity="0.8"/>
<line x1="84.40" y1="349.01" x2="86.80" y2="349.01" stroke="#f7961c" stroke-width="0.7" opacity="0.8"/>
<line x1="106.80" y1="342.13" x2="106.80" y2="349.01" stroke="#f7961c" stroke-width="0.55" opacity="0.8"/>
<line x1="105.60" y1="342.13" x2="108.00" y2="342.13" stroke="#f7961c" stroke-width="0.7" opacity="0.8"/>
<line x1="105.60" y1="349.01" x2="108.00" y2="349.01" stroke="#f7961c" stroke-width="0.7" opacity="0.8"/>
<line x1="128.00" y1="341.36" x2="128.00" y2="348.25" stroke="#f7961c" stroke-width="0.55" opacity="0.8"/>
<line x1="126.80" y1="341.36" x2="129.20" y2="341.36" stroke="#f7961c" stroke-width="0.7" opacity="0.8"/>
<line x1="126.80" y1="348.25" x2="129.20" y2="348.25" stroke="#f7961c" stroke-width="0.7" opacity="0.8"/>
<line x1="42.20" y1="336.00" x2="42.20" y2="341.36" stroke="#a21e18" stroke-width="0.55" opacity="0.8"/>
<line x1="41.00" y1="336.00" x2="43.40" y2="336.00" stroke="#a21e18" stroke-width="0.7" opacity="0.8"/>
<line x1="41.00" y1="341.36" x2="43.40" y2="341.36" stroke="#a21e18" stroke-width="0.7" opacity="0.8"/>
<line x1="64.20" y1="345.95" x2="64.20" y2="351.69" stroke="#a21e18" stroke-width="0.55" opacity="0.8"/>
<line x1="63.00" y1="345.95" x2="65.40" y2="345.95" stroke="#a21e18" stroke-width="0.7" opacity="0.8"/>
<line x1="63.00" y1="351.69" x2="65.40" y2="351.69" stroke="#a21e18" stroke-width="0.7" opacity="0.8"/>
<line x1="85.60" y1="342.51" x2="85.60" y2="349.78" stroke="#a21e18" stroke-width="0.55" opacity="0.8"/>
<line x1="84.40" y1="342.51" x2="86.80" y2="342.51" stroke="#a21e18" stroke-width="0.7" opacity="0.8"/>
<line x1="84.40" y1="349.78" x2="86.80" y2="349.78" stroke="#a21e18" stroke-width="0.7" opacity="0.8"/>
<line x1="106.80" y1="341.36" x2="106.80" y2="349.78" stroke="#a21e18" stroke-width="0.55" opacity="0.8"/>
<line x1="105.60" y1="341.36" x2="108.00" y2="341.36" stroke="#a21e18" stroke-width="0.7" opacity="0.8"/>
<line x1="105.60" y1="349.78" x2="108.00" y2="349.78" stroke="#a21e18" stroke-width="0.7" opacity="0.8"/>
<line x1="128.00" y1="340.21" x2="128.00" y2="349.01" stroke="#a21e18" stroke-width="0.55" opacity="0.8"/>
<line x1="126.80" y1="340.21" x2="129.20" y2="340.21" stroke="#a21e18" stroke-width="0.7" opacity="0.8"/>
<line x1="126.80" y1="349.01" x2="129.20" y2="349.01" stroke="#a21e18" stroke-width="0.7" opacity="0.8"/>
<path d="M42.20,339.06 L64.20,349.01 L85.60,346.33 L106.80,345.57 L128.00,344.80" stroke="#f0379b" stroke-width="1.15" fill="none" stroke-linejoin="round"/>
<rect x="41.20" y="338.06" width="2.00" height="2.00" fill="#f0379b"/>
<rect x="63.20" y="348.01" width="2.00" height="2.00" fill="#f0379b"/>
<rect x="84.60" y="345.33" width="2.00" height="2.00" fill="#f0379b"/>
<rect x="105.80" y="344.57" width="2.00" height="2.00" fill="#f0379b"/>
<rect x="127.00" y="343.80" width="2.00" height="2.00" fill="#f0379b"/>
<path d="M42.20,339.83 L64.20,348.25 L85.60,345.95 L106.80,345.19 L128.00,344.04" stroke="#f7961c" stroke-width="1.15" fill="none" stroke-linejoin="round"/>
<rect x="41.20" y="338.83" width="2.00" height="2.00" fill="#f7961c"/>
<rect x="63.20" y="347.25" width="2.00" height="2.00" fill="#f7961c"/>
<rect x="84.60" y="344.95" width="2.00" height="2.00" fill="#f7961c"/>
<rect x="105.80" y="344.19" width="2.00" height="2.00" fill="#f7961c"/>
<rect x="127.00" y="343.04" width="2.00" height="2.00" fill="#f7961c"/>
<path d="M42.20,338.68 L64.20,348.82 L85.60,346.33 L106.80,345.38 L128.00,344.42" stroke="#a21e18" stroke-width="1.15" fill="none" stroke-linejoin="round"/>
<rect x="41.20" y="337.68" width="2.00" height="2.00" fill="#a21e18"/>
<rect x="63.20" y="347.82" width="2.00" height="2.00" fill="#a21e18"/>
<rect x="84.60" y="345.33" width="2.00" height="2.00" fill="#a21e18"/>
<rect x="105.80" y="344.38" width="2.00" height="2.00" fill="#a21e18"/>
<rect x="127.00" y="343.42" width="2.00" height="2.00" fill="#a21e18"/>
<line x1="134.40" y1="337.90" x2="142.90" y2="337.90" stroke="#f0379b" stroke-width="1.1" />
<rect x="137.65" y="336.90" width="2.00" height="2.00" fill="#f0379b"/>
<text x="145.50" y="339.70" font-size="5.9" fill="#2a2a2a" textLength="29.00" lengthAdjust="spacingAndGlyphs"  stroke="#2a2a2a" stroke-width="0.06">cre+ control</text>
<line x1="134.40" y1="345.20" x2="142.90" y2="345.20" stroke="#f7961c" stroke-width="1.1" />
<rect x="137.65" y="344.20" width="2.00" height="2.00" fill="#f7961c"/>
<text x="145.50" y="347.00" font-size="5.9" fill="#2a2a2a" textLength="10.80" lengthAdjust="spacingAndGlyphs"  stroke="#2a2a2a" stroke-width="0.06">cHet</text>
<line x1="134.40" y1="352.50" x2="142.90" y2="352.50" stroke="#a21e18" stroke-width="1.1" />
<rect x="137.65" y="351.50" width="2.00" height="2.00" fill="#a21e18"/>
<text x="145.50" y="354.30" font-size="5.9" fill="#2a2a2a" textLength="10.40" lengthAdjust="spacingAndGlyphs"  stroke="#2a2a2a" stroke-width="0.06">cKO</text>
<text x="185.20" y="309.60" font-size="12.6" fill="#000" font-weight="bold" stroke="#000" stroke-width="0.35">I</text>
<line x1="211.00" y1="316.10" x2="211.00" y2="376.20" stroke="#1e1e1e" stroke-width="1.4" />
<line x1="208.40" y1="375.80" x2="211.00" y2="375.80" stroke="#1e1e1e" stroke-width="0.9" />
<text x="205.90" y="378.10" font-size="6.5" fill="#333" text-anchor="end"  stroke="#333" stroke-width="0.1">0</text>
<line x1="208.40" y1="364.32" x2="211.00" y2="364.32" stroke="#1e1e1e" stroke-width="0.9" />
<text x="205.90" y="366.62" font-size="6.5" fill="#333" text-anchor="end"  stroke="#333" stroke-width="0.1">20</text>
<line x1="208.40" y1="352.84" x2="211.00" y2="352.84" stroke="#1e1e1e" stroke-width="0.9" />
<text x="205.90" y="355.14" font-size="6.5" fill="#333" text-anchor="end"  stroke="#333" stroke-width="0.1">40</text>
<line x1="208.40" y1="341.36" x2="211.00" y2="341.36" stroke="#1e1e1e" stroke-width="0.9" />
<text x="205.90" y="343.66" font-size="6.5" fill="#333" text-anchor="end"  stroke="#333" stroke-width="0.1">60</text>
<line x1="208.40" y1="329.88" x2="211.00" y2="329.88" stroke="#1e1e1e" stroke-width="0.9" />
<text x="205.90" y="332.18" font-size="6.5" fill="#333" text-anchor="end"  stroke="#333" stroke-width="0.1">80</text>
<line x1="208.40" y1="318.40" x2="211.00" y2="318.40" stroke="#1e1e1e" stroke-width="0.9" />
<text x="205.90" y="320.70" font-size="6.5" fill="#333" text-anchor="end"  stroke="#333" stroke-width="0.1">100</text>
<line x1="210.40" y1="375.70" x2="299.60" y2="375.70" stroke="#1e1e1e" stroke-width="1.4" />
<line x1="210.90" y1="375.70" x2="210.90" y2="378.50" stroke="#1e1e1e" stroke-width="1.0" />
<text x="210.90" y="387.30" font-size="6.5" fill="#333" text-anchor="middle"  stroke="#333" stroke-width="0.2">0</text>
<line x1="232.40" y1="375.70" x2="232.40" y2="378.50" stroke="#1e1e1e" stroke-width="1.0" />
<text x="232.40" y="387.30" font-size="6.5" fill="#333" text-anchor="middle"  stroke="#333" stroke-width="0.2">1</text>
<line x1="253.90" y1="375.70" x2="253.90" y2="378.50" stroke="#1e1e1e" stroke-width="1.0" />
<text x="253.90" y="387.30" font-size="6.5" fill="#333" text-anchor="middle"  stroke="#333" stroke-width="0.2">2</text>
<line x1="275.40" y1="375.70" x2="275.40" y2="378.50" stroke="#1e1e1e" stroke-width="1.0" />
<text x="275.40" y="387.30" font-size="6.5" fill="#333" text-anchor="middle"  stroke="#333" stroke-width="0.2">3</text>
<line x1="296.90" y1="375.70" x2="296.90" y2="378.50" stroke="#1e1e1e" stroke-width="1.0" />
<text x="296.90" y="387.30" font-size="6.5" fill="#333" text-anchor="middle"  stroke="#333" stroke-width="0.2">4</text>
<text x="255.60" y="399.30" font-size="8.8" fill="#222" text-anchor="middle" textLength="65.40" lengthAdjust="spacingAndGlyphs"  stroke="#222" stroke-width="0.2">Weeks post transplant</text>
<text transform="translate(189.45,345.60) rotate(-90)" x="0" y="0" font-size="9.6" fill="#3a3a3a" text-anchor="middle" textLength="44.10" lengthAdjust="spacingAndGlyphs"  stroke="#3a3a3a" stroke-width="0.08">Hematocrit (%)</text>
<line x1="210.90" y1="350.54" x2="210.90" y2="355.14" stroke="#f0379b" stroke-width="0.55" opacity="0.8"/>
<line x1="209.70" y1="350.54" x2="212.10" y2="350.54" stroke="#f0379b" stroke-width="0.7" opacity="0.8"/>
<line x1="209.70" y1="355.14" x2="212.10" y2="355.14" stroke="#f0379b" stroke-width="0.7" opacity="0.8"/>
<line x1="232.40" y1="356.86" x2="232.40" y2="360.30" stroke="#f0379b" stroke-width="0.55" opacity="0.8"/>
<line x1="231.20" y1="356.86" x2="233.60" y2="356.86" stroke="#f0379b" stroke-width="0.7" opacity="0.8"/>
<line x1="231.20" y1="360.30" x2="233.60" y2="360.30" stroke="#f0379b" stroke-width="0.7" opacity="0.8"/>
<line x1="253.90" y1="353.41" x2="253.90" y2="358.01" stroke="#f0379b" stroke-width="0.55" opacity="0.8"/>
<line x1="252.70" y1="353.41" x2="255.10" y2="353.41" stroke="#f0379b" stroke-width="0.7" opacity="0.8"/>
<line x1="252.70" y1="358.01" x2="255.10" y2="358.01" stroke="#f0379b" stroke-width="0.7" opacity="0.8"/>
<line x1="275.40" y1="351.69" x2="275.40" y2="359.73" stroke="#f0379b" stroke-width="0.55" opacity="0.8"/>
<line x1="274.20" y1="351.69" x2="276.60" y2="351.69" stroke="#f0379b" stroke-width="0.7" opacity="0.8"/>
<line x1="274.20" y1="359.73" x2="276.60" y2="359.73" stroke="#f0379b" stroke-width="0.7" opacity="0.8"/>
<line x1="296.90" y1="351.12" x2="296.90" y2="358.58" stroke="#f0379b" stroke-width="0.55" opacity="0.8"/>
<line x1="295.70" y1="351.12" x2="298.10" y2="351.12" stroke="#f0379b" stroke-width="0.7" opacity="0.8"/>
<line x1="295.70" y1="358.58" x2="298.10" y2="358.58" stroke="#f0379b" stroke-width="0.7" opacity="0.8"/>
<line x1="210.90" y1="351.12" x2="210.90" y2="353.99" stroke="#f7961c" stroke-width="0.55" opacity="0.8"/>
<line x1="209.70" y1="351.12" x2="212.10" y2="351.12" stroke="#f7961c" stroke-width="0.7" opacity="0.8"/>
<line x1="209.70" y1="353.99" x2="212.10" y2="353.99" stroke="#f7961c" stroke-width="0.7" opacity="0.8"/>
<line x1="232.40" y1="357.43" x2="232.40" y2="359.73" stroke="#f7961c" stroke-width="0.55" opacity="0.8"/>
<line x1="231.20" y1="357.43" x2="233.60" y2="357.43" stroke="#f7961c" stroke-width="0.7" opacity="0.8"/>
<line x1="231.20" y1="359.73" x2="233.60" y2="359.73" stroke="#f7961c" stroke-width="0.7" opacity="0.8"/>
<line x1="253.90" y1="353.99" x2="253.90" y2="357.43" stroke="#f7961c" stroke-width="0.55" opacity="0.8"/>
<line x1="252.70" y1="353.99" x2="255.10" y2="353.99" stroke="#f7961c" stroke-width="0.7" opacity="0.8"/>
<line x1="252.70" y1="357.43" x2="255.10" y2="357.43" stroke="#f7961c" stroke-width="0.7" opacity="0.8"/>
<line x1="275.40" y1="352.84" x2="275.40" y2="356.86" stroke="#f7961c" stroke-width="0.55" opacity="0.8"/>
<line x1="274.20" y1="352.84" x2="276.60" y2="352.84" stroke="#f7961c" stroke-width="0.7" opacity="0.8"/>
<line x1="274.20" y1="356.86" x2="276.60" y2="356.86" stroke="#f7961c" stroke-width="0.7" opacity="0.8"/>
<line x1="296.90" y1="352.27" x2="296.90" y2="356.86" stroke="#f7961c" stroke-width="0.55" opacity="0.8"/>
<line x1="295.70" y1="352.27" x2="298.10" y2="352.27" stroke="#f7961c" stroke-width="0.7" opacity="0.8"/>
<line x1="295.70" y1="356.86" x2="298.10" y2="356.86" stroke="#f7961c" stroke-width="0.7" opacity="0.8"/>
<line x1="210.90" y1="350.54" x2="210.90" y2="353.99" stroke="#a21e18" stroke-width="0.55" opacity="0.8"/>
<line x1="209.70" y1="350.54" x2="212.10" y2="350.54" stroke="#a21e18" stroke-width="0.7" opacity="0.8"/>
<line x1="209.70" y1="353.99" x2="212.10" y2="353.99" stroke="#a21e18" stroke-width="0.7" opacity="0.8"/>
<line x1="232.40" y1="356.86" x2="232.40" y2="360.30" stroke="#a21e18" stroke-width="0.55" opacity="0.8"/>
<line x1="231.20" y1="356.86" x2="233.60" y2="356.86" stroke="#a21e18" stroke-width="0.7" opacity="0.8"/>
<line x1="231.20" y1="360.30" x2="233.60" y2="360.30" stroke="#a21e18" stroke-width="0.7" opacity="0.8"/>
<line x1="253.90" y1="353.41" x2="253.90" y2="358.01" stroke="#a21e18" stroke-width="0.55" opacity="0.8"/>
<line x1="252.70" y1="353.41" x2="255.10" y2="353.41" stroke="#a21e18" stroke-width="0.7" opacity="0.8"/>
<line x1="252.70" y1="358.01" x2="255.10" y2="358.01" stroke="#a21e18" stroke-width="0.7" opacity="0.8"/>
<line x1="275.40" y1="352.27" x2="275.40" y2="357.43" stroke="#a21e18" stroke-width="0.55" opacity="0.8"/>
<line x1="274.20" y1="352.27" x2="276.60" y2="352.27" stroke="#a21e18" stroke-width="0.7" opacity="0.8"/>
<line x1="274.20" y1="357.43" x2="276.60" y2="357.43" stroke="#a21e18" stroke-width="0.7" opacity="0.8"/>
<line x1="296.90" y1="352.27" x2="296.90" y2="356.86" stroke="#a21e18" stroke-width="0.55" opacity="0.8"/>
<line x1="295.70" y1="352.27" x2="298.10" y2="352.27" stroke="#a21e18" stroke-width="0.7" opacity="0.8"/>
<line x1="295.70" y1="356.86" x2="298.10" y2="356.86" stroke="#a21e18" stroke-width="0.7" opacity="0.8"/>
<path d="M210.90,352.84 L232.40,358.58 L253.90,355.71 L275.40,355.71 L296.90,355.14" stroke="#f0379b" stroke-width="1.15" fill="none" stroke-linejoin="round"/>
<rect x="209.90" y="351.84" width="2.00" height="2.00" fill="#f0379b"/>
<rect x="231.40" y="357.58" width="2.00" height="2.00" fill="#f0379b"/>
<rect x="252.90" y="354.71" width="2.00" height="2.00" fill="#f0379b"/>
<rect x="274.40" y="354.71" width="2.00" height="2.00" fill="#f0379b"/>
<rect x="295.90" y="354.14" width="2.00" height="2.00" fill="#f0379b"/>
<path d="M210.90,352.27 L232.40,358.58 L253.90,355.71 L275.40,354.56 L296.90,354.56" stroke="#f7961c" stroke-width="1.15" fill="none" stroke-linejoin="round"/>
<rect x="209.90" y="351.27" width="2.00" height="2.00" fill="#f7961c"/>
<rect x="231.40" y="357.58" width="2.00" height="2.00" fill="#f7961c"/>
<rect x="252.90" y="354.71" width="2.00" height="2.00" fill="#f7961c"/>
<rect x="274.40" y="353.56" width="2.00" height="2.00" fill="#f7961c"/>
<rect x="295.90" y="353.56" width="2.00" height="2.00" fill="#f7961c"/>
<path d="M210.90,352.27 L232.40,358.58 L253.90,355.71 L275.40,354.85 L296.90,354.56" stroke="#a21e18" stroke-width="1.15" fill="none" stroke-linejoin="round"/>
<rect x="209.90" y="351.27" width="2.00" height="2.00" fill="#a21e18"/>
<rect x="231.40" y="357.58" width="2.00" height="2.00" fill="#a21e18"/>
<rect x="252.90" y="354.71" width="2.00" height="2.00" fill="#a21e18"/>
<rect x="274.40" y="353.85" width="2.00" height="2.00" fill="#a21e18"/>
<rect x="295.90" y="353.56" width="2.00" height="2.00" fill="#a21e18"/>
<line x1="303.30" y1="337.90" x2="310.10" y2="337.90" stroke="#f0379b" stroke-width="1.1" />
<rect x="305.70" y="336.90" width="2.00" height="2.00" fill="#f0379b"/>
<text x="313.10" y="339.70" font-size="5.9" fill="#2a2a2a" textLength="29.00" lengthAdjust="spacingAndGlyphs"  stroke="#2a2a2a" stroke-width="0.06">cre+ control</text>
<line x1="303.30" y1="345.20" x2="310.10" y2="345.20" stroke="#f7961c" stroke-width="1.1" />
<rect x="305.70" y="344.20" width="2.00" height="2.00" fill="#f7961c"/>
<text x="313.10" y="347.00" font-size="5.9" fill="#2a2a2a" textLength="10.80" lengthAdjust="spacingAndGlyphs"  stroke="#2a2a2a" stroke-width="0.06">cHet</text>
<line x1="303.30" y1="352.50" x2="310.10" y2="352.50" stroke="#a21e18" stroke-width="1.1" />
<rect x="305.70" y="351.50" width="2.00" height="2.00" fill="#a21e18"/>
<text x="313.10" y="354.30" font-size="5.9" fill="#2a2a2a" textLength="10.40" lengthAdjust="spacingAndGlyphs"  stroke="#2a2a2a" stroke-width="0.06">cKO</text>
<text x="351.40" y="309.60" font-size="12.6" fill="#000" font-weight="bold" stroke="#000" stroke-width="0.35">J</text>
<line x1="378.40" y1="316.10" x2="378.40" y2="376.20" stroke="#1e1e1e" stroke-width="1.4" />
<line x1="375.80" y1="375.80" x2="378.40" y2="375.80" stroke="#1e1e1e" stroke-width="0.9" />
<text x="373.30" y="378.10" font-size="6.5" fill="#333" text-anchor="end"  stroke="#333" stroke-width="0.1">0</text>
<line x1="375.80" y1="361.45" x2="378.40" y2="361.45" stroke="#1e1e1e" stroke-width="0.9" />
<text x="373.30" y="363.75" font-size="6.5" fill="#333" text-anchor="end"  stroke="#333" stroke-width="0.1">50</text>
<line x1="375.80" y1="347.10" x2="378.40" y2="347.10" stroke="#1e1e1e" stroke-width="0.9" />
<text x="373.30" y="349.40" font-size="6.5" fill="#333" text-anchor="end"  stroke="#333" stroke-width="0.1">100</text>
<line x1="375.80" y1="332.75" x2="378.40" y2="332.75" stroke="#1e1e1e" stroke-width="0.9" />
<text x="373.30" y="335.05" font-size="6.5" fill="#333" text-anchor="end"  stroke="#333" stroke-width="0.1">150</text>
<line x1="375.80" y1="318.40" x2="378.40" y2="318.40" stroke="#1e1e1e" stroke-width="0.9" />
<text x="373.30" y="320.70" font-size="6.5" fill="#333" text-anchor="end"  stroke="#333" stroke-width="0.1">200</text>
<line x1="377.80" y1="375.70" x2="466.90" y2="375.70" stroke="#1e1e1e" stroke-width="1.4" />
<line x1="378.50" y1="375.70" x2="378.50" y2="378.50" stroke="#1e1e1e" stroke-width="1.0" />
<text x="378.50" y="387.30" font-size="6.5" fill="#333" text-anchor="middle"  stroke="#333" stroke-width="0.2">0</text>
<line x1="400.20" y1="375.70" x2="400.20" y2="378.50" stroke="#1e1e1e" stroke-width="1.0" />
<text x="400.20" y="387.30" font-size="6.5" fill="#333" text-anchor="middle"  stroke="#333" stroke-width="0.2">1</text>
<line x1="421.70" y1="375.70" x2="421.70" y2="378.50" stroke="#1e1e1e" stroke-width="1.0" />
<text x="421.70" y="387.30" font-size="6.5" fill="#333" text-anchor="middle"  stroke="#333" stroke-width="0.2">2</text>
<line x1="443.20" y1="375.70" x2="443.20" y2="378.50" stroke="#1e1e1e" stroke-width="1.0" />
<text x="443.20" y="387.30" font-size="6.5" fill="#333" text-anchor="middle"  stroke="#333" stroke-width="0.2">3</text>
<line x1="464.40" y1="375.70" x2="464.40" y2="378.50" stroke="#1e1e1e" stroke-width="1.0" />
<text x="464.40" y="387.30" font-size="6.5" fill="#333" text-anchor="middle"  stroke="#333" stroke-width="0.2">4</text>
<text x="423.60" y="399.30" font-size="8.8" fill="#222" text-anchor="middle" textLength="65.20" lengthAdjust="spacingAndGlyphs"  stroke="#222" stroke-width="0.2">Weeks post transplant</text>
<text transform="translate(357.40,345.20) rotate(-90)" x="0" y="0" font-size="9.6" fill="#3a3a3a" text-anchor="middle" textLength="55.40" lengthAdjust="spacingAndGlyphs"  stroke="#3a3a3a" stroke-width="0.08">Hemoglobin (g/dl)</text>
<line x1="378.50" y1="327.01" x2="378.50" y2="337.06" stroke="#f0379b" stroke-width="0.55" opacity="0.8"/>
<line x1="377.30" y1="327.01" x2="379.70" y2="327.01" stroke="#f0379b" stroke-width="0.7" opacity="0.8"/>
<line x1="377.30" y1="337.06" x2="379.70" y2="337.06" stroke="#f0379b" stroke-width="0.7" opacity="0.8"/>
<line x1="400.20" y1="343.37" x2="400.20" y2="350.83" stroke="#f0379b" stroke-width="0.55" opacity="0.8"/>
<line x1="399.00" y1="343.37" x2="401.40" y2="343.37" stroke="#f0379b" stroke-width="0.7" opacity="0.8"/>
<line x1="399.00" y1="350.83" x2="401.40" y2="350.83" stroke="#f0379b" stroke-width="0.7" opacity="0.8"/>
<line x1="421.70" y1="336.48" x2="421.70" y2="345.38" stroke="#f0379b" stroke-width="0.55" opacity="0.8"/>
<line x1="420.50" y1="336.48" x2="422.90" y2="336.48" stroke="#f0379b" stroke-width="0.7" opacity="0.8"/>
<line x1="420.50" y1="345.38" x2="422.90" y2="345.38" stroke="#f0379b" stroke-width="0.7" opacity="0.8"/>
<line x1="443.20" y1="330.74" x2="443.20" y2="347.10" stroke="#f0379b" stroke-width="0.55" opacity="0.8"/>
<line x1="442.00" y1="330.74" x2="444.40" y2="330.74" stroke="#f0379b" stroke-width="0.7" opacity="0.8"/>
<line x1="442.00" y1="347.10" x2="444.40" y2="347.10" stroke="#f0379b" stroke-width="0.7" opacity="0.8"/>
<line x1="464.40" y1="333.32" x2="464.40" y2="348.53" stroke="#f0379b" stroke-width="0.55" opacity="0.8"/>
<line x1="463.20" y1="333.32" x2="465.60" y2="333.32" stroke="#f0379b" stroke-width="0.7" opacity="0.8"/>
<line x1="463.20" y1="348.53" x2="465.60" y2="348.53" stroke="#f0379b" stroke-width="0.7" opacity="0.8"/>
<line x1="378.50" y1="329.31" x2="378.50" y2="334.76" stroke="#f7961c" stroke-width="0.55" opacity="0.8"/>
<line x1="377.30" y1="329.31" x2="379.70" y2="329.31" stroke="#f7961c" stroke-width="0.7" opacity="0.8"/>
<line x1="377.30" y1="334.76" x2="379.70" y2="334.76" stroke="#f7961c" stroke-width="0.7" opacity="0.8"/>
<line x1="400.20" y1="344.23" x2="400.20" y2="349.40" stroke="#f7961c" stroke-width="0.55" opacity="0.8"/>
<line x1="399.00" y1="344.23" x2="401.40" y2="344.23" stroke="#f7961c" stroke-width="0.7" opacity="0.8"/>
<line x1="399.00" y1="349.40" x2="401.40" y2="349.40" stroke="#f7961c" stroke-width="0.7" opacity="0.8"/>
<line x1="421.70" y1="337.63" x2="421.70" y2="343.66" stroke="#f7961c" stroke-width="0.55" opacity="0.8"/>
<line x1="420.50" y1="337.63" x2="422.90" y2="337.63" stroke="#f7961c" stroke-width="0.7" opacity="0.8"/>
<line x1="420.50" y1="343.66" x2="422.90" y2="343.66" stroke="#f7961c" stroke-width="0.7" opacity="0.8"/>
<line x1="443.20" y1="334.76" x2="443.20" y2="341.93" stroke="#f7961c" stroke-width="0.55" opacity="0.8"/>
<line x1="442.00" y1="334.76" x2="444.40" y2="334.76" stroke="#f7961c" stroke-width="0.7" opacity="0.8"/>
<line x1="442.00" y1="341.93" x2="444.40" y2="341.93" stroke="#f7961c" stroke-width="0.7" opacity="0.8"/>
<line x1="464.40" y1="334.19" x2="464.40" y2="341.36" stroke="#f7961c" stroke-width="0.55" opacity="0.8"/>
<line x1="463.20" y1="334.19" x2="465.60" y2="334.19" stroke="#f7961c" stroke-width="0.7" opacity="0.8"/>
<line x1="463.20" y1="341.36" x2="465.60" y2="341.36" stroke="#f7961c" stroke-width="0.7" opacity="0.8"/>
<line x1="378.50" y1="328.44" x2="378.50" y2="335.62" stroke="#a21e18" stroke-width="0.55" opacity="0.8"/>
<line x1="377.30" y1="328.44" x2="379.70" y2="328.44" stroke="#a21e18" stroke-width="0.7" opacity="0.8"/>
<line x1="377.30" y1="335.62" x2="379.70" y2="335.62" stroke="#a21e18" stroke-width="0.7" opacity="0.8"/>
<line x1="400.20" y1="343.66" x2="400.20" y2="349.97" stroke="#a21e18" stroke-width="0.55" opacity="0.8"/>
<line x1="399.00" y1="343.66" x2="401.40" y2="343.66" stroke="#a21e18" stroke-width="0.7" opacity="0.8"/>
<line x1="399.00" y1="349.97" x2="401.40" y2="349.97" stroke="#a21e18" stroke-width="0.7" opacity="0.8"/>
<line x1="421.70" y1="337.06" x2="421.70" y2="344.23" stroke="#a21e18" stroke-width="0.55" opacity="0.8"/>
<line x1="420.50" y1="337.06" x2="422.90" y2="337.06" stroke="#a21e18" stroke-width="0.7" opacity="0.8"/>
<line x1="420.50" y1="344.23" x2="422.90" y2="344.23" stroke="#a21e18" stroke-width="0.7" opacity="0.8"/>
<line x1="443.20" y1="335.62" x2="443.20" y2="341.93" stroke="#a21e18" stroke-width="0.55" opacity="0.8"/>
<line x1="442.00" y1="335.62" x2="444.40" y2="335.62" stroke="#a21e18" stroke-width="0.7" opacity="0.8"/>
<line x1="442.00" y1="341.93" x2="444.40" y2="341.93" stroke="#a21e18" stroke-width="0.7" opacity="0.8"/>
<line x1="464.40" y1="334.76" x2="464.40" y2="341.93" stroke="#a21e18" stroke-width="0.55" opacity="0.8"/>
<line x1="463.20" y1="334.76" x2="465.60" y2="334.76" stroke="#a21e18" stroke-width="0.7" opacity="0.8"/>
<line x1="463.20" y1="341.93" x2="465.60" y2="341.93" stroke="#a21e18" stroke-width="0.7" opacity="0.8"/>
<path d="M378.50,331.89 L400.20,347.10 L421.70,340.79 L443.20,339.35 L464.40,340.79" stroke="#f0379b" stroke-width="1.15" fill="none" stroke-linejoin="round"/>
<rect x="377.50" y="330.89" width="2.00" height="2.00" fill="#f0379b"/>
<rect x="399.20" y="346.10" width="2.00" height="2.00" fill="#f0379b"/>
<rect x="420.70" y="339.79" width="2.00" height="2.00" fill="#f0379b"/>
<rect x="442.20" y="338.35" width="2.00" height="2.00" fill="#f0379b"/>
<rect x="463.40" y="339.79" width="2.00" height="2.00" fill="#f0379b"/>
<path d="M378.50,331.89 L400.20,346.53 L421.70,340.50 L443.20,337.92 L464.40,337.92" stroke="#f7961c" stroke-width="1.15" fill="none" stroke-linejoin="round"/>
<rect x="377.50" y="330.89" width="2.00" height="2.00" fill="#f7961c"/>
<rect x="399.20" y="345.53" width="2.00" height="2.00" fill="#f7961c"/>
<rect x="420.70" y="339.50" width="2.00" height="2.00" fill="#f7961c"/>
<rect x="442.20" y="336.92" width="2.00" height="2.00" fill="#f7961c"/>
<rect x="463.40" y="336.92" width="2.00" height="2.00" fill="#f7961c"/>
<path d="M378.50,331.89 L400.20,347.10 L421.70,340.50 L443.20,338.49 L464.40,338.20" stroke="#a21e18" stroke-width="1.15" fill="none" stroke-linejoin="round"/>
<rect x="377.50" y="330.89" width="2.00" height="2.00" fill="#a21e18"/>
<rect x="399.20" y="346.10" width="2.00" height="2.00" fill="#a21e18"/>
<rect x="420.70" y="339.50" width="2.00" height="2.00" fill="#a21e18"/>
<rect x="442.20" y="337.49" width="2.00" height="2.00" fill="#a21e18"/>
<rect x="463.40" y="337.20" width="2.00" height="2.00" fill="#a21e18"/>
<line x1="473.30" y1="337.90" x2="480.10" y2="337.90" stroke="#f0379b" stroke-width="1.1" />
<rect x="475.70" y="336.90" width="2.00" height="2.00" fill="#f0379b"/>
<text x="483.60" y="339.70" font-size="5.9" fill="#2a2a2a" textLength="29.00" lengthAdjust="spacingAndGlyphs"  stroke="#2a2a2a" stroke-width="0.06">cre+ control</text>
<line x1="473.30" y1="345.20" x2="480.10" y2="345.20" stroke="#f7961c" stroke-width="1.1" />
<rect x="475.70" y="344.20" width="2.00" height="2.00" fill="#f7961c"/>
<text x="483.60" y="347.00" font-size="5.9" fill="#2a2a2a" textLength="10.80" lengthAdjust="spacingAndGlyphs"  stroke="#2a2a2a" stroke-width="0.06">cHet</text>
<line x1="473.30" y1="352.50" x2="480.10" y2="352.50" stroke="#a21e18" stroke-width="1.1" />
<rect x="475.70" y="351.50" width="2.00" height="2.00" fill="#a21e18"/>
<text x="483.60" y="354.30" font-size="5.9" fill="#2a2a2a" textLength="10.40" lengthAdjust="spacingAndGlyphs"  stroke="#2a2a2a" stroke-width="0.06">cKO</text>
<text x="7.40" y="419.80" font-size="12.6" fill="#000" font-weight="bold" stroke="#000" stroke-width="0.35">K</text>
<line x1="42.40" y1="431.20" x2="42.40" y2="488.50" stroke="#1e1e1e" stroke-width="1.4" />
<line x1="39.80" y1="488.30" x2="42.40" y2="488.30" stroke="#1e1e1e" stroke-width="0.9" />
<text x="37.30" y="490.60" font-size="6.9" fill="#333" text-anchor="end"  stroke="#333" stroke-width="0.1">0</text>
<line x1="39.80" y1="464.50" x2="42.40" y2="464.50" stroke="#1e1e1e" stroke-width="0.9" />
<text x="37.30" y="466.80" font-size="6.9" fill="#333" text-anchor="end"  stroke="#333" stroke-width="0.1">50</text>
<line x1="39.80" y1="440.70" x2="42.40" y2="440.70" stroke="#1e1e1e" stroke-width="0.9" />
<text x="37.30" y="443.00" font-size="6.9" fill="#333" text-anchor="end"  stroke="#333" stroke-width="0.1">100</text>
<line x1="41.80" y1="488.30" x2="130.70" y2="488.30" stroke="#1e1e1e" stroke-width="1.4" />
<line x1="48.90" y1="488.30" x2="48.90" y2="491.10" stroke="#1e1e1e" stroke-width="1.0" />
<text x="48.90" y="500.00" font-size="6.9" fill="#333" text-anchor="middle"  stroke="#333" stroke-width="0.2">4</text>
<line x1="75.00" y1="488.30" x2="75.00" y2="491.10" stroke="#1e1e1e" stroke-width="1.0" />
<text x="75.00" y="500.00" font-size="6.9" fill="#333" text-anchor="middle"  stroke="#333" stroke-width="0.2">8</text>
<line x1="101.40" y1="488.30" x2="101.40" y2="491.10" stroke="#1e1e1e" stroke-width="1.0" />
<text x="101.40" y="500.00" font-size="6.9" fill="#333" text-anchor="middle"  stroke="#333" stroke-width="0.2">12</text>
<line x1="128.00" y1="488.30" x2="128.00" y2="491.10" stroke="#1e1e1e" stroke-width="1.0" />
<text x="128.00" y="500.00" font-size="6.9" fill="#333" text-anchor="middle"  stroke="#333" stroke-width="0.2">16</text>
<text x="86.70" y="511.40" font-size="8.8" fill="#222" text-anchor="middle" textLength="65.40" lengthAdjust="spacingAndGlyphs"  stroke="#222" stroke-width="0.2">Weeks post transplant</text>
<text x="86.85" y="426.00" font-size="8.6" fill="#222" text-anchor="middle" textLength="23.70" lengthAdjust="spacingAndGlyphs"  stroke="#222" stroke-width="0.2">T cells</text>
<text transform="translate(20.70,459.50) rotate(-90)" x="0" y="0" font-size="9.6" fill="#3a3a3a" text-anchor="middle" textLength="57.30" lengthAdjust="spacingAndGlyphs"  stroke="#3a3a3a" stroke-width="0.08">% donor chimerism</text>
<line x1="48.90" y1="479.73" x2="48.90" y2="488.30" stroke="#f7961c" stroke-width="0.55" opacity="0.8"/>
<line x1="47.70" y1="479.73" x2="50.10" y2="479.73" stroke="#f7961c" stroke-width="0.7" opacity="0.8"/>
<line x1="47.70" y1="488.30" x2="50.10" y2="488.30" stroke="#f7961c" stroke-width="0.7" opacity="0.8"/>
<line x1="75.00" y1="454.03" x2="75.00" y2="466.88" stroke="#f7961c" stroke-width="0.55" opacity="0.8"/>
<line x1="73.80" y1="454.03" x2="76.20" y2="454.03" stroke="#f7961c" stroke-width="0.7" opacity="0.8"/>
<line x1="73.80" y1="466.88" x2="76.20" y2="466.88" stroke="#f7961c" stroke-width="0.7" opacity="0.8"/>
<line x1="101.40" y1="446.41" x2="101.40" y2="463.55" stroke="#f7961c" stroke-width="0.55" opacity="0.8"/>
<line x1="100.20" y1="446.41" x2="102.60" y2="446.41" stroke="#f7961c" stroke-width="0.7" opacity="0.8"/>
<line x1="100.20" y1="463.55" x2="102.60" y2="463.55" stroke="#f7961c" stroke-width="0.7" opacity="0.8"/>
<line x1="128.00" y1="445.46" x2="128.00" y2="461.17" stroke="#f7961c" stroke-width="0.55" opacity="0.8"/>
<line x1="126.80" y1="445.46" x2="129.20" y2="445.46" stroke="#f7961c" stroke-width="0.7" opacity="0.8"/>
<line x1="126.80" y1="461.17" x2="129.20" y2="461.17" stroke="#f7961c" stroke-width="0.7" opacity="0.8"/>
<line x1="48.90" y1="478.78" x2="48.90" y2="487.35" stroke="#f0379b" stroke-width="0.55" opacity="0.8"/>
<line x1="47.70" y1="478.78" x2="50.10" y2="478.78" stroke="#f0379b" stroke-width="0.7" opacity="0.8"/>
<line x1="47.70" y1="487.35" x2="50.10" y2="487.35" stroke="#f0379b" stroke-width="0.7" opacity="0.8"/>
<line x1="75.00" y1="453.08" x2="75.00" y2="467.83" stroke="#f0379b" stroke-width="0.55" opacity="0.8"/>
<line x1="73.80" y1="453.08" x2="76.20" y2="453.08" stroke="#f0379b" stroke-width="0.7" opacity="0.8"/>
<line x1="73.80" y1="467.83" x2="76.20" y2="467.83" stroke="#f0379b" stroke-width="0.7" opacity="0.8"/>
<line x1="101.40" y1="446.41" x2="101.40" y2="462.12" stroke="#f0379b" stroke-width="0.55" opacity="0.8"/>
<line x1="100.20" y1="446.41" x2="102.60" y2="446.41" stroke="#f0379b" stroke-width="0.7" opacity="0.8"/>
<line x1="100.20" y1="462.12" x2="102.60" y2="462.12" stroke="#f0379b" stroke-width="0.7" opacity="0.8"/>
<line x1="128.00" y1="444.51" x2="128.00" y2="459.74" stroke="#f0379b" stroke-width="0.55" opacity="0.8"/>
<line x1="126.80" y1="444.51" x2="129.20" y2="444.51" stroke="#f0379b" stroke-width="0.7" opacity="0.8"/>
<line x1="126.80" y1="459.74" x2="129.20" y2="459.74" stroke="#f0379b" stroke-width="0.7" opacity="0.8"/>
<line x1="48.90" y1="477.35" x2="48.90" y2="485.92" stroke="#a21e18" stroke-width="0.55" opacity="0.8"/>
<line x1="47.70" y1="477.35" x2="50.10" y2="477.35" stroke="#a21e18" stroke-width="0.7" opacity="0.8"/>
<line x1="47.70" y1="485.92" x2="50.10" y2="485.92" stroke="#a21e18" stroke-width="0.7" opacity="0.8"/>
<line x1="75.00" y1="452.12" x2="75.00" y2="468.31" stroke="#a21e18" stroke-width="0.55" opacity="0.8"/>
<line x1="73.80" y1="452.12" x2="76.20" y2="452.12" stroke="#a21e18" stroke-width="0.7" opacity="0.8"/>
<line x1="73.80" y1="468.31" x2="76.20" y2="468.31" stroke="#a21e18" stroke-width="0.7" opacity="0.8"/>
<line x1="101.40" y1="445.94" x2="101.40" y2="464.50" stroke="#a21e18" stroke-width="0.55" opacity="0.8"/>
<line x1="100.20" y1="445.94" x2="102.60" y2="445.94" stroke="#a21e18" stroke-width="0.7" opacity="0.8"/>
<line x1="100.20" y1="464.50" x2="102.60" y2="464.50" stroke="#a21e18" stroke-width="0.7" opacity="0.8"/>
<line x1="128.00" y1="443.56" x2="128.00" y2="462.12" stroke="#a21e18" stroke-width="0.55" opacity="0.8"/>
<line x1="126.80" y1="443.56" x2="129.20" y2="443.56" stroke="#a21e18" stroke-width="0.7" opacity="0.8"/>
<line x1="126.80" y1="462.12" x2="129.20" y2="462.12" stroke="#a21e18" stroke-width="0.7" opacity="0.8"/>
<path d="M48.90,485.44 L75.00,460.69 L101.40,454.50 L128.00,453.08" stroke="#f7961c" stroke-width="1.15" fill="none" stroke-linejoin="round"/>
<rect x="47.90" y="484.44" width="2.00" height="2.00" fill="#f7961c"/>
<rect x="74.00" y="459.69" width="2.00" height="2.00" fill="#f7961c"/>
<rect x="100.40" y="453.50" width="2.00" height="2.00" fill="#f7961c"/>
<rect x="127.00" y="452.08" width="2.00" height="2.00" fill="#f7961c"/>
<path d="M48.90,483.06 L75.00,460.69 L101.40,454.03 L128.00,452.12" stroke="#f0379b" stroke-width="1.15" fill="none" stroke-linejoin="round"/>
<rect x="47.90" y="482.06" width="2.00" height="2.00" fill="#f0379b"/>
<rect x="74.00" y="459.69" width="2.00" height="2.00" fill="#f0379b"/>
<rect x="100.40" y="453.03" width="2.00" height="2.00" fill="#f0379b"/>
<rect x="127.00" y="451.12" width="2.00" height="2.00" fill="#f0379b"/>
<path d="M48.90,481.64 L75.00,460.69 L101.40,454.98 L128.00,453.55" stroke="#a21e18" stroke-width="1.15" fill="none" stroke-linejoin="round"/>
<rect x="47.90" y="480.64" width="2.00" height="2.00" fill="#a21e18"/>
<rect x="74.00" y="459.69" width="2.00" height="2.00" fill="#a21e18"/>
<rect x="100.40" y="453.98" width="2.00" height="2.00" fill="#a21e18"/>
<rect x="127.00" y="452.55" width="2.00" height="2.00" fill="#a21e18"/>
<line x1="133.80" y1="452.50" x2="141.50" y2="452.50" stroke="#f0379b" stroke-width="1.1" />
<rect x="136.65" y="451.50" width="2.00" height="2.00" fill="#f0379b"/>
<text x="145.00" y="454.30" font-size="5.9" fill="#2a2a2a" textLength="29.00" lengthAdjust="spacingAndGlyphs"  stroke="#2a2a2a" stroke-width="0.06">cre+ control</text>
<line x1="133.80" y1="460.00" x2="141.50" y2="460.00" stroke="#f7961c" stroke-width="1.1" />
<rect x="136.65" y="459.00" width="2.00" height="2.00" fill="#f7961c"/>
<text x="145.00" y="461.80" font-size="5.9" fill="#2a2a2a" textLength="10.80" lengthAdjust="spacingAndGlyphs"  stroke="#2a2a2a" stroke-width="0.06">cHet</text>
<line x1="133.80" y1="467.30" x2="141.50" y2="467.30" stroke="#a21e18" stroke-width="1.1" />
<rect x="136.65" y="466.30" width="2.00" height="2.00" fill="#a21e18"/>
<text x="145.00" y="469.10" font-size="5.9" fill="#2a2a2a" textLength="10.40" lengthAdjust="spacingAndGlyphs"  stroke="#2a2a2a" stroke-width="0.06">cKO</text>
<text x="183.80" y="419.80" font-size="12.6" fill="#000" font-weight="bold" stroke="#000" stroke-width="0.35">L</text>
<line x1="211.50" y1="431.20" x2="211.50" y2="488.50" stroke="#1e1e1e" stroke-width="1.4" />
<line x1="208.90" y1="488.30" x2="211.50" y2="488.30" stroke="#1e1e1e" stroke-width="0.9" />
<text x="206.40" y="490.60" font-size="6.9" fill="#333" text-anchor="end"  stroke="#333" stroke-width="0.1">0</text>
<line x1="208.90" y1="464.50" x2="211.50" y2="464.50" stroke="#1e1e1e" stroke-width="0.9" />
<text x="206.40" y="466.80" font-size="6.9" fill="#333" text-anchor="end"  stroke="#333" stroke-width="0.1">50</text>
<line x1="208.90" y1="440.70" x2="211.50" y2="440.70" stroke="#1e1e1e" stroke-width="0.9" />
<text x="206.40" y="443.00" font-size="6.9" fill="#333" text-anchor="end"  stroke="#333" stroke-width="0.1">100</text>
<line x1="210.90" y1="488.30" x2="299.80" y2="488.30" stroke="#1e1e1e" stroke-width="1.4" />
<line x1="217.10" y1="488.30" x2="217.10" y2="491.10" stroke="#1e1e1e" stroke-width="1.0" />
<text x="217.10" y="500.00" font-size="6.9" fill="#333" text-anchor="middle"  stroke="#333" stroke-width="0.2">4</text>
<line x1="244.00" y1="488.30" x2="244.00" y2="491.10" stroke="#1e1e1e" stroke-width="1.0" />
<text x="244.00" y="500.00" font-size="6.9" fill="#333" text-anchor="middle"  stroke="#333" stroke-width="0.2">8</text>
<line x1="270.20" y1="488.30" x2="270.20" y2="491.10" stroke="#1e1e1e" stroke-width="1.0" />
<text x="270.20" y="500.00" font-size="6.9" fill="#333" text-anchor="middle"  stroke="#333" stroke-width="0.2">12</text>
<line x1="296.50" y1="488.30" x2="296.50" y2="491.10" stroke="#1e1e1e" stroke-width="1.0" />
<text x="296.50" y="500.00" font-size="6.9" fill="#333" text-anchor="middle"  stroke="#333" stroke-width="0.2">16</text>
<text x="255.60" y="511.40" font-size="8.8" fill="#222" text-anchor="middle" textLength="65.40" lengthAdjust="spacingAndGlyphs"  stroke="#222" stroke-width="0.2">Weeks post transplant</text>
<text x="255.45" y="426.00" font-size="8.6" fill="#222" text-anchor="middle" textLength="24.50" lengthAdjust="spacingAndGlyphs"  stroke="#222" stroke-width="0.2">B cells</text>
<text transform="translate(189.20,459.50) rotate(-90)" x="0" y="0" font-size="9.6" fill="#3a3a3a" text-anchor="middle" textLength="57.30" lengthAdjust="spacingAndGlyphs"  stroke="#3a3a3a" stroke-width="0.08">% donor chimerism</text>
<line x1="217.10" y1="438.32" x2="217.10" y2="457.36" stroke="#f7961c" stroke-width="0.55" opacity="0.8"/>
<line x1="215.90" y1="438.32" x2="218.30" y2="438.32" stroke="#f7961c" stroke-width="0.7" opacity="0.8"/>
<line x1="215.90" y1="457.36" x2="218.30" y2="457.36" stroke="#f7961c" stroke-width="0.7" opacity="0.8"/>
<line x1="244.00" y1="436.89" x2="244.00" y2="458.79" stroke="#f7961c" stroke-width="0.55" opacity="0.8"/>
<line x1="242.80" y1="436.89" x2="245.20" y2="436.89" stroke="#f7961c" stroke-width="0.7" opacity="0.8"/>
<line x1="242.80" y1="458.79" x2="245.20" y2="458.79" stroke="#f7961c" stroke-width="0.7" opacity="0.8"/>
<line x1="270.20" y1="441.65" x2="270.20" y2="459.74" stroke="#f7961c" stroke-width="0.55" opacity="0.8"/>
<line x1="269.00" y1="441.65" x2="271.40" y2="441.65" stroke="#f7961c" stroke-width="0.7" opacity="0.8"/>
<line x1="269.00" y1="459.74" x2="271.40" y2="459.74" stroke="#f7961c" stroke-width="0.7" opacity="0.8"/>
<line x1="296.50" y1="445.46" x2="296.50" y2="462.12" stroke="#f7961c" stroke-width="0.55" opacity="0.8"/>
<line x1="295.30" y1="445.46" x2="297.70" y2="445.46" stroke="#f7961c" stroke-width="0.7" opacity="0.8"/>
<line x1="295.30" y1="462.12" x2="297.70" y2="462.12" stroke="#f7961c" stroke-width="0.7" opacity="0.8"/>
<line x1="217.10" y1="437.37" x2="217.10" y2="458.79" stroke="#f0379b" stroke-width="0.55" opacity="0.8"/>
<line x1="215.90" y1="437.37" x2="218.30" y2="437.37" stroke="#f0379b" stroke-width="0.7" opacity="0.8"/>
<line x1="215.90" y1="458.79" x2="218.30" y2="458.79" stroke="#f0379b" stroke-width="0.7" opacity="0.8"/>
<line x1="244.00" y1="435.94" x2="244.00" y2="459.74" stroke="#f0379b" stroke-width="0.55" opacity="0.8"/>
<line x1="242.80" y1="435.94" x2="245.20" y2="435.94" stroke="#f0379b" stroke-width="0.7" opacity="0.8"/>
<line x1="242.80" y1="459.74" x2="245.20" y2="459.74" stroke="#f0379b" stroke-width="0.7" opacity="0.8"/>
<line x1="270.20" y1="440.70" x2="270.20" y2="460.69" stroke="#f0379b" stroke-width="0.55" opacity="0.8"/>
<line x1="269.00" y1="440.70" x2="271.40" y2="440.70" stroke="#f0379b" stroke-width="0.7" opacity="0.8"/>
<line x1="269.00" y1="460.69" x2="271.40" y2="460.69" stroke="#f0379b" stroke-width="0.7" opacity="0.8"/>
<line x1="296.50" y1="444.51" x2="296.50" y2="462.60" stroke="#f0379b" stroke-width="0.55" opacity="0.8"/>
<line x1="295.30" y1="444.51" x2="297.70" y2="444.51" stroke="#f0379b" stroke-width="0.7" opacity="0.8"/>
<line x1="295.30" y1="462.60" x2="297.70" y2="462.60" stroke="#f0379b" stroke-width="0.7" opacity="0.8"/>
<line x1="217.10" y1="436.89" x2="217.10" y2="459.26" stroke="#a21e18" stroke-width="0.55" opacity="0.8"/>
<line x1="215.90" y1="436.89" x2="218.30" y2="436.89" stroke="#a21e18" stroke-width="0.7" opacity="0.8"/>
<line x1="215.90" y1="459.26" x2="218.30" y2="459.26" stroke="#a21e18" stroke-width="0.7" opacity="0.8"/>
<line x1="244.00" y1="435.94" x2="244.00" y2="460.22" stroke="#a21e18" stroke-width="0.55" opacity="0.8"/>
<line x1="242.80" y1="435.94" x2="245.20" y2="435.94" stroke="#a21e18" stroke-width="0.7" opacity="0.8"/>
<line x1="242.80" y1="460.22" x2="245.20" y2="460.22" stroke="#a21e18" stroke-width="0.7" opacity="0.8"/>
<line x1="270.20" y1="440.70" x2="270.20" y2="461.64" stroke="#a21e18" stroke-width="0.55" opacity="0.8"/>
<line x1="269.00" y1="440.70" x2="271.40" y2="440.70" stroke="#a21e18" stroke-width="0.7" opacity="0.8"/>
<line x1="269.00" y1="461.64" x2="271.40" y2="461.64" stroke="#a21e18" stroke-width="0.7" opacity="0.8"/>
<line x1="296.50" y1="444.51" x2="296.50" y2="463.55" stroke="#a21e18" stroke-width="0.55" opacity="0.8"/>
<line x1="295.30" y1="444.51" x2="297.70" y2="444.51" stroke="#a21e18" stroke-width="0.7" opacity="0.8"/>
<line x1="295.30" y1="463.55" x2="297.70" y2="463.55" stroke="#a21e18" stroke-width="0.7" opacity="0.8"/>
<path d="M217.10,446.89 L244.00,446.89 L270.20,450.22 L296.50,453.55" stroke="#f7961c" stroke-width="1.15" fill="none" stroke-linejoin="round"/>
<rect x="216.10" y="445.89" width="2.00" height="2.00" fill="#f7961c"/>
<rect x="243.00" y="445.89" width="2.00" height="2.00" fill="#f7961c"/>
<rect x="269.20" y="449.22" width="2.00" height="2.00" fill="#f7961c"/>
<rect x="295.50" y="452.55" width="2.00" height="2.00" fill="#f7961c"/>
<path d="M217.10,445.94 L244.00,444.98 L270.20,449.27 L296.50,452.12" stroke="#f0379b" stroke-width="1.15" fill="none" stroke-linejoin="round"/>
<rect x="216.10" y="444.94" width="2.00" height="2.00" fill="#f0379b"/>
<rect x="243.00" y="443.98" width="2.00" height="2.00" fill="#f0379b"/>
<rect x="269.20" y="448.27" width="2.00" height="2.00" fill="#f0379b"/>
<rect x="295.50" y="451.12" width="2.00" height="2.00" fill="#f0379b"/>
<path d="M217.10,447.84 L244.00,447.84 L270.20,451.17 L296.50,454.03" stroke="#a21e18" stroke-width="1.15" fill="none" stroke-linejoin="round"/>
<rect x="216.10" y="446.84" width="2.00" height="2.00" fill="#a21e18"/>
<rect x="243.00" y="446.84" width="2.00" height="2.00" fill="#a21e18"/>
<rect x="269.20" y="450.17" width="2.00" height="2.00" fill="#a21e18"/>
<rect x="295.50" y="453.03" width="2.00" height="2.00" fill="#a21e18"/>
<line x1="302.90" y1="452.50" x2="310.60" y2="452.50" stroke="#f0379b" stroke-width="1.1" />
<rect x="305.75" y="451.50" width="2.00" height="2.00" fill="#f0379b"/>
<text x="313.20" y="454.30" font-size="5.9" fill="#2a2a2a" textLength="29.00" lengthAdjust="spacingAndGlyphs"  stroke="#2a2a2a" stroke-width="0.06">cre+ control</text>
<line x1="302.90" y1="460.00" x2="310.60" y2="460.00" stroke="#f7961c" stroke-width="1.1" />
<rect x="305.75" y="459.00" width="2.00" height="2.00" fill="#f7961c"/>
<text x="313.20" y="461.80" font-size="5.9" fill="#2a2a2a" textLength="10.80" lengthAdjust="spacingAndGlyphs"  stroke="#2a2a2a" stroke-width="0.06">cHet</text>
<line x1="302.90" y1="467.30" x2="310.60" y2="467.30" stroke="#a21e18" stroke-width="1.1" />
<rect x="305.75" y="466.30" width="2.00" height="2.00" fill="#a21e18"/>
<text x="313.20" y="469.10" font-size="5.9" fill="#2a2a2a" textLength="10.40" lengthAdjust="spacingAndGlyphs"  stroke="#2a2a2a" stroke-width="0.06">cKO</text>
<text x="7.40" y="532.20" font-size="12.6" fill="#000" font-weight="bold" stroke="#000" stroke-width="0.35">M</text>
<line x1="42.80" y1="545.20" x2="42.80" y2="602.40" stroke="#1e1e1e" stroke-width="1.4" />
<line x1="40.20" y1="601.80" x2="42.80" y2="601.80" stroke="#1e1e1e" stroke-width="0.9" />
<text x="37.70" y="604.10" font-size="6.9" fill="#333" text-anchor="end"  stroke="#333" stroke-width="0.1">0</text>
<line x1="40.20" y1="578.10" x2="42.80" y2="578.10" stroke="#1e1e1e" stroke-width="0.9" />
<text x="37.70" y="580.40" font-size="6.9" fill="#333" text-anchor="end"  stroke="#333" stroke-width="0.1">50</text>
<line x1="40.20" y1="554.40" x2="42.80" y2="554.40" stroke="#1e1e1e" stroke-width="0.9" />
<text x="37.70" y="556.70" font-size="6.9" fill="#333" text-anchor="end"  stroke="#333" stroke-width="0.1">100</text>
<line x1="42.20" y1="602.20" x2="130.70" y2="602.20" stroke="#1e1e1e" stroke-width="1.4" />
<line x1="48.90" y1="602.20" x2="48.90" y2="605.00" stroke="#1e1e1e" stroke-width="1.0" />
<text x="48.90" y="614.00" font-size="6.9" fill="#333" text-anchor="middle"  stroke="#333" stroke-width="0.2">4</text>
<line x1="75.00" y1="602.20" x2="75.00" y2="605.00" stroke="#1e1e1e" stroke-width="1.0" />
<text x="75.00" y="614.00" font-size="6.9" fill="#333" text-anchor="middle"  stroke="#333" stroke-width="0.2">8</text>
<line x1="101.40" y1="602.20" x2="101.40" y2="605.00" stroke="#1e1e1e" stroke-width="1.0" />
<text x="101.40" y="614.00" font-size="6.9" fill="#333" text-anchor="middle"  stroke="#333" stroke-width="0.2">12</text>
<line x1="128.00" y1="602.20" x2="128.00" y2="605.00" stroke="#1e1e1e" stroke-width="1.0" />
<text x="128.00" y="614.00" font-size="6.9" fill="#333" text-anchor="middle"  stroke="#333" stroke-width="0.2">16</text>
<text x="86.70" y="625.30" font-size="8.8" fill="#222" text-anchor="middle" textLength="65.40" lengthAdjust="spacingAndGlyphs"  stroke="#222" stroke-width="0.2">Weeks post transplant</text>
<text x="86.85" y="540.20" font-size="8.6" fill="#222" text-anchor="middle" textLength="42.50" lengthAdjust="spacingAndGlyphs"  stroke="#222" stroke-width="0.2">Monocytes</text>
<text transform="translate(21.00,573.50) rotate(-90)" x="0" y="0" font-size="9.6" fill="#3a3a3a" text-anchor="middle" textLength="57.30" lengthAdjust="spacingAndGlyphs"  stroke="#3a3a3a" stroke-width="0.08">% donor chimerism</text>
<line x1="48.90" y1="550.61" x2="48.90" y2="572.41" stroke="#f7961c" stroke-width="0.55" opacity="0.8"/>
<line x1="47.70" y1="550.61" x2="50.10" y2="550.61" stroke="#f7961c" stroke-width="0.7" opacity="0.8"/>
<line x1="47.70" y1="572.41" x2="50.10" y2="572.41" stroke="#f7961c" stroke-width="0.7" opacity="0.8"/>
<line x1="75.00" y1="552.50" x2="75.00" y2="575.73" stroke="#f7961c" stroke-width="0.55" opacity="0.8"/>
<line x1="73.80" y1="552.50" x2="76.20" y2="552.50" stroke="#f7961c" stroke-width="0.7" opacity="0.8"/>
<line x1="73.80" y1="575.73" x2="76.20" y2="575.73" stroke="#f7961c" stroke-width="0.7" opacity="0.8"/>
<line x1="101.40" y1="553.45" x2="101.40" y2="576.68" stroke="#f7961c" stroke-width="0.55" opacity="0.8"/>
<line x1="100.20" y1="553.45" x2="102.60" y2="553.45" stroke="#f7961c" stroke-width="0.7" opacity="0.8"/>
<line x1="100.20" y1="576.68" x2="102.60" y2="576.68" stroke="#f7961c" stroke-width="0.7" opacity="0.8"/>
<line x1="128.00" y1="553.45" x2="128.00" y2="578.10" stroke="#f7961c" stroke-width="0.55" opacity="0.8"/>
<line x1="126.80" y1="553.45" x2="129.20" y2="553.45" stroke="#f7961c" stroke-width="0.7" opacity="0.8"/>
<line x1="126.80" y1="578.10" x2="129.20" y2="578.10" stroke="#f7961c" stroke-width="0.7" opacity="0.8"/>
<line x1="48.90" y1="549.66" x2="48.90" y2="574.31" stroke="#f0379b" stroke-width="0.55" opacity="0.8"/>
<line x1="47.70" y1="549.66" x2="50.10" y2="549.66" stroke="#f0379b" stroke-width="0.7" opacity="0.8"/>
<line x1="47.70" y1="574.31" x2="50.10" y2="574.31" stroke="#f0379b" stroke-width="0.7" opacity="0.8"/>
<line x1="75.00" y1="551.56" x2="75.00" y2="578.10" stroke="#f0379b" stroke-width="0.55" opacity="0.8"/>
<line x1="73.80" y1="551.56" x2="76.20" y2="551.56" stroke="#f0379b" stroke-width="0.7" opacity="0.8"/>
<line x1="73.80" y1="578.10" x2="76.20" y2="578.10" stroke="#f0379b" stroke-width="0.7" opacity="0.8"/>
<line x1="101.40" y1="552.50" x2="101.40" y2="577.15" stroke="#f0379b" stroke-width="0.55" opacity="0.8"/>
<line x1="100.20" y1="552.50" x2="102.60" y2="552.50" stroke="#f0379b" stroke-width="0.7" opacity="0.8"/>
<line x1="100.20" y1="577.15" x2="102.60" y2="577.15" stroke="#f0379b" stroke-width="0.7" opacity="0.8"/>
<line x1="128.00" y1="552.50" x2="128.00" y2="578.10" stroke="#f0379b" stroke-width="0.55" opacity="0.8"/>
<line x1="126.80" y1="552.50" x2="129.20" y2="552.50" stroke="#f0379b" stroke-width="0.7" opacity="0.8"/>
<line x1="126.80" y1="578.10" x2="129.20" y2="578.10" stroke="#f0379b" stroke-width="0.7" opacity="0.8"/>
<line x1="48.90" y1="549.66" x2="48.90" y2="574.78" stroke="#a21e18" stroke-width="0.55" opacity="0.8"/>
<line x1="47.70" y1="549.66" x2="50.10" y2="549.66" stroke="#a21e18" stroke-width="0.7" opacity="0.8"/>
<line x1="47.70" y1="574.78" x2="50.10" y2="574.78" stroke="#a21e18" stroke-width="0.7" opacity="0.8"/>
<line x1="75.00" y1="551.56" x2="75.00" y2="579.52" stroke="#a21e18" stroke-width="0.55" opacity="0.8"/>
<line x1="73.80" y1="551.56" x2="76.20" y2="551.56" stroke="#a21e18" stroke-width="0.7" opacity="0.8"/>
<line x1="73.80" y1="579.52" x2="76.20" y2="579.52" stroke="#a21e18" stroke-width="0.7" opacity="0.8"/>
<line x1="101.40" y1="552.50" x2="101.40" y2="577.15" stroke="#a21e18" stroke-width="0.55" opacity="0.8"/>
<line x1="100.20" y1="552.50" x2="102.60" y2="552.50" stroke="#a21e18" stroke-width="0.7" opacity="0.8"/>
<line x1="100.20" y1="577.15" x2="102.60" y2="577.15" stroke="#a21e18" stroke-width="0.7" opacity="0.8"/>
<line x1="128.00" y1="552.50" x2="128.00" y2="578.57" stroke="#a21e18" stroke-width="0.55" opacity="0.8"/>
<line x1="126.80" y1="552.50" x2="129.20" y2="552.50" stroke="#a21e18" stroke-width="0.7" opacity="0.8"/>
<line x1="126.80" y1="578.57" x2="129.20" y2="578.57" stroke="#a21e18" stroke-width="0.7" opacity="0.8"/>
<path d="M48.90,561.04 L75.00,563.88 L101.40,565.30 L128.00,566.72" stroke="#f7961c" stroke-width="1.15" fill="none" stroke-linejoin="round"/>
<rect x="47.90" y="560.04" width="2.00" height="2.00" fill="#f7961c"/>
<rect x="74.00" y="562.88" width="2.00" height="2.00" fill="#f7961c"/>
<rect x="100.40" y="564.30" width="2.00" height="2.00" fill="#f7961c"/>
<rect x="127.00" y="565.72" width="2.00" height="2.00" fill="#f7961c"/>
<path d="M48.90,561.04 L75.00,561.98 L101.40,564.83 L128.00,565.78" stroke="#f0379b" stroke-width="1.15" fill="none" stroke-linejoin="round"/>
<rect x="47.90" y="560.04" width="2.00" height="2.00" fill="#f0379b"/>
<rect x="74.00" y="560.98" width="2.00" height="2.00" fill="#f0379b"/>
<rect x="100.40" y="563.83" width="2.00" height="2.00" fill="#f0379b"/>
<rect x="127.00" y="564.78" width="2.00" height="2.00" fill="#f0379b"/>
<path d="M48.90,562.46 L75.00,565.78 L101.40,564.83 L128.00,565.78" stroke="#a21e18" stroke-width="1.15" fill="none" stroke-linejoin="round"/>
<rect x="47.90" y="561.46" width="2.00" height="2.00" fill="#a21e18"/>
<rect x="74.00" y="564.78" width="2.00" height="2.00" fill="#a21e18"/>
<rect x="100.40" y="563.83" width="2.00" height="2.00" fill="#a21e18"/>
<rect x="127.00" y="564.78" width="2.00" height="2.00" fill="#a21e18"/>
<line x1="133.80" y1="566.40" x2="141.50" y2="566.40" stroke="#f0379b" stroke-width="1.1" />
<rect x="136.65" y="565.40" width="2.00" height="2.00" fill="#f0379b"/>
<text x="145.00" y="568.20" font-size="5.9" fill="#2a2a2a" textLength="29.00" lengthAdjust="spacingAndGlyphs"  stroke="#2a2a2a" stroke-width="0.06">cre+ control</text>
<line x1="133.80" y1="573.70" x2="141.50" y2="573.70" stroke="#f7961c" stroke-width="1.1" />
<rect x="136.65" y="572.70" width="2.00" height="2.00" fill="#f7961c"/>
<text x="145.00" y="575.50" font-size="5.9" fill="#2a2a2a" textLength="10.80" lengthAdjust="spacingAndGlyphs"  stroke="#2a2a2a" stroke-width="0.06">cHet</text>
<line x1="133.80" y1="580.90" x2="141.50" y2="580.90" stroke="#a21e18" stroke-width="1.1" />
<rect x="136.65" y="579.90" width="2.00" height="2.00" fill="#a21e18"/>
<text x="145.00" y="582.70" font-size="5.9" fill="#2a2a2a" textLength="10.40" lengthAdjust="spacingAndGlyphs"  stroke="#2a2a2a" stroke-width="0.06">cKO</text>
<text x="182.30" y="533.90" font-size="12.6" fill="#000" font-weight="bold" stroke="#000" stroke-width="0.35">N</text>
<line x1="211.20" y1="545.20" x2="211.20" y2="602.40" stroke="#1e1e1e" stroke-width="1.4" />
<line x1="208.60" y1="601.80" x2="211.20" y2="601.80" stroke="#1e1e1e" stroke-width="0.9" />
<text x="206.10" y="604.10" font-size="6.9" fill="#333" text-anchor="end"  stroke="#333" stroke-width="0.1">0</text>
<line x1="208.60" y1="578.10" x2="211.20" y2="578.10" stroke="#1e1e1e" stroke-width="0.9" />
<text x="206.10" y="580.40" font-size="6.9" fill="#333" text-anchor="end"  stroke="#333" stroke-width="0.1">50</text>
<line x1="208.60" y1="554.40" x2="211.20" y2="554.40" stroke="#1e1e1e" stroke-width="0.9" />
<text x="206.10" y="556.70" font-size="6.9" fill="#333" text-anchor="end"  stroke="#333" stroke-width="0.1">100</text>
<line x1="210.60" y1="602.20" x2="299.80" y2="602.20" stroke="#1e1e1e" stroke-width="1.4" />
<line x1="217.10" y1="602.20" x2="217.10" y2="605.00" stroke="#1e1e1e" stroke-width="1.0" />
<text x="217.10" y="614.00" font-size="6.9" fill="#333" text-anchor="middle"  stroke="#333" stroke-width="0.2">4</text>
<line x1="244.00" y1="602.20" x2="244.00" y2="605.00" stroke="#1e1e1e" stroke-width="1.0" />
<text x="244.00" y="614.00" font-size="6.9" fill="#333" text-anchor="middle"  stroke="#333" stroke-width="0.2">8</text>
<line x1="270.20" y1="602.20" x2="270.20" y2="605.00" stroke="#1e1e1e" stroke-width="1.0" />
<text x="270.20" y="614.00" font-size="6.9" fill="#333" text-anchor="middle"  stroke="#333" stroke-width="0.2">12</text>
<line x1="296.50" y1="602.20" x2="296.50" y2="605.00" stroke="#1e1e1e" stroke-width="1.0" />
<text x="296.50" y="614.00" font-size="6.9" fill="#333" text-anchor="middle"  stroke="#333" stroke-width="0.2">16</text>
<text x="255.50" y="625.30" font-size="8.8" fill="#222" text-anchor="middle" textLength="66.00" lengthAdjust="spacingAndGlyphs"  stroke="#222" stroke-width="0.2">Weeks post transplant</text>
<text x="255.90" y="540.20" font-size="8.6" fill="#222" text-anchor="middle" textLength="43.60" lengthAdjust="spacingAndGlyphs"  stroke="#222" stroke-width="0.2">Neutrophils</text>
<text transform="translate(189.70,573.50) rotate(-90)" x="0" y="0" font-size="9.6" fill="#3a3a3a" text-anchor="middle" textLength="57.30" lengthAdjust="spacingAndGlyphs"  stroke="#3a3a3a" stroke-width="0.08">% donor chimerism</text>
<line x1="217.10" y1="549.66" x2="217.10" y2="572.41" stroke="#f7961c" stroke-width="0.55" opacity="0.8"/>
<line x1="215.90" y1="549.66" x2="218.30" y2="549.66" stroke="#f7961c" stroke-width="0.7" opacity="0.8"/>
<line x1="215.90" y1="572.41" x2="218.30" y2="572.41" stroke="#f7961c" stroke-width="0.7" opacity="0.8"/>
<line x1="244.00" y1="552.50" x2="244.00" y2="575.73" stroke="#f7961c" stroke-width="0.55" opacity="0.8"/>
<line x1="242.80" y1="552.50" x2="245.20" y2="552.50" stroke="#f7961c" stroke-width="0.7" opacity="0.8"/>
<line x1="242.80" y1="575.73" x2="245.20" y2="575.73" stroke="#f7961c" stroke-width="0.7" opacity="0.8"/>
<line x1="270.20" y1="553.45" x2="270.20" y2="576.68" stroke="#f7961c" stroke-width="0.55" opacity="0.8"/>
<line x1="269.00" y1="553.45" x2="271.40" y2="553.45" stroke="#f7961c" stroke-width="0.7" opacity="0.8"/>
<line x1="269.00" y1="576.68" x2="271.40" y2="576.68" stroke="#f7961c" stroke-width="0.7" opacity="0.8"/>
<line x1="296.50" y1="553.45" x2="296.50" y2="578.10" stroke="#f7961c" stroke-width="0.55" opacity="0.8"/>
<line x1="295.30" y1="553.45" x2="297.70" y2="553.45" stroke="#f7961c" stroke-width="0.7" opacity="0.8"/>
<line x1="295.30" y1="578.10" x2="297.70" y2="578.10" stroke="#f7961c" stroke-width="0.7" opacity="0.8"/>
<line x1="217.10" y1="548.24" x2="217.10" y2="574.31" stroke="#f0379b" stroke-width="0.55" opacity="0.8"/>
<line x1="215.90" y1="548.24" x2="218.30" y2="548.24" stroke="#f0379b" stroke-width="0.7" opacity="0.8"/>
<line x1="215.90" y1="574.31" x2="218.30" y2="574.31" stroke="#f0379b" stroke-width="0.7" opacity="0.8"/>
<line x1="244.00" y1="551.56" x2="244.00" y2="578.10" stroke="#f0379b" stroke-width="0.55" opacity="0.8"/>
<line x1="242.80" y1="551.56" x2="245.20" y2="551.56" stroke="#f0379b" stroke-width="0.7" opacity="0.8"/>
<line x1="242.80" y1="578.10" x2="245.20" y2="578.10" stroke="#f0379b" stroke-width="0.7" opacity="0.8"/>
<line x1="270.20" y1="552.50" x2="270.20" y2="577.15" stroke="#f0379b" stroke-width="0.55" opacity="0.8"/>
<line x1="269.00" y1="552.50" x2="271.40" y2="552.50" stroke="#f0379b" stroke-width="0.7" opacity="0.8"/>
<line x1="269.00" y1="577.15" x2="271.40" y2="577.15" stroke="#f0379b" stroke-width="0.7" opacity="0.8"/>
<line x1="296.50" y1="552.50" x2="296.50" y2="578.10" stroke="#f0379b" stroke-width="0.55" opacity="0.8"/>
<line x1="295.30" y1="552.50" x2="297.70" y2="552.50" stroke="#f0379b" stroke-width="0.7" opacity="0.8"/>
<line x1="295.30" y1="578.10" x2="297.70" y2="578.10" stroke="#f0379b" stroke-width="0.7" opacity="0.8"/>
<line x1="217.10" y1="548.24" x2="217.10" y2="574.78" stroke="#a21e18" stroke-width="0.55" opacity="0.8"/>
<line x1="215.90" y1="548.24" x2="218.30" y2="548.24" stroke="#a21e18" stroke-width="0.7" opacity="0.8"/>
<line x1="215.90" y1="574.78" x2="218.30" y2="574.78" stroke="#a21e18" stroke-width="0.7" opacity="0.8"/>
<line x1="244.00" y1="551.56" x2="244.00" y2="580.47" stroke="#a21e18" stroke-width="0.55" opacity="0.8"/>
<line x1="242.80" y1="551.56" x2="245.20" y2="551.56" stroke="#a21e18" stroke-width="0.7" opacity="0.8"/>
<line x1="242.80" y1="580.47" x2="245.20" y2="580.47" stroke="#a21e18" stroke-width="0.7" opacity="0.8"/>
<line x1="270.20" y1="552.50" x2="270.20" y2="577.15" stroke="#a21e18" stroke-width="0.55" opacity="0.8"/>
<line x1="269.00" y1="552.50" x2="271.40" y2="552.50" stroke="#a21e18" stroke-width="0.7" opacity="0.8"/>
<line x1="269.00" y1="577.15" x2="271.40" y2="577.15" stroke="#a21e18" stroke-width="0.7" opacity="0.8"/>
<line x1="296.50" y1="552.50" x2="296.50" y2="578.57" stroke="#a21e18" stroke-width="0.55" opacity="0.8"/>
<line x1="295.30" y1="552.50" x2="297.70" y2="552.50" stroke="#a21e18" stroke-width="0.7" opacity="0.8"/>
<line x1="295.30" y1="578.57" x2="297.70" y2="578.57" stroke="#a21e18" stroke-width="0.7" opacity="0.8"/>
<path d="M217.10,560.56 L244.00,563.88 L270.20,565.30 L296.50,566.25" stroke="#f7961c" stroke-width="1.15" fill="none" stroke-linejoin="round"/>
<rect x="216.10" y="559.56" width="2.00" height="2.00" fill="#f7961c"/>
<rect x="243.00" y="562.88" width="2.00" height="2.00" fill="#f7961c"/>
<rect x="269.20" y="564.30" width="2.00" height="2.00" fill="#f7961c"/>
<rect x="295.50" y="565.25" width="2.00" height="2.00" fill="#f7961c"/>
<path d="M217.10,560.09 L244.00,561.98 L270.20,564.83 L296.50,566.25" stroke="#f0379b" stroke-width="1.15" fill="none" stroke-linejoin="round"/>
<rect x="216.10" y="559.09" width="2.00" height="2.00" fill="#f0379b"/>
<rect x="243.00" y="560.98" width="2.00" height="2.00" fill="#f0379b"/>
<rect x="269.20" y="563.83" width="2.00" height="2.00" fill="#f0379b"/>
<rect x="295.50" y="565.25" width="2.00" height="2.00" fill="#f0379b"/>
<path d="M217.10,561.51 L244.00,565.78 L270.20,564.83 L296.50,566.25" stroke="#a21e18" stroke-width="1.15" fill="none" stroke-linejoin="round"/>
<rect x="216.10" y="560.51" width="2.00" height="2.00" fill="#a21e18"/>
<rect x="243.00" y="564.78" width="2.00" height="2.00" fill="#a21e18"/>
<rect x="269.20" y="563.83" width="2.00" height="2.00" fill="#a21e18"/>
<rect x="295.50" y="565.25" width="2.00" height="2.00" fill="#a21e18"/>
<line x1="302.90" y1="566.40" x2="310.60" y2="566.40" stroke="#f0379b" stroke-width="1.1" />
<rect x="305.75" y="565.40" width="2.00" height="2.00" fill="#f0379b"/>
<text x="313.20" y="568.20" font-size="5.9" fill="#2a2a2a" textLength="29.00" lengthAdjust="spacingAndGlyphs"  stroke="#2a2a2a" stroke-width="0.06">cre+ control</text>
<line x1="302.90" y1="573.70" x2="310.60" y2="573.70" stroke="#f7961c" stroke-width="1.1" />
<rect x="305.75" y="572.70" width="2.00" height="2.00" fill="#f7961c"/>
<text x="313.20" y="575.50" font-size="5.9" fill="#2a2a2a" textLength="10.80" lengthAdjust="spacingAndGlyphs"  stroke="#2a2a2a" stroke-width="0.06">cHet</text>
<line x1="302.90" y1="580.90" x2="310.60" y2="580.90" stroke="#a21e18" stroke-width="1.1" />
<rect x="305.75" y="579.90" width="2.00" height="2.00" fill="#a21e18"/>
<text x="313.20" y="582.70" font-size="5.9" fill="#2a2a2a" textLength="10.40" lengthAdjust="spacingAndGlyphs"  stroke="#2a2a2a" stroke-width="0.06">cKO</text>
<text x="349.40" y="419.30" font-size="12.6" fill="#000" font-weight="bold" stroke="#000" stroke-width="0.35">O</text>
<line x1="378.90" y1="428.00" x2="378.90" y2="488.60" stroke="#1e1e1e" stroke-width="1.4" />
<line x1="376.30" y1="483.40" x2="378.90" y2="483.40" stroke="#1e1e1e" stroke-width="0.9" />
<text x="373.80" y="485.70" font-size="6.5" fill="#444" text-anchor="end"  stroke="#444" stroke-width="0.1">0</text>
<line x1="376.30" y1="457.30" x2="378.90" y2="457.30" stroke="#1e1e1e" stroke-width="0.9" />
<text x="373.80" y="459.60" font-size="6.5" fill="#444" text-anchor="end"  stroke="#444" stroke-width="0.1">50</text>
<line x1="376.30" y1="431.20" x2="378.90" y2="431.20" stroke="#1e1e1e" stroke-width="0.9" />
<text x="373.80" y="433.50" font-size="6.5" fill="#444" text-anchor="end"  stroke="#444" stroke-width="0.1">100</text>
<line x1="378.30" y1="488.30" x2="467.90" y2="488.30" stroke="#1e1e1e" stroke-width="1.4" />
<text transform="translate(357.40,458.00) rotate(-90)" x="0" y="0" font-size="9.6" fill="#3a3a3a" text-anchor="middle" textLength="57.10" lengthAdjust="spacingAndGlyphs"  stroke="#3a3a3a" stroke-width="0.08">% donor chimerism</text>
<text x="422.80" y="423.30" font-size="8.6" fill="#222" text-anchor="middle" textLength="35.20" lengthAdjust="spacingAndGlyphs"  stroke="#222" stroke-width="0.2">LSK Cells</text>
<rect x="391.68" y="430.62" width="2.20" height="2.20" fill="#f0379b"/>
<polygon points="397.23,436.16 398.53,438.50 395.93,438.50" fill="#f0379b"/>
<rect x="391.67" y="436.36" width="2.20" height="2.20" fill="#f0379b"/>
<rect x="388.79" y="437.41" width="2.20" height="2.20" fill="#f0379b"/>
<rect x="391.93" y="441.58" width="2.20" height="2.20" fill="#f0379b"/>
<circle cx="396.52" cy="444.77" r="1.15" fill="#f0379b"/>
<circle cx="392.71" cy="446.86" r="1.15" fill="#f0379b"/>
<rect x="387.70" y="446.80" width="2.20" height="2.20" fill="#f0379b"/>
<rect x="393.68" y="450.98" width="2.20" height="2.20" fill="#f0379b"/>
<polygon points="398.60,458.61 399.90,460.95 397.30,460.95" fill="#f0379b"/>
<rect x="393.89" y="461.42" width="2.20" height="2.20" fill="#f0379b"/>
<rect x="393.85" y="465.07" width="2.20" height="2.20" fill="#f0379b"/>
<rect x="386.87" y="470.82" width="2.20" height="2.20" fill="#f0379b"/>
<circle cx="388.49" cy="472.96" r="1.15" fill="#f0379b"/>
<circle cx="389.89" cy="481.83" r="1.15" fill="#f0379b"/>
<polygon points="394.40,482.10 395.70,484.44 393.10,484.44" fill="#f0379b"/>
<rect x="390.29" y="436.36" width="2.20" height="2.20" fill="#f0379b"/>
<rect x="395.97" y="453.59" width="2.20" height="2.20" fill="#f0379b"/>
<line x1="393.30" y1="437.99" x2="393.30" y2="468.78" stroke="#444" stroke-width="1.0" opacity="0.85"/>
<line x1="383.60" y1="453.65" x2="403.00" y2="453.65" stroke="#444" stroke-width="1.0" opacity="0.9"/>
<line x1="388.30" y1="437.99" x2="398.30" y2="437.99" stroke="#444" stroke-width="1.0" opacity="0.9"/>
<line x1="388.30" y1="468.78" x2="398.30" y2="468.78" stroke="#444" stroke-width="1.0" opacity="0.9"/>
<rect x="420.72" y="430.62" width="2.20" height="2.20" fill="#f7961c"/>
<polygon points="422.42,435.12 423.72,437.46 421.12,437.46" fill="#f7961c"/>
<circle cx="418.17" cy="437.46" r="1.15" fill="#f7961c"/>
<polygon points="427.56,436.16 428.86,438.50 426.26,438.50" fill="#f7961c"/>
<polygon points="419.61,437.21 420.91,439.55 418.31,439.55" fill="#f7961c"/>
<rect x="423.10" y="443.15" width="2.20" height="2.20" fill="#f7961c"/>
<circle cx="419.10" cy="446.86" r="1.15" fill="#f7961c"/>
<circle cx="423.87" cy="454.69" r="1.15" fill="#f7961c"/>
<polygon points="427.36,456.00 428.66,458.34 426.06,458.34" fill="#f7961c"/>
<circle cx="418.38" cy="467.74" r="1.15" fill="#f7961c"/>
<circle cx="417.25" cy="470.35" r="1.15" fill="#f7961c"/>
<rect x="416.32" y="472.90" width="2.20" height="2.20" fill="#f7961c"/>
<rect x="424.51" y="473.95" width="2.20" height="2.20" fill="#f7961c"/>
<circle cx="421.05" cy="477.14" r="1.15" fill="#f7961c"/>
<circle cx="416.80" cy="479.22" r="1.15" fill="#f7961c"/>
<rect x="424.52" y="479.69" width="2.20" height="2.20" fill="#f7961c"/>
<circle cx="422.20" cy="481.83" r="1.15" fill="#f7961c"/>
<polygon points="427.48,436.16 428.78,438.50 426.18,438.50" fill="#f7961c"/>
<circle cx="427.01" cy="472.96" r="1.15" fill="#f7961c"/>
<line x1="422.10" y1="437.46" x2="422.10" y2="472.96" stroke="#444" stroke-width="1.0" opacity="0.85"/>
<line x1="412.40" y1="455.73" x2="431.80" y2="455.73" stroke="#444" stroke-width="1.0" opacity="0.9"/>
<line x1="417.10" y1="437.46" x2="427.10" y2="437.46" stroke="#444" stroke-width="1.0" opacity="0.9"/>
<line x1="417.10" y1="472.96" x2="427.10" y2="472.96" stroke="#444" stroke-width="1.0" opacity="0.9"/>
<rect x="446.65" y="430.62" width="2.20" height="2.20" fill="#8e1515"/>
<circle cx="454.90" cy="431.72" r="1.15" fill="#8e1515"/>
<rect x="450.97" y="435.32" width="2.20" height="2.20" fill="#8e1515"/>
<circle cx="446.52" cy="437.46" r="1.15" fill="#8e1515"/>
<circle cx="451.95" cy="438.51" r="1.15" fill="#8e1515"/>
<rect x="445.23" y="439.50" width="2.20" height="2.20" fill="#8e1515"/>
<rect x="453.10" y="443.15" width="2.20" height="2.20" fill="#8e1515"/>
<polygon points="448.14,450.78 449.44,453.12 446.84,453.12" fill="#8e1515"/>
<rect x="445.19" y="453.59" width="2.20" height="2.20" fill="#8e1515"/>
<circle cx="451.59" cy="457.30" r="1.15" fill="#8e1515"/>
<circle cx="455.82" cy="459.91" r="1.15" fill="#8e1515"/>
<polygon points="445.83,462.26 447.13,464.60 444.53,464.60" fill="#8e1515"/>
<rect x="452.89" y="468.73" width="2.20" height="2.20" fill="#8e1515"/>
<circle cx="449.70" cy="474.00" r="1.15" fill="#8e1515"/>
<polygon points="453.63,474.27 454.93,476.61 452.33,476.61" fill="#8e1515"/>
<circle cx="448.81" cy="478.18" r="1.15" fill="#8e1515"/>
<rect x="449.15" y="480.73" width="2.20" height="2.20" fill="#8e1515"/>
<polygon points="451.11,481.06 452.41,483.40 449.81,483.40" fill="#8e1515"/>
<polygon points="452.28,436.16 453.58,438.50 450.98,438.50" fill="#8e1515"/>
<line x1="450.40" y1="436.42" x2="450.40" y2="472.44" stroke="#444" stroke-width="1.0" opacity="0.85"/>
<line x1="440.70" y1="454.69" x2="460.10" y2="454.69" stroke="#444" stroke-width="1.0" opacity="0.9"/>
<line x1="445.40" y1="436.42" x2="455.40" y2="436.42" stroke="#444" stroke-width="1.0" opacity="0.9"/>
<line x1="445.40" y1="472.44" x2="455.40" y2="472.44" stroke="#444" stroke-width="1.0" opacity="0.9"/>
<text x="474.10" y="452.80" font-size="5.3" fill="#f43fae"  stroke="#f43fae" stroke-width="0.2">cre+ control</text>
<text x="474.10" y="459.80" font-size="5.3" fill="#f6a23a"  stroke="#f6a23a" stroke-width="0.2">cHet</text>
<text x="474.10" y="467.10" font-size="5.3" fill="#a8302c"  stroke="#a8302c" stroke-width="0.2">cKO</text>
<text x="351.10" y="533.90" font-size="12.6" fill="#000" font-weight="bold" stroke="#000" stroke-width="0.35">P</text>
<line x1="378.40" y1="542.30" x2="378.40" y2="602.60" stroke="#1e1e1e" stroke-width="1.4" />
<line x1="375.80" y1="597.20" x2="378.40" y2="597.20" stroke="#1e1e1e" stroke-width="0.9" />
<text x="373.30" y="599.50" font-size="6.5" fill="#444" text-anchor="end"  stroke="#444" stroke-width="0.1">0</text>
<line x1="375.80" y1="571.25" x2="378.40" y2="571.25" stroke="#1e1e1e" stroke-width="0.9" />
<text x="373.30" y="573.55" font-size="6.5" fill="#444" text-anchor="end"  stroke="#444" stroke-width="0.1">50</text>
<line x1="375.80" y1="545.30" x2="378.40" y2="545.30" stroke="#1e1e1e" stroke-width="0.9" />
<text x="373.30" y="547.60" font-size="6.5" fill="#444" text-anchor="end"  stroke="#444" stroke-width="0.1">100</text>
<line x1="377.80" y1="602.30" x2="467.90" y2="602.30" stroke="#1e1e1e" stroke-width="1.4" />
<text transform="translate(357.40,572.20) rotate(-90)" x="0" y="0" font-size="9.6" fill="#3a3a3a" text-anchor="middle" textLength="57.10" lengthAdjust="spacingAndGlyphs"  stroke="#3a3a3a" stroke-width="0.08">% donor chimerism</text>
<text x="422.80" y="540.20" font-size="8.6" fill="#222" text-anchor="middle" textLength="20.20" lengthAdjust="spacingAndGlyphs"  stroke="#222" stroke-width="0.2">HSCs</text>
<rect x="388.51" y="545.76" width="2.20" height="2.20" fill="#f0379b"/>
<polygon points="392.40,551.78 393.70,554.12 391.10,554.12" fill="#f0379b"/>
<circle cx="393.07" cy="554.64" r="1.15" fill="#f0379b"/>
<polygon points="398.69,560.61 399.99,562.95 397.39,562.95" fill="#f0379b"/>
<rect x="395.59" y="567.55" width="2.20" height="2.20" fill="#f0379b"/>
<rect x="388.72" y="569.11" width="2.20" height="2.20" fill="#f0379b"/>
<circle cx="390.40" cy="571.25" r="1.15" fill="#f0379b"/>
<rect x="386.86" y="570.15" width="2.20" height="2.20" fill="#f0379b"/>
<circle cx="392.51" cy="572.29" r="1.15" fill="#f0379b"/>
<circle cx="396.53" cy="573.33" r="1.15" fill="#f0379b"/>
<rect x="396.84" y="572.75" width="2.20" height="2.20" fill="#f0379b"/>
<rect x="387.17" y="575.34" width="2.20" height="2.20" fill="#f0379b"/>
<polygon points="396.28,577.74 397.58,580.07 394.98,580.07" fill="#f0379b"/>
<circle cx="394.57" cy="590.97" r="1.15" fill="#f0379b"/>
<rect x="397.22" y="593.50" width="2.20" height="2.20" fill="#f0379b"/>
<circle cx="393.27" cy="595.64" r="1.15" fill="#f0379b"/>
<polygon points="394.94,595.90 396.24,598.24 393.64,598.24" fill="#f0379b"/>
<rect x="386.96" y="596.10" width="2.20" height="2.20" fill="#f0379b"/>
<circle cx="396.79" cy="597.20" r="1.15" fill="#f0379b"/>
<line x1="393.30" y1="560.35" x2="393.30" y2="590.97" stroke="#444" stroke-width="1.0" opacity="0.85"/>
<line x1="383.60" y1="575.92" x2="403.00" y2="575.92" stroke="#444" stroke-width="1.0" opacity="0.9"/>
<line x1="388.30" y1="560.35" x2="398.30" y2="560.35" stroke="#444" stroke-width="1.0" opacity="0.9"/>
<line x1="388.30" y1="590.97" x2="398.30" y2="590.97" stroke="#444" stroke-width="1.0" opacity="0.9"/>
<circle cx="426.64" cy="545.82" r="1.15" fill="#f7961c"/>
<rect x="417.67" y="549.39" width="2.20" height="2.20" fill="#f7961c"/>
<circle cx="427.08" cy="553.08" r="1.15" fill="#f7961c"/>
<rect x="422.72" y="555.62" width="2.20" height="2.20" fill="#f7961c"/>
<polygon points="423.27,559.57 424.57,561.91 421.97,561.91" fill="#f7961c"/>
<circle cx="424.82" cy="563.47" r="1.15" fill="#f7961c"/>
<circle cx="418.65" cy="568.65" r="1.15" fill="#f7961c"/>
<rect x="418.51" y="571.19" width="2.20" height="2.20" fill="#f7961c"/>
<rect x="416.97" y="574.30" width="2.20" height="2.20" fill="#f7961c"/>
<polygon points="423.64,578.77 424.94,581.11 422.34,581.11" fill="#f7961c"/>
<circle cx="423.89" cy="584.23" r="1.15" fill="#f7961c"/>
<circle cx="422.45" cy="587.86" r="1.15" fill="#f7961c"/>
<polygon points="422.59,588.12 423.89,590.46 421.29,590.46" fill="#f7961c"/>
<circle cx="420.74" cy="590.97" r="1.15" fill="#f7961c"/>
<rect x="424.35" y="591.95" width="2.20" height="2.20" fill="#f7961c"/>
<rect x="420.84" y="593.50" width="2.20" height="2.20" fill="#f7961c"/>
<rect x="423.51" y="595.06" width="2.20" height="2.20" fill="#f7961c"/>
<polygon points="416.77,595.90 418.07,598.24 415.47,598.24" fill="#f7961c"/>
<polygon points="422.84,595.90 424.14,598.24 421.54,598.24" fill="#f7961c"/>
<polygon points="418.13,580.33 419.43,582.67 416.83,582.67" fill="#f7961c"/>
<line x1="421.60" y1="560.35" x2="421.60" y2="594.09" stroke="#444" stroke-width="1.0" opacity="0.85"/>
<line x1="411.90" y1="577.48" x2="431.30" y2="577.48" stroke="#444" stroke-width="1.0" opacity="0.9"/>
<line x1="416.60" y1="560.35" x2="426.60" y2="560.35" stroke="#444" stroke-width="1.0" opacity="0.9"/>
<line x1="416.60" y1="594.09" x2="426.60" y2="594.09" stroke="#444" stroke-width="1.0" opacity="0.9"/>
<polygon points="455.07,546.08 456.37,548.42 453.77,548.42" fill="#8e1515"/>
<circle cx="454.72" cy="547.89" r="1.15" fill="#8e1515"/>
<polygon points="445.09,548.15 446.39,550.49 443.79,550.49" fill="#8e1515"/>
<rect x="448.46" y="554.58" width="2.20" height="2.20" fill="#8e1515"/>
<rect x="447.74" y="558.73" width="2.20" height="2.20" fill="#8e1515"/>
<polygon points="447.01,562.17 448.31,564.50 445.71,564.50" fill="#8e1515"/>
<rect x="443.95" y="563.92" width="2.20" height="2.20" fill="#8e1515"/>
<circle cx="449.91" cy="568.65" r="1.15" fill="#8e1515"/>
<rect x="444.96" y="570.15" width="2.20" height="2.20" fill="#8e1515"/>
<circle cx="450.38" cy="576.44" r="1.15" fill="#8e1515"/>
<rect x="449.44" y="585.72" width="2.20" height="2.20" fill="#8e1515"/>
<circle cx="449.64" cy="590.97" r="1.15" fill="#8e1515"/>
<circle cx="447.16" cy="593.05" r="1.15" fill="#8e1515"/>
<rect x="450.28" y="593.50" width="2.20" height="2.20" fill="#8e1515"/>
<circle cx="446.79" cy="595.64" r="1.15" fill="#8e1515"/>
<polygon points="455.58,594.86 456.88,597.20 454.28,597.20" fill="#8e1515"/>
<polygon points="451.12,595.38 452.42,597.72 449.82,597.72" fill="#8e1515"/>
<polygon points="455.55,595.90 456.85,598.24 454.25,598.24" fill="#8e1515"/>
<polygon points="452.17,595.90 453.47,598.24 450.87,598.24" fill="#8e1515"/>
<line x1="450.40" y1="555.68" x2="450.40" y2="593.05" stroke="#444" stroke-width="1.0" opacity="0.85"/>
<line x1="440.70" y1="574.88" x2="460.10" y2="574.88" stroke="#444" stroke-width="1.0" opacity="0.9"/>
<line x1="445.40" y1="555.68" x2="455.40" y2="555.68" stroke="#444" stroke-width="1.0" opacity="0.9"/>
<line x1="445.40" y1="593.05" x2="455.40" y2="593.05" stroke="#444" stroke-width="1.0" opacity="0.9"/>
<text x="474.10" y="566.70" font-size="5.3" fill="#f43fae"  stroke="#f43fae" stroke-width="0.2">cre+ control</text>
<text x="474.10" y="574.00" font-size="5.3" fill="#f6a23a"  stroke="#f6a23a" stroke-width="0.2">cHet</text>
<text x="474.10" y="581.30" font-size="5.3" fill="#a8302c"  stroke="#a8302c" stroke-width="0.2">cKO</text>
<rect x="0.5" y="0.5" width="519" height="635" fill="none" stroke="#000" stroke-width="1.1"/>
</svg>
</div>
</body></html>
